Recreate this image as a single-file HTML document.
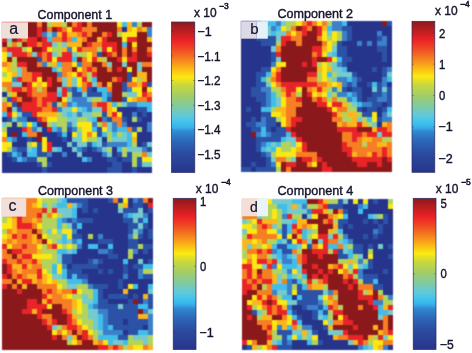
<!DOCTYPE html>
<html><head><meta charset="utf-8"><title>Components</title>
<style>
html,body{margin:0;padding:0;background:#fff}
body{width:472px;height:353px;overflow:hidden;position:relative}
svg{position:absolute;left:0;top:0;display:block}
text{font-family:"Liberation Sans",sans-serif;fill:#14142b;stroke:#14142b;stroke-width:0.4px}
</style></head><body>
<svg width="472" height="353" viewBox="0 0 472 353">
<defs><filter id="soft" x="-2%" y="-2%" width="104%" height="104%" color-interpolation-filters="sRGB"><feConvolveMatrix order="3" kernelMatrix="0.04 0.12 0.04 0.12 0.36 0.12 0.04 0.12 0.04" divisor="1" edgeMode="none" preserveAlpha="false"/></filter>
<linearGradient id="jet" x1="0" y1="0" x2="0" y2="1">
<stop offset="0" stop-color="#8a1a1b"/>
<stop offset="0.125" stop-color="#ed2226"/>
<stop offset="0.19" stop-color="#f05023"/>
<stop offset="0.25" stop-color="#f58220"/>
<stop offset="0.31" stop-color="#fbb716"/>
<stop offset="0.365" stop-color="#fde912"/>
<stop offset="0.42" stop-color="#c8d83c"/>
<stop offset="0.50" stop-color="#9dcc6e"/>
<stop offset="0.57" stop-color="#7ccaa8"/>
<stop offset="0.625" stop-color="#5ec9dc"/>
<stop offset="0.665" stop-color="#41c3ee"/>
<stop offset="0.70" stop-color="#38b2e9"/>
<stop offset="0.73" stop-color="#3088d0"/>
<stop offset="0.79" stop-color="#2d68b8"/>
<stop offset="0.875" stop-color="#2b4b9f"/>
<stop offset="1" stop-color="#27348b"/>
</linearGradient></defs>
<g filter="url(#soft)" shape-rendering="crispEdges">
<rect x="2.00" y="22.30" width="26.22" height="6.21" fill="#e92428"/>
<rect x="27.02" y="22.30" width="11.21" height="6.21" fill="#8b191b"/>
<rect x="37.02" y="22.30" width="6.20" height="6.21" fill="#f57f22"/>
<rect x="42.03" y="22.30" width="6.20" height="6.21" fill="#8b191b"/>
<rect x="47.03" y="22.30" width="6.20" height="6.21" fill="#b3d45c"/>
<rect x="52.03" y="22.30" width="11.21" height="6.21" fill="#fcb61a"/>
<rect x="62.04" y="22.30" width="6.20" height="6.21" fill="#b3d45c"/>
<rect x="67.04" y="22.30" width="6.20" height="6.21" fill="#8b191b"/>
<rect x="72.05" y="22.30" width="6.20" height="6.21" fill="#f57f22"/>
<rect x="77.05" y="22.30" width="6.20" height="6.21" fill="#e92428"/>
<rect x="82.05" y="22.30" width="6.20" height="6.21" fill="#8b191b"/>
<rect x="87.06" y="22.30" width="6.20" height="6.21" fill="#f57f22"/>
<rect x="92.06" y="22.30" width="26.22" height="6.21" fill="#8b191b"/>
<rect x="117.08" y="22.30" width="6.20" height="6.21" fill="#fbe813"/>
<rect x="122.08" y="22.30" width="6.20" height="6.21" fill="#41bdea"/>
<rect x="127.08" y="22.30" width="6.20" height="6.21" fill="#fcb61a"/>
<rect x="132.09" y="22.30" width="6.20" height="6.21" fill="#3a80cb"/>
<rect x="137.09" y="22.30" width="6.20" height="6.21" fill="#b3d45c"/>
<rect x="142.09" y="22.30" width="10.01" height="6.21" fill="#8b191b"/>
<rect x="2.00" y="27.31" width="26.22" height="6.21" fill="#e92428"/>
<rect x="27.02" y="27.31" width="11.21" height="6.21" fill="#8b191b"/>
<rect x="37.02" y="27.31" width="6.20" height="6.21" fill="#e92428"/>
<rect x="42.03" y="27.31" width="6.20" height="6.21" fill="#8b191b"/>
<rect x="47.03" y="27.31" width="6.20" height="6.21" fill="#f57f22"/>
<rect x="52.03" y="27.31" width="6.20" height="6.21" fill="#8b191b"/>
<rect x="57.04" y="27.31" width="6.20" height="6.21" fill="#e92428"/>
<rect x="62.04" y="27.31" width="6.20" height="6.21" fill="#f57f22"/>
<rect x="67.04" y="27.31" width="6.20" height="6.21" fill="#fbe813"/>
<rect x="72.05" y="27.31" width="11.21" height="6.21" fill="#e92428"/>
<rect x="82.05" y="27.31" width="16.21" height="6.21" fill="#f57f22"/>
<rect x="97.06" y="27.31" width="21.21" height="6.21" fill="#8b191b"/>
<rect x="117.08" y="27.31" width="6.20" height="6.21" fill="#f57f22"/>
<rect x="122.08" y="27.31" width="6.20" height="6.21" fill="#27348b"/>
<rect x="127.08" y="27.31" width="6.20" height="6.21" fill="#fcb61a"/>
<rect x="132.09" y="27.31" width="6.20" height="6.21" fill="#fbe813"/>
<rect x="137.09" y="27.31" width="6.20" height="6.21" fill="#f57f22"/>
<rect x="142.09" y="27.31" width="6.20" height="6.21" fill="#fcb61a"/>
<rect x="147.10" y="27.31" width="5.00" height="6.21" fill="#3a80cb"/>
<rect x="2.00" y="32.31" width="26.22" height="6.21" fill="#e92428"/>
<rect x="27.02" y="32.31" width="11.21" height="6.21" fill="#8b191b"/>
<rect x="37.02" y="32.31" width="6.20" height="6.21" fill="#e92428"/>
<rect x="42.03" y="32.31" width="6.20" height="6.21" fill="#3a80cb"/>
<rect x="47.03" y="32.31" width="6.20" height="6.21" fill="#74cacd"/>
<rect x="52.03" y="32.31" width="6.20" height="6.21" fill="#3a80cb"/>
<rect x="57.04" y="32.31" width="6.20" height="6.21" fill="#fcb61a"/>
<rect x="62.04" y="32.31" width="6.20" height="6.21" fill="#e92428"/>
<rect x="67.04" y="32.31" width="11.21" height="6.21" fill="#fcb61a"/>
<rect x="77.05" y="32.31" width="6.20" height="6.21" fill="#f57f22"/>
<rect x="82.05" y="32.31" width="6.20" height="6.21" fill="#e92428"/>
<rect x="87.06" y="32.31" width="6.20" height="6.21" fill="#f57f22"/>
<rect x="92.06" y="32.31" width="11.21" height="6.21" fill="#8b191b"/>
<rect x="102.07" y="32.31" width="6.20" height="6.21" fill="#f57f22"/>
<rect x="107.07" y="32.31" width="6.20" height="6.21" fill="#e92428"/>
<rect x="112.07" y="32.31" width="6.20" height="6.21" fill="#8b191b"/>
<rect x="117.08" y="32.31" width="6.20" height="6.21" fill="#b3d45c"/>
<rect x="122.08" y="32.31" width="16.21" height="6.21" fill="#fbe813"/>
<rect x="137.09" y="32.31" width="11.21" height="6.21" fill="#8b191b"/>
<rect x="147.10" y="32.31" width="5.00" height="6.21" fill="#3a80cb"/>
<rect x="2.00" y="37.32" width="6.20" height="6.21" fill="#e92428"/>
<rect x="7.00" y="37.32" width="6.20" height="6.21" fill="#74cacd"/>
<rect x="12.01" y="37.32" width="6.20" height="6.21" fill="#8b191b"/>
<rect x="17.01" y="37.32" width="6.20" height="6.21" fill="#e92428"/>
<rect x="22.01" y="37.32" width="6.20" height="6.21" fill="#f57f22"/>
<rect x="27.02" y="37.32" width="11.21" height="6.21" fill="#e92428"/>
<rect x="37.02" y="37.32" width="6.20" height="6.21" fill="#8b191b"/>
<rect x="42.03" y="37.32" width="6.20" height="6.21" fill="#e92428"/>
<rect x="47.03" y="37.32" width="6.20" height="6.21" fill="#41bdea"/>
<rect x="52.03" y="37.32" width="11.21" height="6.21" fill="#f57f22"/>
<rect x="62.04" y="37.32" width="6.20" height="6.21" fill="#e92428"/>
<rect x="67.04" y="37.32" width="6.20" height="6.21" fill="#f57f22"/>
<rect x="72.05" y="37.32" width="6.20" height="6.21" fill="#41bdea"/>
<rect x="77.05" y="37.32" width="6.20" height="6.21" fill="#fcb61a"/>
<rect x="82.05" y="37.32" width="6.20" height="6.21" fill="#f57f22"/>
<rect x="87.06" y="37.32" width="11.21" height="6.21" fill="#8b191b"/>
<rect x="97.06" y="37.32" width="6.20" height="6.21" fill="#fcb61a"/>
<rect x="102.07" y="37.32" width="6.20" height="6.21" fill="#e92428"/>
<rect x="107.07" y="37.32" width="16.21" height="6.21" fill="#8b191b"/>
<rect x="122.08" y="37.32" width="6.20" height="6.21" fill="#fbe813"/>
<rect x="127.08" y="37.32" width="11.21" height="6.21" fill="#e92428"/>
<rect x="137.09" y="37.32" width="11.21" height="6.21" fill="#8b191b"/>
<rect x="147.10" y="37.32" width="5.00" height="6.21" fill="#fcb61a"/>
<rect x="2.00" y="42.33" width="6.20" height="6.21" fill="#8b191b"/>
<rect x="7.00" y="42.33" width="6.20" height="6.21" fill="#b3d45c"/>
<rect x="12.01" y="42.33" width="6.20" height="6.21" fill="#f57f22"/>
<rect x="17.01" y="42.33" width="6.20" height="6.21" fill="#b3d45c"/>
<rect x="22.01" y="42.33" width="6.20" height="6.21" fill="#8b191b"/>
<rect x="27.02" y="42.33" width="11.21" height="6.21" fill="#e92428"/>
<rect x="37.02" y="42.33" width="6.20" height="6.21" fill="#f57f22"/>
<rect x="42.03" y="42.33" width="11.21" height="6.21" fill="#e92428"/>
<rect x="52.03" y="42.33" width="6.20" height="6.21" fill="#74cacd"/>
<rect x="57.04" y="42.33" width="6.20" height="6.21" fill="#b3d45c"/>
<rect x="62.04" y="42.33" width="6.20" height="6.21" fill="#74cacd"/>
<rect x="67.04" y="42.33" width="16.21" height="6.21" fill="#fcb61a"/>
<rect x="82.05" y="42.33" width="6.20" height="6.21" fill="#8b191b"/>
<rect x="87.06" y="42.33" width="6.20" height="6.21" fill="#e92428"/>
<rect x="92.06" y="42.33" width="11.21" height="6.21" fill="#f57f22"/>
<rect x="102.07" y="42.33" width="16.21" height="6.21" fill="#e92428"/>
<rect x="117.08" y="42.33" width="6.20" height="6.21" fill="#8b191b"/>
<rect x="122.08" y="42.33" width="6.20" height="6.21" fill="#41bdea"/>
<rect x="127.08" y="42.33" width="6.20" height="6.21" fill="#8b191b"/>
<rect x="132.09" y="42.33" width="6.20" height="6.21" fill="#fbe813"/>
<rect x="137.09" y="42.33" width="15.01" height="6.21" fill="#8b191b"/>
<rect x="2.00" y="47.33" width="6.20" height="6.21" fill="#f57f22"/>
<rect x="7.00" y="47.33" width="16.21" height="6.21" fill="#e92428"/>
<rect x="22.01" y="47.33" width="6.20" height="6.21" fill="#b3d45c"/>
<rect x="27.02" y="47.33" width="6.20" height="6.21" fill="#fbe813"/>
<rect x="32.02" y="47.33" width="11.21" height="6.21" fill="#8b191b"/>
<rect x="42.03" y="47.33" width="6.20" height="6.21" fill="#e92428"/>
<rect x="47.03" y="47.33" width="6.20" height="6.21" fill="#fbe813"/>
<rect x="52.03" y="47.33" width="11.21" height="6.21" fill="#b3d45c"/>
<rect x="62.04" y="47.33" width="6.20" height="6.21" fill="#fcb61a"/>
<rect x="67.04" y="47.33" width="6.20" height="6.21" fill="#3a80cb"/>
<rect x="72.05" y="47.33" width="6.20" height="6.21" fill="#fbe813"/>
<rect x="77.05" y="47.33" width="6.20" height="6.21" fill="#e92428"/>
<rect x="82.05" y="47.33" width="16.21" height="6.21" fill="#f57f22"/>
<rect x="97.06" y="47.33" width="6.20" height="6.21" fill="#b3d45c"/>
<rect x="102.07" y="47.33" width="6.20" height="6.21" fill="#e92428"/>
<rect x="107.07" y="47.33" width="6.20" height="6.21" fill="#fbe813"/>
<rect x="112.07" y="47.33" width="6.20" height="6.21" fill="#e92428"/>
<rect x="117.08" y="47.33" width="6.20" height="6.21" fill="#8b191b"/>
<rect x="122.08" y="47.33" width="6.20" height="6.21" fill="#f57f22"/>
<rect x="127.08" y="47.33" width="6.20" height="6.21" fill="#8b191b"/>
<rect x="132.09" y="47.33" width="6.20" height="6.21" fill="#f57f22"/>
<rect x="137.09" y="47.33" width="11.21" height="6.21" fill="#8b191b"/>
<rect x="147.10" y="47.33" width="5.00" height="6.21" fill="#f57f22"/>
<rect x="2.00" y="52.34" width="6.20" height="6.21" fill="#fbe813"/>
<rect x="7.00" y="52.34" width="6.20" height="6.21" fill="#74cacd"/>
<rect x="12.01" y="52.34" width="16.21" height="6.21" fill="#e92428"/>
<rect x="27.02" y="52.34" width="6.20" height="6.21" fill="#f57f22"/>
<rect x="32.02" y="52.34" width="6.20" height="6.21" fill="#74cacd"/>
<rect x="37.02" y="52.34" width="6.20" height="6.21" fill="#e92428"/>
<rect x="42.03" y="52.34" width="6.20" height="6.21" fill="#f57f22"/>
<rect x="47.03" y="52.34" width="6.20" height="6.21" fill="#e92428"/>
<rect x="52.03" y="52.34" width="6.20" height="6.21" fill="#74cacd"/>
<rect x="57.04" y="52.34" width="6.20" height="6.21" fill="#b3d45c"/>
<rect x="62.04" y="52.34" width="11.21" height="6.21" fill="#e92428"/>
<rect x="72.05" y="52.34" width="6.20" height="6.21" fill="#74cacd"/>
<rect x="77.05" y="52.34" width="11.21" height="6.21" fill="#b3d45c"/>
<rect x="87.06" y="52.34" width="6.20" height="6.21" fill="#fbe813"/>
<rect x="92.06" y="52.34" width="6.20" height="6.21" fill="#f57f22"/>
<rect x="97.06" y="52.34" width="6.20" height="6.21" fill="#2b52a6"/>
<rect x="102.07" y="52.34" width="6.20" height="6.21" fill="#8b191b"/>
<rect x="107.07" y="52.34" width="6.20" height="6.21" fill="#e92428"/>
<rect x="112.07" y="52.34" width="6.20" height="6.21" fill="#f57f22"/>
<rect x="117.08" y="52.34" width="6.20" height="6.21" fill="#8b191b"/>
<rect x="122.08" y="52.34" width="6.20" height="6.21" fill="#f57f22"/>
<rect x="127.08" y="52.34" width="6.20" height="6.21" fill="#8b191b"/>
<rect x="132.09" y="52.34" width="6.20" height="6.21" fill="#e92428"/>
<rect x="137.09" y="52.34" width="11.21" height="6.21" fill="#8b191b"/>
<rect x="147.10" y="52.34" width="5.00" height="6.21" fill="#e92428"/>
<rect x="2.00" y="57.35" width="6.20" height="6.21" fill="#fbe813"/>
<rect x="7.00" y="57.35" width="6.20" height="6.21" fill="#8b191b"/>
<rect x="12.01" y="57.35" width="6.20" height="6.21" fill="#b3d45c"/>
<rect x="17.01" y="57.35" width="21.21" height="6.21" fill="#8b191b"/>
<rect x="37.02" y="57.35" width="6.20" height="6.21" fill="#2b52a6"/>
<rect x="42.03" y="57.35" width="6.20" height="6.21" fill="#f57f22"/>
<rect x="47.03" y="57.35" width="6.20" height="6.21" fill="#e92428"/>
<rect x="52.03" y="57.35" width="6.20" height="6.21" fill="#fbe813"/>
<rect x="57.04" y="57.35" width="16.21" height="6.21" fill="#e92428"/>
<rect x="72.05" y="57.35" width="6.20" height="6.21" fill="#41bdea"/>
<rect x="77.05" y="57.35" width="6.20" height="6.21" fill="#8b191b"/>
<rect x="82.05" y="57.35" width="6.20" height="6.21" fill="#f57f22"/>
<rect x="87.06" y="57.35" width="6.20" height="6.21" fill="#fbe813"/>
<rect x="92.06" y="57.35" width="6.20" height="6.21" fill="#e92428"/>
<rect x="97.06" y="57.35" width="6.20" height="6.21" fill="#fcb61a"/>
<rect x="102.07" y="57.35" width="6.20" height="6.21" fill="#b3d45c"/>
<rect x="107.07" y="57.35" width="11.21" height="6.21" fill="#8b191b"/>
<rect x="117.08" y="57.35" width="6.20" height="6.21" fill="#e92428"/>
<rect x="122.08" y="57.35" width="6.20" height="6.21" fill="#fbe813"/>
<rect x="127.08" y="57.35" width="11.21" height="6.21" fill="#e92428"/>
<rect x="137.09" y="57.35" width="15.01" height="6.21" fill="#8b191b"/>
<rect x="2.00" y="62.35" width="6.20" height="6.21" fill="#f57f22"/>
<rect x="7.00" y="62.35" width="6.20" height="6.21" fill="#fcb61a"/>
<rect x="12.01" y="62.35" width="6.20" height="6.21" fill="#b3d45c"/>
<rect x="17.01" y="62.35" width="11.21" height="6.21" fill="#e92428"/>
<rect x="27.02" y="62.35" width="11.21" height="6.21" fill="#8b191b"/>
<rect x="37.02" y="62.35" width="6.20" height="6.21" fill="#f57f22"/>
<rect x="42.03" y="62.35" width="6.20" height="6.21" fill="#3a80cb"/>
<rect x="47.03" y="62.35" width="6.20" height="6.21" fill="#b3d45c"/>
<rect x="52.03" y="62.35" width="6.20" height="6.21" fill="#fcb61a"/>
<rect x="57.04" y="62.35" width="6.20" height="6.21" fill="#41bdea"/>
<rect x="62.04" y="62.35" width="11.21" height="6.21" fill="#f57f22"/>
<rect x="72.05" y="62.35" width="6.20" height="6.21" fill="#fbe813"/>
<rect x="77.05" y="62.35" width="6.20" height="6.21" fill="#3a80cb"/>
<rect x="82.05" y="62.35" width="11.21" height="6.21" fill="#f57f22"/>
<rect x="92.06" y="62.35" width="11.21" height="6.21" fill="#8b191b"/>
<rect x="102.07" y="62.35" width="6.20" height="6.21" fill="#f57f22"/>
<rect x="107.07" y="62.35" width="6.20" height="6.21" fill="#74cacd"/>
<rect x="112.07" y="62.35" width="11.21" height="6.21" fill="#8b191b"/>
<rect x="122.08" y="62.35" width="6.20" height="6.21" fill="#74cacd"/>
<rect x="127.08" y="62.35" width="11.21" height="6.21" fill="#8b191b"/>
<rect x="137.09" y="62.35" width="6.20" height="6.21" fill="#74cacd"/>
<rect x="142.09" y="62.35" width="10.01" height="6.21" fill="#f57f22"/>
<rect x="2.00" y="67.36" width="6.20" height="6.21" fill="#fbe813"/>
<rect x="7.00" y="67.36" width="6.20" height="6.21" fill="#fcb61a"/>
<rect x="12.01" y="67.36" width="6.20" height="6.21" fill="#b3d45c"/>
<rect x="17.01" y="67.36" width="6.20" height="6.21" fill="#74cacd"/>
<rect x="22.01" y="67.36" width="6.20" height="6.21" fill="#f57f22"/>
<rect x="27.02" y="67.36" width="26.22" height="6.21" fill="#8b191b"/>
<rect x="52.03" y="67.36" width="6.20" height="6.21" fill="#41bdea"/>
<rect x="57.04" y="67.36" width="6.20" height="6.21" fill="#b3d45c"/>
<rect x="62.04" y="67.36" width="11.21" height="6.21" fill="#f57f22"/>
<rect x="72.05" y="67.36" width="6.20" height="6.21" fill="#8b191b"/>
<rect x="77.05" y="67.36" width="6.20" height="6.21" fill="#fbe813"/>
<rect x="82.05" y="67.36" width="6.20" height="6.21" fill="#f57f22"/>
<rect x="87.06" y="67.36" width="6.20" height="6.21" fill="#e92428"/>
<rect x="92.06" y="67.36" width="6.20" height="6.21" fill="#f57f22"/>
<rect x="97.06" y="67.36" width="11.21" height="6.21" fill="#8b191b"/>
<rect x="107.07" y="67.36" width="6.20" height="6.21" fill="#f57f22"/>
<rect x="112.07" y="67.36" width="6.20" height="6.21" fill="#8b191b"/>
<rect x="117.08" y="67.36" width="6.20" height="6.21" fill="#e92428"/>
<rect x="122.08" y="67.36" width="6.20" height="6.21" fill="#8b191b"/>
<rect x="127.08" y="67.36" width="6.20" height="6.21" fill="#fbe813"/>
<rect x="132.09" y="67.36" width="6.20" height="6.21" fill="#8b191b"/>
<rect x="137.09" y="67.36" width="6.20" height="6.21" fill="#74cacd"/>
<rect x="142.09" y="67.36" width="10.01" height="6.21" fill="#8b191b"/>
<rect x="2.00" y="72.37" width="6.20" height="6.21" fill="#b3d45c"/>
<rect x="7.00" y="72.37" width="6.20" height="6.21" fill="#fbe813"/>
<rect x="12.01" y="72.37" width="6.20" height="6.21" fill="#fcb61a"/>
<rect x="17.01" y="72.37" width="6.20" height="6.21" fill="#74cacd"/>
<rect x="22.01" y="72.37" width="11.21" height="6.21" fill="#f57f22"/>
<rect x="32.02" y="72.37" width="11.21" height="6.21" fill="#e92428"/>
<rect x="42.03" y="72.37" width="16.21" height="6.21" fill="#8b191b"/>
<rect x="57.04" y="72.37" width="6.20" height="6.21" fill="#3a80cb"/>
<rect x="62.04" y="72.37" width="6.20" height="6.21" fill="#f57f22"/>
<rect x="67.04" y="72.37" width="6.20" height="6.21" fill="#fcb61a"/>
<rect x="72.05" y="72.37" width="6.20" height="6.21" fill="#fbe813"/>
<rect x="77.05" y="72.37" width="6.20" height="6.21" fill="#e92428"/>
<rect x="82.05" y="72.37" width="6.20" height="6.21" fill="#f57f22"/>
<rect x="87.06" y="72.37" width="6.20" height="6.21" fill="#b3d45c"/>
<rect x="92.06" y="72.37" width="6.20" height="6.21" fill="#e92428"/>
<rect x="97.06" y="72.37" width="31.22" height="6.21" fill="#8b191b"/>
<rect x="127.08" y="72.37" width="6.20" height="6.21" fill="#2b52a6"/>
<rect x="132.09" y="72.37" width="6.20" height="6.21" fill="#8b191b"/>
<rect x="137.09" y="72.37" width="11.21" height="6.21" fill="#fcb61a"/>
<rect x="147.10" y="72.37" width="5.00" height="6.21" fill="#8b191b"/>
<rect x="2.00" y="77.37" width="11.21" height="6.21" fill="#fbe813"/>
<rect x="12.01" y="77.37" width="6.20" height="6.21" fill="#3a80cb"/>
<rect x="17.01" y="77.37" width="6.20" height="6.21" fill="#e92428"/>
<rect x="22.01" y="77.37" width="11.21" height="6.21" fill="#f57f22"/>
<rect x="32.02" y="77.37" width="6.20" height="6.21" fill="#e92428"/>
<rect x="37.02" y="77.37" width="6.20" height="6.21" fill="#fbe813"/>
<rect x="42.03" y="77.37" width="6.20" height="6.21" fill="#8b191b"/>
<rect x="47.03" y="77.37" width="6.20" height="6.21" fill="#e92428"/>
<rect x="52.03" y="77.37" width="6.20" height="6.21" fill="#8b191b"/>
<rect x="57.04" y="77.37" width="6.20" height="6.21" fill="#f57f22"/>
<rect x="62.04" y="77.37" width="6.20" height="6.21" fill="#74cacd"/>
<rect x="67.04" y="77.37" width="6.20" height="6.21" fill="#fcb61a"/>
<rect x="72.05" y="77.37" width="6.20" height="6.21" fill="#74cacd"/>
<rect x="77.05" y="77.37" width="6.20" height="6.21" fill="#fbe813"/>
<rect x="82.05" y="77.37" width="6.20" height="6.21" fill="#e92428"/>
<rect x="87.06" y="77.37" width="6.20" height="6.21" fill="#b3d45c"/>
<rect x="92.06" y="77.37" width="6.20" height="6.21" fill="#41bdea"/>
<rect x="97.06" y="77.37" width="16.21" height="6.21" fill="#8b191b"/>
<rect x="112.07" y="77.37" width="6.20" height="6.21" fill="#f57f22"/>
<rect x="117.08" y="77.37" width="6.20" height="6.21" fill="#e92428"/>
<rect x="122.08" y="77.37" width="6.20" height="6.21" fill="#8b191b"/>
<rect x="127.08" y="77.37" width="6.20" height="6.21" fill="#2b52a6"/>
<rect x="132.09" y="77.37" width="6.20" height="6.21" fill="#fbe813"/>
<rect x="137.09" y="77.37" width="6.20" height="6.21" fill="#b3d45c"/>
<rect x="142.09" y="77.37" width="6.20" height="6.21" fill="#fcb61a"/>
<rect x="147.10" y="77.37" width="5.00" height="6.21" fill="#8b191b"/>
<rect x="2.00" y="82.38" width="11.21" height="6.21" fill="#f57f22"/>
<rect x="12.01" y="82.38" width="11.21" height="6.21" fill="#74cacd"/>
<rect x="22.01" y="82.38" width="6.20" height="6.21" fill="#8b191b"/>
<rect x="27.02" y="82.38" width="6.20" height="6.21" fill="#e92428"/>
<rect x="32.02" y="82.38" width="6.20" height="6.21" fill="#fbe813"/>
<rect x="37.02" y="82.38" width="6.20" height="6.21" fill="#fcb61a"/>
<rect x="42.03" y="82.38" width="6.20" height="6.21" fill="#fbe813"/>
<rect x="47.03" y="82.38" width="6.20" height="6.21" fill="#e92428"/>
<rect x="52.03" y="82.38" width="11.21" height="6.21" fill="#8b191b"/>
<rect x="62.04" y="82.38" width="6.20" height="6.21" fill="#74cacd"/>
<rect x="67.04" y="82.38" width="6.20" height="6.21" fill="#fcb61a"/>
<rect x="72.05" y="82.38" width="6.20" height="6.21" fill="#74cacd"/>
<rect x="77.05" y="82.38" width="6.20" height="6.21" fill="#fbe813"/>
<rect x="82.05" y="82.38" width="6.20" height="6.21" fill="#f57f22"/>
<rect x="87.06" y="82.38" width="6.20" height="6.21" fill="#e92428"/>
<rect x="92.06" y="82.38" width="6.20" height="6.21" fill="#74cacd"/>
<rect x="97.06" y="82.38" width="6.20" height="6.21" fill="#f57f22"/>
<rect x="102.07" y="82.38" width="6.20" height="6.21" fill="#8b191b"/>
<rect x="107.07" y="82.38" width="6.20" height="6.21" fill="#fcb61a"/>
<rect x="112.07" y="82.38" width="11.21" height="6.21" fill="#8b191b"/>
<rect x="122.08" y="82.38" width="6.20" height="6.21" fill="#2b52a6"/>
<rect x="127.08" y="82.38" width="11.21" height="6.21" fill="#f57f22"/>
<rect x="137.09" y="82.38" width="6.20" height="6.21" fill="#fcb61a"/>
<rect x="142.09" y="82.38" width="6.20" height="6.21" fill="#e92428"/>
<rect x="147.10" y="82.38" width="5.00" height="6.21" fill="#2b52a6"/>
<rect x="2.00" y="87.39" width="6.20" height="6.21" fill="#b3d45c"/>
<rect x="7.00" y="87.39" width="6.20" height="6.21" fill="#f57f22"/>
<rect x="12.01" y="87.39" width="11.21" height="6.21" fill="#e92428"/>
<rect x="22.01" y="87.39" width="6.20" height="6.21" fill="#f57f22"/>
<rect x="27.02" y="87.39" width="6.20" height="6.21" fill="#e92428"/>
<rect x="32.02" y="87.39" width="6.20" height="6.21" fill="#f57f22"/>
<rect x="37.02" y="87.39" width="6.20" height="6.21" fill="#b3d45c"/>
<rect x="42.03" y="87.39" width="6.20" height="6.21" fill="#f57f22"/>
<rect x="47.03" y="87.39" width="11.21" height="6.21" fill="#8b191b"/>
<rect x="57.04" y="87.39" width="6.20" height="6.21" fill="#74cacd"/>
<rect x="62.04" y="87.39" width="6.20" height="6.21" fill="#e92428"/>
<rect x="67.04" y="87.39" width="6.20" height="6.21" fill="#3a80cb"/>
<rect x="72.05" y="87.39" width="6.20" height="6.21" fill="#2b52a6"/>
<rect x="77.05" y="87.39" width="6.20" height="6.21" fill="#41bdea"/>
<rect x="82.05" y="87.39" width="6.20" height="6.21" fill="#f57f22"/>
<rect x="87.06" y="87.39" width="6.20" height="6.21" fill="#2b52a6"/>
<rect x="92.06" y="87.39" width="6.20" height="6.21" fill="#27348b"/>
<rect x="97.06" y="87.39" width="11.21" height="6.21" fill="#41bdea"/>
<rect x="107.07" y="87.39" width="6.20" height="6.21" fill="#f57f22"/>
<rect x="112.07" y="87.39" width="11.21" height="6.21" fill="#8b191b"/>
<rect x="122.08" y="87.39" width="6.20" height="6.21" fill="#2b52a6"/>
<rect x="127.08" y="87.39" width="6.20" height="6.21" fill="#3a80cb"/>
<rect x="132.09" y="87.39" width="11.21" height="6.21" fill="#fbe813"/>
<rect x="142.09" y="87.39" width="6.20" height="6.21" fill="#8b191b"/>
<rect x="147.10" y="87.39" width="5.00" height="6.21" fill="#fbe813"/>
<rect x="2.00" y="92.39" width="6.20" height="6.21" fill="#27348b"/>
<rect x="7.00" y="92.39" width="6.20" height="6.21" fill="#b3d45c"/>
<rect x="12.01" y="92.39" width="6.20" height="6.21" fill="#fcb61a"/>
<rect x="17.01" y="92.39" width="11.21" height="6.21" fill="#8b191b"/>
<rect x="27.02" y="92.39" width="6.20" height="6.21" fill="#e92428"/>
<rect x="32.02" y="92.39" width="16.21" height="6.21" fill="#f57f22"/>
<rect x="47.03" y="92.39" width="11.21" height="6.21" fill="#e92428"/>
<rect x="57.04" y="92.39" width="6.20" height="6.21" fill="#41bdea"/>
<rect x="62.04" y="92.39" width="6.20" height="6.21" fill="#e92428"/>
<rect x="67.04" y="92.39" width="6.20" height="6.21" fill="#b3d45c"/>
<rect x="72.05" y="92.39" width="11.21" height="6.21" fill="#2b52a6"/>
<rect x="82.05" y="92.39" width="6.20" height="6.21" fill="#74cacd"/>
<rect x="87.06" y="92.39" width="16.21" height="6.21" fill="#2b52a6"/>
<rect x="102.07" y="92.39" width="6.20" height="6.21" fill="#41bdea"/>
<rect x="107.07" y="92.39" width="6.20" height="6.21" fill="#3a80cb"/>
<rect x="112.07" y="92.39" width="11.21" height="6.21" fill="#8b191b"/>
<rect x="122.08" y="92.39" width="6.20" height="6.21" fill="#b3d45c"/>
<rect x="127.08" y="92.39" width="11.21" height="6.21" fill="#74cacd"/>
<rect x="137.09" y="92.39" width="6.20" height="6.21" fill="#fbe813"/>
<rect x="142.09" y="92.39" width="6.20" height="6.21" fill="#e92428"/>
<rect x="147.10" y="92.39" width="5.00" height="6.21" fill="#f57f22"/>
<rect x="2.00" y="97.40" width="6.20" height="6.21" fill="#b3d45c"/>
<rect x="7.00" y="97.40" width="6.20" height="6.21" fill="#2b52a6"/>
<rect x="12.01" y="97.40" width="6.20" height="6.21" fill="#e92428"/>
<rect x="17.01" y="97.40" width="6.20" height="6.21" fill="#f57f22"/>
<rect x="22.01" y="97.40" width="11.21" height="6.21" fill="#8b191b"/>
<rect x="32.02" y="97.40" width="6.20" height="6.21" fill="#e92428"/>
<rect x="37.02" y="97.40" width="6.20" height="6.21" fill="#f57f22"/>
<rect x="42.03" y="97.40" width="16.21" height="6.21" fill="#e92428"/>
<rect x="57.04" y="97.40" width="6.20" height="6.21" fill="#8b191b"/>
<rect x="62.04" y="97.40" width="6.20" height="6.21" fill="#fbe813"/>
<rect x="67.04" y="97.40" width="6.20" height="6.21" fill="#74cacd"/>
<rect x="72.05" y="97.40" width="16.21" height="6.21" fill="#3a80cb"/>
<rect x="87.06" y="97.40" width="6.20" height="6.21" fill="#74cacd"/>
<rect x="92.06" y="97.40" width="11.21" height="6.21" fill="#b3d45c"/>
<rect x="102.07" y="97.40" width="6.20" height="6.21" fill="#41bdea"/>
<rect x="107.07" y="97.40" width="6.20" height="6.21" fill="#2b52a6"/>
<rect x="112.07" y="97.40" width="11.21" height="6.21" fill="#8b191b"/>
<rect x="122.08" y="97.40" width="6.20" height="6.21" fill="#2b52a6"/>
<rect x="127.08" y="97.40" width="6.20" height="6.21" fill="#fbe813"/>
<rect x="132.09" y="97.40" width="6.20" height="6.21" fill="#fcb61a"/>
<rect x="137.09" y="97.40" width="11.21" height="6.21" fill="#f57f22"/>
<rect x="147.10" y="97.40" width="5.00" height="6.21" fill="#e92428"/>
<rect x="2.00" y="102.41" width="6.20" height="6.21" fill="#f57f22"/>
<rect x="7.00" y="102.41" width="6.20" height="6.21" fill="#fcb61a"/>
<rect x="12.01" y="102.41" width="6.20" height="6.21" fill="#2b52a6"/>
<rect x="17.01" y="102.41" width="6.20" height="6.21" fill="#8b191b"/>
<rect x="22.01" y="102.41" width="16.21" height="6.21" fill="#e92428"/>
<rect x="37.02" y="102.41" width="6.20" height="6.21" fill="#f57f22"/>
<rect x="42.03" y="102.41" width="6.20" height="6.21" fill="#e92428"/>
<rect x="47.03" y="102.41" width="6.20" height="6.21" fill="#f57f22"/>
<rect x="52.03" y="102.41" width="6.20" height="6.21" fill="#2b52a6"/>
<rect x="57.04" y="102.41" width="6.20" height="6.21" fill="#b3d45c"/>
<rect x="62.04" y="102.41" width="6.20" height="6.21" fill="#f57f22"/>
<rect x="67.04" y="102.41" width="6.20" height="6.21" fill="#3a80cb"/>
<rect x="72.05" y="102.41" width="6.20" height="6.21" fill="#41bdea"/>
<rect x="77.05" y="102.41" width="16.21" height="6.21" fill="#3a80cb"/>
<rect x="92.06" y="102.41" width="6.20" height="6.21" fill="#f57f22"/>
<rect x="97.06" y="102.41" width="11.21" height="6.21" fill="#e92428"/>
<rect x="107.07" y="102.41" width="6.20" height="6.21" fill="#fcb61a"/>
<rect x="112.07" y="102.41" width="6.20" height="6.21" fill="#41bdea"/>
<rect x="117.08" y="102.41" width="6.20" height="6.21" fill="#b3d45c"/>
<rect x="122.08" y="102.41" width="6.20" height="6.21" fill="#74cacd"/>
<rect x="127.08" y="102.41" width="11.21" height="6.21" fill="#3a80cb"/>
<rect x="137.09" y="102.41" width="15.01" height="6.21" fill="#41bdea"/>
<rect x="2.00" y="107.41" width="6.20" height="6.21" fill="#f57f22"/>
<rect x="7.00" y="107.41" width="6.20" height="6.21" fill="#8b191b"/>
<rect x="12.01" y="107.41" width="6.20" height="6.21" fill="#74cacd"/>
<rect x="17.01" y="107.41" width="6.20" height="6.21" fill="#2b52a6"/>
<rect x="22.01" y="107.41" width="21.21" height="6.21" fill="#e92428"/>
<rect x="42.03" y="107.41" width="11.21" height="6.21" fill="#f57f22"/>
<rect x="52.03" y="107.41" width="6.20" height="6.21" fill="#e92428"/>
<rect x="57.04" y="107.41" width="6.20" height="6.21" fill="#3a80cb"/>
<rect x="62.04" y="107.41" width="11.21" height="6.21" fill="#74cacd"/>
<rect x="72.05" y="107.41" width="6.20" height="6.21" fill="#fbe813"/>
<rect x="77.05" y="107.41" width="6.20" height="6.21" fill="#74cacd"/>
<rect x="82.05" y="107.41" width="6.20" height="6.21" fill="#41bdea"/>
<rect x="87.06" y="107.41" width="6.20" height="6.21" fill="#3a80cb"/>
<rect x="92.06" y="107.41" width="11.21" height="6.21" fill="#74cacd"/>
<rect x="102.07" y="107.41" width="6.20" height="6.21" fill="#e92428"/>
<rect x="107.07" y="107.41" width="6.20" height="6.21" fill="#fcb61a"/>
<rect x="112.07" y="107.41" width="6.20" height="6.21" fill="#fbe813"/>
<rect x="117.08" y="107.41" width="21.21" height="6.21" fill="#27348b"/>
<rect x="137.09" y="107.41" width="11.21" height="6.21" fill="#2b52a6"/>
<rect x="147.10" y="107.41" width="5.00" height="6.21" fill="#41bdea"/>
<rect x="2.00" y="112.42" width="6.20" height="6.21" fill="#41bdea"/>
<rect x="7.00" y="112.42" width="6.20" height="6.21" fill="#e92428"/>
<rect x="12.01" y="112.42" width="6.20" height="6.21" fill="#fbe813"/>
<rect x="17.01" y="112.42" width="6.20" height="6.21" fill="#74cacd"/>
<rect x="22.01" y="112.42" width="11.21" height="6.21" fill="#2b52a6"/>
<rect x="32.02" y="112.42" width="6.20" height="6.21" fill="#e92428"/>
<rect x="37.02" y="112.42" width="21.21" height="6.21" fill="#fcb61a"/>
<rect x="57.04" y="112.42" width="6.20" height="6.21" fill="#b3d45c"/>
<rect x="62.04" y="112.42" width="6.20" height="6.21" fill="#74cacd"/>
<rect x="67.04" y="112.42" width="6.20" height="6.21" fill="#41bdea"/>
<rect x="72.05" y="112.42" width="6.20" height="6.21" fill="#74cacd"/>
<rect x="77.05" y="112.42" width="6.20" height="6.21" fill="#3a80cb"/>
<rect x="82.05" y="112.42" width="11.21" height="6.21" fill="#74cacd"/>
<rect x="92.06" y="112.42" width="11.21" height="6.21" fill="#b3d45c"/>
<rect x="102.07" y="112.42" width="6.20" height="6.21" fill="#2b52a6"/>
<rect x="107.07" y="112.42" width="6.20" height="6.21" fill="#fcb61a"/>
<rect x="112.07" y="112.42" width="6.20" height="6.21" fill="#e92428"/>
<rect x="117.08" y="112.42" width="6.20" height="6.21" fill="#fbe813"/>
<rect x="122.08" y="112.42" width="11.21" height="6.21" fill="#27348b"/>
<rect x="132.09" y="112.42" width="6.20" height="6.21" fill="#3a80cb"/>
<rect x="137.09" y="112.42" width="6.20" height="6.21" fill="#27348b"/>
<rect x="142.09" y="112.42" width="6.20" height="6.21" fill="#2b52a6"/>
<rect x="147.10" y="112.42" width="5.00" height="6.21" fill="#27348b"/>
<rect x="2.00" y="117.43" width="6.20" height="6.21" fill="#27348b"/>
<rect x="7.00" y="117.43" width="6.20" height="6.21" fill="#2b52a6"/>
<rect x="12.01" y="117.43" width="6.20" height="6.21" fill="#74cacd"/>
<rect x="17.01" y="117.43" width="11.21" height="6.21" fill="#3a80cb"/>
<rect x="27.02" y="117.43" width="11.21" height="6.21" fill="#27348b"/>
<rect x="37.02" y="117.43" width="6.20" height="6.21" fill="#e92428"/>
<rect x="42.03" y="117.43" width="6.20" height="6.21" fill="#f57f22"/>
<rect x="47.03" y="117.43" width="11.21" height="6.21" fill="#fbe813"/>
<rect x="57.04" y="117.43" width="11.21" height="6.21" fill="#b3d45c"/>
<rect x="67.04" y="117.43" width="11.21" height="6.21" fill="#74cacd"/>
<rect x="77.05" y="117.43" width="11.21" height="6.21" fill="#b3d45c"/>
<rect x="87.06" y="117.43" width="6.20" height="6.21" fill="#74cacd"/>
<rect x="92.06" y="117.43" width="6.20" height="6.21" fill="#41bdea"/>
<rect x="97.06" y="117.43" width="6.20" height="6.21" fill="#8b191b"/>
<rect x="102.07" y="117.43" width="6.20" height="6.21" fill="#3a80cb"/>
<rect x="107.07" y="117.43" width="6.20" height="6.21" fill="#2b52a6"/>
<rect x="112.07" y="117.43" width="11.21" height="6.21" fill="#f57f22"/>
<rect x="122.08" y="117.43" width="6.20" height="6.21" fill="#2b52a6"/>
<rect x="127.08" y="117.43" width="6.20" height="6.21" fill="#27348b"/>
<rect x="132.09" y="117.43" width="6.20" height="6.21" fill="#b3d45c"/>
<rect x="137.09" y="117.43" width="6.20" height="6.21" fill="#2b52a6"/>
<rect x="142.09" y="117.43" width="10.01" height="6.21" fill="#27348b"/>
<rect x="2.00" y="122.43" width="6.20" height="6.21" fill="#74cacd"/>
<rect x="7.00" y="122.43" width="6.20" height="6.21" fill="#b3d45c"/>
<rect x="12.01" y="122.43" width="6.20" height="6.21" fill="#27348b"/>
<rect x="17.01" y="122.43" width="6.20" height="6.21" fill="#b3d45c"/>
<rect x="22.01" y="122.43" width="6.20" height="6.21" fill="#41bdea"/>
<rect x="27.02" y="122.43" width="6.20" height="6.21" fill="#fbe813"/>
<rect x="32.02" y="122.43" width="6.20" height="6.21" fill="#41bdea"/>
<rect x="37.02" y="122.43" width="6.20" height="6.21" fill="#27348b"/>
<rect x="42.03" y="122.43" width="6.20" height="6.21" fill="#8b191b"/>
<rect x="47.03" y="122.43" width="6.20" height="6.21" fill="#b3d45c"/>
<rect x="52.03" y="122.43" width="6.20" height="6.21" fill="#74cacd"/>
<rect x="57.04" y="122.43" width="11.21" height="6.21" fill="#b3d45c"/>
<rect x="67.04" y="122.43" width="6.20" height="6.21" fill="#3a80cb"/>
<rect x="72.05" y="122.43" width="6.20" height="6.21" fill="#74cacd"/>
<rect x="77.05" y="122.43" width="16.21" height="6.21" fill="#fbe813"/>
<rect x="92.06" y="122.43" width="6.20" height="6.21" fill="#3a80cb"/>
<rect x="97.06" y="122.43" width="6.20" height="6.21" fill="#b3d45c"/>
<rect x="102.07" y="122.43" width="6.20" height="6.21" fill="#f57f22"/>
<rect x="107.07" y="122.43" width="6.20" height="6.21" fill="#74cacd"/>
<rect x="112.07" y="122.43" width="6.20" height="6.21" fill="#3a80cb"/>
<rect x="117.08" y="122.43" width="6.20" height="6.21" fill="#f57f22"/>
<rect x="122.08" y="122.43" width="6.20" height="6.21" fill="#3a80cb"/>
<rect x="127.08" y="122.43" width="21.21" height="6.21" fill="#27348b"/>
<rect x="147.10" y="122.43" width="5.00" height="6.21" fill="#3a80cb"/>
<rect x="2.00" y="127.44" width="6.20" height="6.21" fill="#b3d45c"/>
<rect x="7.00" y="127.44" width="16.21" height="6.21" fill="#27348b"/>
<rect x="22.01" y="127.44" width="6.20" height="6.21" fill="#e92428"/>
<rect x="27.02" y="127.44" width="6.20" height="6.21" fill="#f57f22"/>
<rect x="32.02" y="127.44" width="6.20" height="6.21" fill="#3a80cb"/>
<rect x="37.02" y="127.44" width="6.20" height="6.21" fill="#74cacd"/>
<rect x="42.03" y="127.44" width="6.20" height="6.21" fill="#27348b"/>
<rect x="47.03" y="127.44" width="6.20" height="6.21" fill="#e92428"/>
<rect x="52.03" y="127.44" width="6.20" height="6.21" fill="#41bdea"/>
<rect x="57.04" y="127.44" width="6.20" height="6.21" fill="#3a80cb"/>
<rect x="62.04" y="127.44" width="6.20" height="6.21" fill="#b3d45c"/>
<rect x="67.04" y="127.44" width="6.20" height="6.21" fill="#2b52a6"/>
<rect x="72.05" y="127.44" width="6.20" height="6.21" fill="#3a80cb"/>
<rect x="77.05" y="127.44" width="6.20" height="6.21" fill="#b3d45c"/>
<rect x="82.05" y="127.44" width="11.21" height="6.21" fill="#fbe813"/>
<rect x="92.06" y="127.44" width="6.20" height="6.21" fill="#41bdea"/>
<rect x="97.06" y="127.44" width="6.20" height="6.21" fill="#2b52a6"/>
<rect x="102.07" y="127.44" width="6.20" height="6.21" fill="#fbe813"/>
<rect x="107.07" y="127.44" width="6.20" height="6.21" fill="#74cacd"/>
<rect x="112.07" y="127.44" width="6.20" height="6.21" fill="#3a80cb"/>
<rect x="117.08" y="127.44" width="11.21" height="6.21" fill="#41bdea"/>
<rect x="127.08" y="127.44" width="6.20" height="6.21" fill="#f57f22"/>
<rect x="132.09" y="127.44" width="6.20" height="6.21" fill="#2b52a6"/>
<rect x="137.09" y="127.44" width="6.20" height="6.21" fill="#b3d45c"/>
<rect x="142.09" y="127.44" width="6.20" height="6.21" fill="#27348b"/>
<rect x="147.10" y="127.44" width="5.00" height="6.21" fill="#3a80cb"/>
<rect x="2.00" y="132.45" width="6.20" height="6.21" fill="#fbe813"/>
<rect x="7.00" y="132.45" width="6.20" height="6.21" fill="#27348b"/>
<rect x="12.01" y="132.45" width="6.20" height="6.21" fill="#8b191b"/>
<rect x="17.01" y="132.45" width="6.20" height="6.21" fill="#27348b"/>
<rect x="22.01" y="132.45" width="6.20" height="6.21" fill="#41bdea"/>
<rect x="27.02" y="132.45" width="11.21" height="6.21" fill="#f57f22"/>
<rect x="37.02" y="132.45" width="6.20" height="6.21" fill="#8b191b"/>
<rect x="42.03" y="132.45" width="16.21" height="6.21" fill="#27348b"/>
<rect x="57.04" y="132.45" width="6.20" height="6.21" fill="#2b52a6"/>
<rect x="62.04" y="132.45" width="6.20" height="6.21" fill="#41bdea"/>
<rect x="67.04" y="132.45" width="6.20" height="6.21" fill="#27348b"/>
<rect x="72.05" y="132.45" width="6.20" height="6.21" fill="#fbe813"/>
<rect x="77.05" y="132.45" width="6.20" height="6.21" fill="#74cacd"/>
<rect x="82.05" y="132.45" width="6.20" height="6.21" fill="#fbe813"/>
<rect x="87.06" y="132.45" width="6.20" height="6.21" fill="#f57f22"/>
<rect x="92.06" y="132.45" width="6.20" height="6.21" fill="#fbe813"/>
<rect x="97.06" y="132.45" width="6.20" height="6.21" fill="#2b52a6"/>
<rect x="102.07" y="132.45" width="6.20" height="6.21" fill="#41bdea"/>
<rect x="107.07" y="132.45" width="6.20" height="6.21" fill="#b3d45c"/>
<rect x="112.07" y="132.45" width="6.20" height="6.21" fill="#41bdea"/>
<rect x="117.08" y="132.45" width="6.20" height="6.21" fill="#b3d45c"/>
<rect x="122.08" y="132.45" width="6.20" height="6.21" fill="#74cacd"/>
<rect x="127.08" y="132.45" width="6.20" height="6.21" fill="#41bdea"/>
<rect x="132.09" y="132.45" width="6.20" height="6.21" fill="#fbe813"/>
<rect x="137.09" y="132.45" width="15.01" height="6.21" fill="#27348b"/>
<rect x="2.00" y="137.45" width="6.20" height="6.21" fill="#f57f22"/>
<rect x="7.00" y="137.45" width="6.20" height="6.21" fill="#41bdea"/>
<rect x="12.01" y="137.45" width="6.20" height="6.21" fill="#3a80cb"/>
<rect x="17.01" y="137.45" width="11.21" height="6.21" fill="#27348b"/>
<rect x="27.02" y="137.45" width="6.20" height="6.21" fill="#2b52a6"/>
<rect x="32.02" y="137.45" width="6.20" height="6.21" fill="#27348b"/>
<rect x="37.02" y="137.45" width="6.20" height="6.21" fill="#8b191b"/>
<rect x="42.03" y="137.45" width="6.20" height="6.21" fill="#fbe813"/>
<rect x="47.03" y="137.45" width="16.21" height="6.21" fill="#27348b"/>
<rect x="62.04" y="137.45" width="6.20" height="6.21" fill="#2b52a6"/>
<rect x="67.04" y="137.45" width="6.20" height="6.21" fill="#27348b"/>
<rect x="72.05" y="137.45" width="11.21" height="6.21" fill="#74cacd"/>
<rect x="82.05" y="137.45" width="6.20" height="6.21" fill="#fbe813"/>
<rect x="87.06" y="137.45" width="11.21" height="6.21" fill="#b3d45c"/>
<rect x="97.06" y="137.45" width="6.20" height="6.21" fill="#74cacd"/>
<rect x="102.07" y="137.45" width="6.20" height="6.21" fill="#27348b"/>
<rect x="107.07" y="137.45" width="6.20" height="6.21" fill="#b3d45c"/>
<rect x="112.07" y="137.45" width="16.21" height="6.21" fill="#74cacd"/>
<rect x="127.08" y="137.45" width="6.20" height="6.21" fill="#41bdea"/>
<rect x="132.09" y="137.45" width="6.20" height="6.21" fill="#fcb61a"/>
<rect x="137.09" y="137.45" width="15.01" height="6.21" fill="#27348b"/>
<rect x="2.00" y="142.46" width="11.21" height="6.21" fill="#fbe813"/>
<rect x="12.01" y="142.46" width="16.21" height="6.21" fill="#27348b"/>
<rect x="27.02" y="142.46" width="6.20" height="6.21" fill="#b3d45c"/>
<rect x="32.02" y="142.46" width="6.20" height="6.21" fill="#fbe813"/>
<rect x="37.02" y="142.46" width="6.20" height="6.21" fill="#2b52a6"/>
<rect x="42.03" y="142.46" width="6.20" height="6.21" fill="#fbe813"/>
<rect x="47.03" y="142.46" width="6.20" height="6.21" fill="#e92428"/>
<rect x="52.03" y="142.46" width="16.21" height="6.21" fill="#27348b"/>
<rect x="67.04" y="142.46" width="6.20" height="6.21" fill="#74cacd"/>
<rect x="72.05" y="142.46" width="6.20" height="6.21" fill="#2b52a6"/>
<rect x="77.05" y="142.46" width="11.21" height="6.21" fill="#74cacd"/>
<rect x="87.06" y="142.46" width="6.20" height="6.21" fill="#2b52a6"/>
<rect x="92.06" y="142.46" width="6.20" height="6.21" fill="#41bdea"/>
<rect x="97.06" y="142.46" width="6.20" height="6.21" fill="#74cacd"/>
<rect x="102.07" y="142.46" width="6.20" height="6.21" fill="#2b52a6"/>
<rect x="107.07" y="142.46" width="21.21" height="6.21" fill="#3a80cb"/>
<rect x="127.08" y="142.46" width="6.20" height="6.21" fill="#41bdea"/>
<rect x="132.09" y="142.46" width="6.20" height="6.21" fill="#b3d45c"/>
<rect x="137.09" y="142.46" width="6.20" height="6.21" fill="#27348b"/>
<rect x="142.09" y="142.46" width="6.20" height="6.21" fill="#2b52a6"/>
<rect x="147.10" y="142.46" width="5.00" height="6.21" fill="#74cacd"/>
<rect x="2.00" y="147.47" width="6.20" height="6.21" fill="#fbe813"/>
<rect x="7.00" y="147.47" width="6.20" height="6.21" fill="#b3d45c"/>
<rect x="12.01" y="147.47" width="6.20" height="6.21" fill="#3a80cb"/>
<rect x="17.01" y="147.47" width="11.21" height="6.21" fill="#2b52a6"/>
<rect x="27.02" y="147.47" width="6.20" height="6.21" fill="#74cacd"/>
<rect x="32.02" y="147.47" width="6.20" height="6.21" fill="#41bdea"/>
<rect x="37.02" y="147.47" width="6.20" height="6.21" fill="#2b52a6"/>
<rect x="42.03" y="147.47" width="6.20" height="6.21" fill="#fbe813"/>
<rect x="47.03" y="147.47" width="6.20" height="6.21" fill="#e92428"/>
<rect x="52.03" y="147.47" width="6.20" height="6.21" fill="#74cacd"/>
<rect x="57.04" y="147.47" width="6.20" height="6.21" fill="#41bdea"/>
<rect x="62.04" y="147.47" width="11.21" height="6.21" fill="#27348b"/>
<rect x="72.05" y="147.47" width="6.20" height="6.21" fill="#74cacd"/>
<rect x="77.05" y="147.47" width="6.20" height="6.21" fill="#3a80cb"/>
<rect x="82.05" y="147.47" width="6.20" height="6.21" fill="#2b52a6"/>
<rect x="87.06" y="147.47" width="6.20" height="6.21" fill="#27348b"/>
<rect x="92.06" y="147.47" width="6.20" height="6.21" fill="#2b52a6"/>
<rect x="97.06" y="147.47" width="6.20" height="6.21" fill="#3a80cb"/>
<rect x="102.07" y="147.47" width="6.20" height="6.21" fill="#74cacd"/>
<rect x="107.07" y="147.47" width="6.20" height="6.21" fill="#b3d45c"/>
<rect x="112.07" y="147.47" width="6.20" height="6.21" fill="#27348b"/>
<rect x="117.08" y="147.47" width="6.20" height="6.21" fill="#41bdea"/>
<rect x="122.08" y="147.47" width="6.20" height="6.21" fill="#b3d45c"/>
<rect x="127.08" y="147.47" width="16.21" height="6.21" fill="#74cacd"/>
<rect x="142.09" y="147.47" width="6.20" height="6.21" fill="#3a80cb"/>
<rect x="147.10" y="147.47" width="5.00" height="6.21" fill="#2b52a6"/>
<rect x="2.00" y="152.47" width="6.20" height="6.21" fill="#27348b"/>
<rect x="7.00" y="152.47" width="6.20" height="6.21" fill="#2b52a6"/>
<rect x="12.01" y="152.47" width="6.20" height="6.21" fill="#41bdea"/>
<rect x="17.01" y="152.47" width="6.20" height="6.21" fill="#3a80cb"/>
<rect x="22.01" y="152.47" width="6.20" height="6.21" fill="#27348b"/>
<rect x="27.02" y="152.47" width="11.21" height="6.21" fill="#41bdea"/>
<rect x="37.02" y="152.47" width="11.21" height="6.21" fill="#2b52a6"/>
<rect x="47.03" y="152.47" width="6.20" height="6.21" fill="#3a80cb"/>
<rect x="52.03" y="152.47" width="11.21" height="6.21" fill="#27348b"/>
<rect x="62.04" y="152.47" width="6.20" height="6.21" fill="#3a80cb"/>
<rect x="67.04" y="152.47" width="11.21" height="6.21" fill="#27348b"/>
<rect x="77.05" y="152.47" width="6.20" height="6.21" fill="#74cacd"/>
<rect x="82.05" y="152.47" width="21.21" height="6.21" fill="#27348b"/>
<rect x="102.07" y="152.47" width="6.20" height="6.21" fill="#3a80cb"/>
<rect x="107.07" y="152.47" width="6.20" height="6.21" fill="#74cacd"/>
<rect x="112.07" y="152.47" width="6.20" height="6.21" fill="#27348b"/>
<rect x="117.08" y="152.47" width="6.20" height="6.21" fill="#2b52a6"/>
<rect x="122.08" y="152.47" width="6.20" height="6.21" fill="#b3d45c"/>
<rect x="127.08" y="152.47" width="6.20" height="6.21" fill="#2b52a6"/>
<rect x="132.09" y="152.47" width="11.21" height="6.21" fill="#b3d45c"/>
<rect x="142.09" y="152.47" width="6.20" height="6.21" fill="#f57f22"/>
<rect x="147.10" y="152.47" width="5.00" height="6.21" fill="#74cacd"/>
<rect x="2.00" y="157.48" width="11.21" height="6.21" fill="#27348b"/>
<rect x="12.01" y="157.48" width="6.20" height="6.21" fill="#2b52a6"/>
<rect x="17.01" y="157.48" width="6.20" height="6.21" fill="#41bdea"/>
<rect x="22.01" y="157.48" width="6.20" height="6.21" fill="#3a80cb"/>
<rect x="27.02" y="157.48" width="11.21" height="6.21" fill="#2b52a6"/>
<rect x="37.02" y="157.48" width="11.21" height="6.21" fill="#b3d45c"/>
<rect x="47.03" y="157.48" width="36.22" height="6.21" fill="#27348b"/>
<rect x="82.05" y="157.48" width="6.20" height="6.21" fill="#41bdea"/>
<rect x="87.06" y="157.48" width="6.20" height="6.21" fill="#3a80cb"/>
<rect x="92.06" y="157.48" width="16.21" height="6.21" fill="#27348b"/>
<rect x="107.07" y="157.48" width="11.21" height="6.21" fill="#2b52a6"/>
<rect x="117.08" y="157.48" width="6.20" height="6.21" fill="#27348b"/>
<rect x="122.08" y="157.48" width="11.21" height="6.21" fill="#2b52a6"/>
<rect x="132.09" y="157.48" width="6.20" height="6.21" fill="#b3d45c"/>
<rect x="137.09" y="157.48" width="6.20" height="6.21" fill="#2b52a6"/>
<rect x="142.09" y="157.48" width="10.01" height="6.21" fill="#fbe813"/>
<rect x="2.00" y="162.49" width="36.22" height="6.21" fill="#27348b"/>
<rect x="37.02" y="162.49" width="6.20" height="6.21" fill="#2b52a6"/>
<rect x="42.03" y="162.49" width="6.20" height="6.21" fill="#b3d45c"/>
<rect x="47.03" y="162.49" width="6.20" height="6.21" fill="#2b52a6"/>
<rect x="52.03" y="162.49" width="61.24" height="6.21" fill="#27348b"/>
<rect x="112.07" y="162.49" width="11.21" height="6.21" fill="#2b52a6"/>
<rect x="122.08" y="162.49" width="11.21" height="6.21" fill="#27348b"/>
<rect x="132.09" y="162.49" width="6.20" height="6.21" fill="#b3d45c"/>
<rect x="137.09" y="162.49" width="6.20" height="6.21" fill="#2b52a6"/>
<rect x="142.09" y="162.49" width="10.01" height="6.21" fill="#74cacd"/>
<rect x="2.00" y="167.49" width="41.23" height="5.01" fill="#27348b"/>
<rect x="42.03" y="167.49" width="6.20" height="5.01" fill="#2b52a6"/>
<rect x="47.03" y="167.49" width="61.24" height="5.01" fill="#27348b"/>
<rect x="107.07" y="167.49" width="16.21" height="5.01" fill="#2b52a6"/>
<rect x="122.08" y="167.49" width="11.21" height="5.01" fill="#27348b"/>
<rect x="132.09" y="167.49" width="6.20" height="5.01" fill="#2b52a6"/>
<rect x="137.09" y="167.49" width="15.01" height="5.01" fill="#27348b"/>
</g>
<g filter="url(#soft)" shape-rendering="crispEdges">
<rect x="241.10" y="21.30" width="16.30" height="6.24" fill="#27348b"/>
<rect x="256.20" y="21.30" width="6.23" height="6.24" fill="#2b52a6"/>
<rect x="261.23" y="21.30" width="16.30" height="6.24" fill="#41bdea"/>
<rect x="276.33" y="21.30" width="6.23" height="6.24" fill="#3a80cb"/>
<rect x="281.37" y="21.30" width="6.23" height="6.24" fill="#74cacd"/>
<rect x="286.40" y="21.30" width="11.27" height="6.24" fill="#b3d45c"/>
<rect x="296.47" y="21.30" width="6.23" height="6.24" fill="#fbe813"/>
<rect x="301.50" y="21.30" width="6.23" height="6.24" fill="#f57f22"/>
<rect x="306.53" y="21.30" width="6.23" height="6.24" fill="#e92428"/>
<rect x="311.57" y="21.30" width="6.23" height="6.24" fill="#f57f22"/>
<rect x="316.60" y="21.30" width="6.23" height="6.24" fill="#fbe813"/>
<rect x="321.63" y="21.30" width="6.23" height="6.24" fill="#f57f22"/>
<rect x="326.67" y="21.30" width="6.23" height="6.24" fill="#b3d45c"/>
<rect x="331.70" y="21.30" width="11.27" height="6.24" fill="#3a80cb"/>
<rect x="341.77" y="21.30" width="6.23" height="6.24" fill="#41bdea"/>
<rect x="346.80" y="21.30" width="36.43" height="6.24" fill="#27348b"/>
<rect x="382.03" y="21.30" width="6.23" height="6.24" fill="#8b191b"/>
<rect x="387.07" y="21.30" width="5.03" height="6.24" fill="#2b52a6"/>
<rect x="241.10" y="26.34" width="16.30" height="6.24" fill="#27348b"/>
<rect x="256.20" y="26.34" width="6.23" height="6.24" fill="#2b52a6"/>
<rect x="261.23" y="26.34" width="6.23" height="6.24" fill="#41bdea"/>
<rect x="266.27" y="26.34" width="6.23" height="6.24" fill="#74cacd"/>
<rect x="271.30" y="26.34" width="6.23" height="6.24" fill="#3a80cb"/>
<rect x="276.33" y="26.34" width="6.23" height="6.24" fill="#41bdea"/>
<rect x="281.37" y="26.34" width="6.23" height="6.24" fill="#fbe813"/>
<rect x="286.40" y="26.34" width="6.23" height="6.24" fill="#b3d45c"/>
<rect x="291.43" y="26.34" width="6.23" height="6.24" fill="#f57f22"/>
<rect x="296.47" y="26.34" width="6.23" height="6.24" fill="#8b191b"/>
<rect x="301.50" y="26.34" width="6.23" height="6.24" fill="#e92428"/>
<rect x="306.53" y="26.34" width="6.23" height="6.24" fill="#f57f22"/>
<rect x="311.57" y="26.34" width="6.23" height="6.24" fill="#8b191b"/>
<rect x="316.60" y="26.34" width="6.23" height="6.24" fill="#e92428"/>
<rect x="321.63" y="26.34" width="6.23" height="6.24" fill="#fcb61a"/>
<rect x="326.67" y="26.34" width="6.23" height="6.24" fill="#41bdea"/>
<rect x="331.70" y="26.34" width="11.27" height="6.24" fill="#3a80cb"/>
<rect x="341.77" y="26.34" width="11.27" height="6.24" fill="#2b52a6"/>
<rect x="351.83" y="26.34" width="40.27" height="6.24" fill="#27348b"/>
<rect x="241.10" y="31.37" width="16.30" height="6.24" fill="#27348b"/>
<rect x="256.20" y="31.37" width="6.23" height="6.24" fill="#2b52a6"/>
<rect x="261.23" y="31.37" width="6.23" height="6.24" fill="#41bdea"/>
<rect x="266.27" y="31.37" width="6.23" height="6.24" fill="#74cacd"/>
<rect x="271.30" y="31.37" width="6.23" height="6.24" fill="#41bdea"/>
<rect x="276.33" y="31.37" width="11.27" height="6.24" fill="#74cacd"/>
<rect x="286.40" y="31.37" width="6.23" height="6.24" fill="#f57f22"/>
<rect x="291.43" y="31.37" width="6.23" height="6.24" fill="#fbe813"/>
<rect x="296.47" y="31.37" width="6.23" height="6.24" fill="#f57f22"/>
<rect x="301.50" y="31.37" width="6.23" height="6.24" fill="#e92428"/>
<rect x="306.53" y="31.37" width="11.27" height="6.24" fill="#8b191b"/>
<rect x="316.60" y="31.37" width="6.23" height="6.24" fill="#e92428"/>
<rect x="321.63" y="31.37" width="6.23" height="6.24" fill="#fbe813"/>
<rect x="326.67" y="31.37" width="6.23" height="6.24" fill="#74cacd"/>
<rect x="331.70" y="31.37" width="6.23" height="6.24" fill="#fbe813"/>
<rect x="336.73" y="31.37" width="6.23" height="6.24" fill="#b3d45c"/>
<rect x="341.77" y="31.37" width="6.23" height="6.24" fill="#3a80cb"/>
<rect x="346.80" y="31.37" width="6.23" height="6.24" fill="#2b52a6"/>
<rect x="351.83" y="31.37" width="26.37" height="6.24" fill="#27348b"/>
<rect x="377.00" y="31.37" width="6.23" height="6.24" fill="#3a80cb"/>
<rect x="382.03" y="31.37" width="10.07" height="6.24" fill="#27348b"/>
<rect x="241.10" y="36.41" width="16.30" height="6.24" fill="#27348b"/>
<rect x="256.20" y="36.41" width="21.33" height="6.24" fill="#2b52a6"/>
<rect x="276.33" y="36.41" width="6.23" height="6.24" fill="#74cacd"/>
<rect x="281.37" y="36.41" width="11.27" height="6.24" fill="#e92428"/>
<rect x="291.43" y="36.41" width="11.27" height="6.24" fill="#f57f22"/>
<rect x="301.50" y="36.41" width="16.30" height="6.24" fill="#8b191b"/>
<rect x="316.60" y="36.41" width="6.23" height="6.24" fill="#f57f22"/>
<rect x="321.63" y="36.41" width="6.23" height="6.24" fill="#fbe813"/>
<rect x="326.67" y="36.41" width="6.23" height="6.24" fill="#b3d45c"/>
<rect x="331.70" y="36.41" width="6.23" height="6.24" fill="#fbe813"/>
<rect x="336.73" y="36.41" width="6.23" height="6.24" fill="#b3d45c"/>
<rect x="341.77" y="36.41" width="6.23" height="6.24" fill="#3a80cb"/>
<rect x="346.80" y="36.41" width="6.23" height="6.24" fill="#2b52a6"/>
<rect x="351.83" y="36.41" width="26.37" height="6.24" fill="#27348b"/>
<rect x="377.00" y="36.41" width="6.23" height="6.24" fill="#2b52a6"/>
<rect x="382.03" y="36.41" width="6.23" height="6.24" fill="#3a80cb"/>
<rect x="387.07" y="36.41" width="5.03" height="6.24" fill="#27348b"/>
<rect x="241.10" y="41.45" width="21.33" height="6.24" fill="#27348b"/>
<rect x="261.23" y="41.45" width="16.30" height="6.24" fill="#2b52a6"/>
<rect x="276.33" y="41.45" width="6.23" height="6.24" fill="#b3d45c"/>
<rect x="281.37" y="41.45" width="6.23" height="6.24" fill="#e92428"/>
<rect x="286.40" y="41.45" width="11.27" height="6.24" fill="#8b191b"/>
<rect x="296.47" y="41.45" width="6.23" height="6.24" fill="#f57f22"/>
<rect x="301.50" y="41.45" width="21.33" height="6.24" fill="#8b191b"/>
<rect x="321.63" y="41.45" width="6.23" height="6.24" fill="#f57f22"/>
<rect x="326.67" y="41.45" width="6.23" height="6.24" fill="#fbe813"/>
<rect x="331.70" y="41.45" width="6.23" height="6.24" fill="#b3d45c"/>
<rect x="336.73" y="41.45" width="6.23" height="6.24" fill="#2b52a6"/>
<rect x="341.77" y="41.45" width="16.30" height="6.24" fill="#27348b"/>
<rect x="356.87" y="41.45" width="6.23" height="6.24" fill="#3a80cb"/>
<rect x="361.90" y="41.45" width="6.23" height="6.24" fill="#27348b"/>
<rect x="366.93" y="41.45" width="6.23" height="6.24" fill="#3a80cb"/>
<rect x="371.97" y="41.45" width="6.23" height="6.24" fill="#27348b"/>
<rect x="377.00" y="41.45" width="11.27" height="6.24" fill="#3a80cb"/>
<rect x="387.07" y="41.45" width="5.03" height="6.24" fill="#27348b"/>
<rect x="241.10" y="46.48" width="31.40" height="6.24" fill="#27348b"/>
<rect x="271.30" y="46.48" width="6.23" height="6.24" fill="#74cacd"/>
<rect x="276.33" y="46.48" width="6.23" height="6.24" fill="#f57f22"/>
<rect x="281.37" y="46.48" width="31.40" height="6.24" fill="#8b191b"/>
<rect x="311.57" y="46.48" width="11.27" height="6.24" fill="#e92428"/>
<rect x="321.63" y="46.48" width="6.23" height="6.24" fill="#fcb61a"/>
<rect x="326.67" y="46.48" width="6.23" height="6.24" fill="#fbe813"/>
<rect x="331.70" y="46.48" width="6.23" height="6.24" fill="#74cacd"/>
<rect x="336.73" y="46.48" width="11.27" height="6.24" fill="#2b52a6"/>
<rect x="346.80" y="46.48" width="31.40" height="6.24" fill="#27348b"/>
<rect x="377.00" y="46.48" width="11.27" height="6.24" fill="#2b52a6"/>
<rect x="387.07" y="46.48" width="5.03" height="6.24" fill="#27348b"/>
<rect x="241.10" y="51.52" width="31.40" height="6.24" fill="#27348b"/>
<rect x="271.30" y="51.52" width="6.23" height="6.24" fill="#2b52a6"/>
<rect x="276.33" y="51.52" width="6.23" height="6.24" fill="#e92428"/>
<rect x="281.37" y="51.52" width="31.40" height="6.24" fill="#8b191b"/>
<rect x="311.57" y="51.52" width="6.23" height="6.24" fill="#f57f22"/>
<rect x="316.60" y="51.52" width="6.23" height="6.24" fill="#e92428"/>
<rect x="321.63" y="51.52" width="6.23" height="6.24" fill="#fbe813"/>
<rect x="326.67" y="51.52" width="6.23" height="6.24" fill="#74cacd"/>
<rect x="331.70" y="51.52" width="6.23" height="6.24" fill="#41bdea"/>
<rect x="336.73" y="51.52" width="11.27" height="6.24" fill="#2b52a6"/>
<rect x="346.80" y="51.52" width="36.43" height="6.24" fill="#27348b"/>
<rect x="382.03" y="51.52" width="6.23" height="6.24" fill="#2b52a6"/>
<rect x="387.07" y="51.52" width="5.03" height="6.24" fill="#27348b"/>
<rect x="241.10" y="56.56" width="31.40" height="6.24" fill="#27348b"/>
<rect x="271.30" y="56.56" width="6.23" height="6.24" fill="#2b52a6"/>
<rect x="276.33" y="56.56" width="6.23" height="6.24" fill="#74cacd"/>
<rect x="281.37" y="56.56" width="31.40" height="6.24" fill="#8b191b"/>
<rect x="311.57" y="56.56" width="6.23" height="6.24" fill="#e92428"/>
<rect x="316.60" y="56.56" width="11.27" height="6.24" fill="#8b191b"/>
<rect x="326.67" y="56.56" width="6.23" height="6.24" fill="#e92428"/>
<rect x="331.70" y="56.56" width="6.23" height="6.24" fill="#fbe813"/>
<rect x="336.73" y="56.56" width="6.23" height="6.24" fill="#41bdea"/>
<rect x="341.77" y="56.56" width="11.27" height="6.24" fill="#2b52a6"/>
<rect x="351.83" y="56.56" width="31.40" height="6.24" fill="#27348b"/>
<rect x="382.03" y="56.56" width="6.23" height="6.24" fill="#2b52a6"/>
<rect x="387.07" y="56.56" width="5.03" height="6.24" fill="#27348b"/>
<rect x="241.10" y="61.59" width="31.40" height="6.24" fill="#27348b"/>
<rect x="271.30" y="61.59" width="6.23" height="6.24" fill="#3a80cb"/>
<rect x="276.33" y="61.59" width="11.27" height="6.24" fill="#fbe813"/>
<rect x="286.40" y="61.59" width="16.30" height="6.24" fill="#8b191b"/>
<rect x="301.50" y="61.59" width="6.23" height="6.24" fill="#e92428"/>
<rect x="306.53" y="61.59" width="6.23" height="6.24" fill="#8b191b"/>
<rect x="311.57" y="61.59" width="6.23" height="6.24" fill="#e92428"/>
<rect x="316.60" y="61.59" width="6.23" height="6.24" fill="#b3d45c"/>
<rect x="321.63" y="61.59" width="6.23" height="6.24" fill="#fbe813"/>
<rect x="326.67" y="61.59" width="6.23" height="6.24" fill="#b3d45c"/>
<rect x="331.70" y="61.59" width="6.23" height="6.24" fill="#74cacd"/>
<rect x="336.73" y="61.59" width="6.23" height="6.24" fill="#3a80cb"/>
<rect x="341.77" y="61.59" width="6.23" height="6.24" fill="#2b52a6"/>
<rect x="346.80" y="61.59" width="45.30" height="6.24" fill="#27348b"/>
<rect x="241.10" y="66.63" width="21.33" height="6.24" fill="#27348b"/>
<rect x="261.23" y="66.63" width="11.27" height="6.24" fill="#2b52a6"/>
<rect x="271.30" y="66.63" width="6.23" height="6.24" fill="#fbe813"/>
<rect x="276.33" y="66.63" width="6.23" height="6.24" fill="#f57f22"/>
<rect x="281.37" y="66.63" width="36.43" height="6.24" fill="#8b191b"/>
<rect x="316.60" y="66.63" width="6.23" height="6.24" fill="#fcb61a"/>
<rect x="321.63" y="66.63" width="6.23" height="6.24" fill="#fbe813"/>
<rect x="326.67" y="66.63" width="6.23" height="6.24" fill="#fcb61a"/>
<rect x="331.70" y="66.63" width="11.27" height="6.24" fill="#74cacd"/>
<rect x="341.77" y="66.63" width="6.23" height="6.24" fill="#41bdea"/>
<rect x="346.80" y="66.63" width="26.37" height="6.24" fill="#27348b"/>
<rect x="371.97" y="66.63" width="6.23" height="6.24" fill="#2b52a6"/>
<rect x="377.00" y="66.63" width="6.23" height="6.24" fill="#27348b"/>
<rect x="382.03" y="66.63" width="6.23" height="6.24" fill="#2b52a6"/>
<rect x="387.07" y="66.63" width="5.03" height="6.24" fill="#3a80cb"/>
<rect x="241.10" y="71.67" width="16.30" height="6.24" fill="#27348b"/>
<rect x="256.20" y="71.67" width="11.27" height="6.24" fill="#2b52a6"/>
<rect x="266.27" y="71.67" width="6.23" height="6.24" fill="#41bdea"/>
<rect x="271.30" y="71.67" width="6.23" height="6.24" fill="#fcb61a"/>
<rect x="276.33" y="71.67" width="6.23" height="6.24" fill="#e92428"/>
<rect x="281.37" y="71.67" width="26.37" height="6.24" fill="#8b191b"/>
<rect x="306.53" y="71.67" width="11.27" height="6.24" fill="#e92428"/>
<rect x="316.60" y="71.67" width="6.23" height="6.24" fill="#b3d45c"/>
<rect x="321.63" y="71.67" width="6.23" height="6.24" fill="#fbe813"/>
<rect x="326.67" y="71.67" width="6.23" height="6.24" fill="#41bdea"/>
<rect x="331.70" y="71.67" width="6.23" height="6.24" fill="#b3d45c"/>
<rect x="336.73" y="71.67" width="16.30" height="6.24" fill="#74cacd"/>
<rect x="351.83" y="71.67" width="6.23" height="6.24" fill="#2b52a6"/>
<rect x="356.87" y="71.67" width="26.37" height="6.24" fill="#27348b"/>
<rect x="382.03" y="71.67" width="6.23" height="6.24" fill="#2b52a6"/>
<rect x="387.07" y="71.67" width="5.03" height="6.24" fill="#74cacd"/>
<rect x="241.10" y="76.70" width="16.30" height="6.24" fill="#27348b"/>
<rect x="256.20" y="76.70" width="6.23" height="6.24" fill="#2b52a6"/>
<rect x="261.23" y="76.70" width="6.23" height="6.24" fill="#41bdea"/>
<rect x="266.27" y="76.70" width="6.23" height="6.24" fill="#b3d45c"/>
<rect x="271.30" y="76.70" width="6.23" height="6.24" fill="#f57f22"/>
<rect x="276.33" y="76.70" width="6.23" height="6.24" fill="#e92428"/>
<rect x="281.37" y="76.70" width="26.37" height="6.24" fill="#8b191b"/>
<rect x="306.53" y="76.70" width="11.27" height="6.24" fill="#f57f22"/>
<rect x="316.60" y="76.70" width="6.23" height="6.24" fill="#b3d45c"/>
<rect x="321.63" y="76.70" width="6.23" height="6.24" fill="#fbe813"/>
<rect x="326.67" y="76.70" width="6.23" height="6.24" fill="#b3d45c"/>
<rect x="331.70" y="76.70" width="6.23" height="6.24" fill="#74cacd"/>
<rect x="336.73" y="76.70" width="11.27" height="6.24" fill="#3a80cb"/>
<rect x="346.80" y="76.70" width="6.23" height="6.24" fill="#41bdea"/>
<rect x="351.83" y="76.70" width="6.23" height="6.24" fill="#3a80cb"/>
<rect x="356.87" y="76.70" width="6.23" height="6.24" fill="#2b52a6"/>
<rect x="361.90" y="76.70" width="21.33" height="6.24" fill="#27348b"/>
<rect x="382.03" y="76.70" width="6.23" height="6.24" fill="#3a80cb"/>
<rect x="387.07" y="76.70" width="5.03" height="6.24" fill="#41bdea"/>
<rect x="241.10" y="81.74" width="16.30" height="6.24" fill="#27348b"/>
<rect x="256.20" y="81.74" width="11.27" height="6.24" fill="#2b52a6"/>
<rect x="266.27" y="81.74" width="6.23" height="6.24" fill="#74cacd"/>
<rect x="271.30" y="81.74" width="6.23" height="6.24" fill="#fbe813"/>
<rect x="276.33" y="81.74" width="6.23" height="6.24" fill="#f57f22"/>
<rect x="281.37" y="81.74" width="36.43" height="6.24" fill="#e92428"/>
<rect x="316.60" y="81.74" width="11.27" height="6.24" fill="#f57f22"/>
<rect x="326.67" y="81.74" width="6.23" height="6.24" fill="#fcb61a"/>
<rect x="331.70" y="81.74" width="6.23" height="6.24" fill="#fbe813"/>
<rect x="336.73" y="81.74" width="6.23" height="6.24" fill="#fcb61a"/>
<rect x="341.77" y="81.74" width="6.23" height="6.24" fill="#3a80cb"/>
<rect x="346.80" y="81.74" width="6.23" height="6.24" fill="#2b52a6"/>
<rect x="351.83" y="81.74" width="6.23" height="6.24" fill="#3a80cb"/>
<rect x="356.87" y="81.74" width="11.27" height="6.24" fill="#27348b"/>
<rect x="366.93" y="81.74" width="6.23" height="6.24" fill="#2b52a6"/>
<rect x="371.97" y="81.74" width="6.23" height="6.24" fill="#41bdea"/>
<rect x="377.00" y="81.74" width="6.23" height="6.24" fill="#2b52a6"/>
<rect x="382.03" y="81.74" width="6.23" height="6.24" fill="#3a80cb"/>
<rect x="387.07" y="81.74" width="5.03" height="6.24" fill="#27348b"/>
<rect x="241.10" y="86.78" width="11.27" height="6.24" fill="#27348b"/>
<rect x="251.17" y="86.78" width="11.27" height="6.24" fill="#2b52a6"/>
<rect x="261.23" y="86.78" width="11.27" height="6.24" fill="#3a80cb"/>
<rect x="271.30" y="86.78" width="11.27" height="6.24" fill="#b3d45c"/>
<rect x="281.37" y="86.78" width="6.23" height="6.24" fill="#f57f22"/>
<rect x="286.40" y="86.78" width="11.27" height="6.24" fill="#e92428"/>
<rect x="296.47" y="86.78" width="6.23" height="6.24" fill="#fbe813"/>
<rect x="301.50" y="86.78" width="6.23" height="6.24" fill="#8b191b"/>
<rect x="306.53" y="86.78" width="6.23" height="6.24" fill="#f57f22"/>
<rect x="311.57" y="86.78" width="6.23" height="6.24" fill="#fcb61a"/>
<rect x="316.60" y="86.78" width="6.23" height="6.24" fill="#e92428"/>
<rect x="321.63" y="86.78" width="6.23" height="6.24" fill="#fcb61a"/>
<rect x="326.67" y="86.78" width="6.23" height="6.24" fill="#b3d45c"/>
<rect x="331.70" y="86.78" width="6.23" height="6.24" fill="#3a80cb"/>
<rect x="336.73" y="86.78" width="6.23" height="6.24" fill="#b3d45c"/>
<rect x="341.77" y="86.78" width="6.23" height="6.24" fill="#2b52a6"/>
<rect x="346.80" y="86.78" width="6.23" height="6.24" fill="#27348b"/>
<rect x="351.83" y="86.78" width="11.27" height="6.24" fill="#2b52a6"/>
<rect x="361.90" y="86.78" width="11.27" height="6.24" fill="#27348b"/>
<rect x="371.97" y="86.78" width="6.23" height="6.24" fill="#74cacd"/>
<rect x="377.00" y="86.78" width="6.23" height="6.24" fill="#2b52a6"/>
<rect x="382.03" y="86.78" width="6.23" height="6.24" fill="#74cacd"/>
<rect x="387.07" y="86.78" width="5.03" height="6.24" fill="#2b52a6"/>
<rect x="241.10" y="91.81" width="11.27" height="6.24" fill="#27348b"/>
<rect x="251.17" y="91.81" width="16.30" height="6.24" fill="#2b52a6"/>
<rect x="266.27" y="91.81" width="6.23" height="6.24" fill="#3a80cb"/>
<rect x="271.30" y="91.81" width="6.23" height="6.24" fill="#41bdea"/>
<rect x="276.33" y="91.81" width="6.23" height="6.24" fill="#b3d45c"/>
<rect x="281.37" y="91.81" width="6.23" height="6.24" fill="#fcb61a"/>
<rect x="286.40" y="91.81" width="6.23" height="6.24" fill="#e92428"/>
<rect x="291.43" y="91.81" width="6.23" height="6.24" fill="#f57f22"/>
<rect x="296.47" y="91.81" width="6.23" height="6.24" fill="#b3d45c"/>
<rect x="301.50" y="91.81" width="6.23" height="6.24" fill="#8b191b"/>
<rect x="306.53" y="91.81" width="6.23" height="6.24" fill="#e92428"/>
<rect x="311.57" y="91.81" width="6.23" height="6.24" fill="#fbe813"/>
<rect x="316.60" y="91.81" width="6.23" height="6.24" fill="#fcb61a"/>
<rect x="321.63" y="91.81" width="6.23" height="6.24" fill="#fbe813"/>
<rect x="326.67" y="91.81" width="6.23" height="6.24" fill="#74cacd"/>
<rect x="331.70" y="91.81" width="6.23" height="6.24" fill="#b3d45c"/>
<rect x="336.73" y="91.81" width="11.27" height="6.24" fill="#3a80cb"/>
<rect x="346.80" y="91.81" width="6.23" height="6.24" fill="#41bdea"/>
<rect x="351.83" y="91.81" width="6.23" height="6.24" fill="#3a80cb"/>
<rect x="356.87" y="91.81" width="6.23" height="6.24" fill="#2b52a6"/>
<rect x="361.90" y="91.81" width="11.27" height="6.24" fill="#27348b"/>
<rect x="371.97" y="91.81" width="11.27" height="6.24" fill="#2b52a6"/>
<rect x="382.03" y="91.81" width="6.23" height="6.24" fill="#3a80cb"/>
<rect x="387.07" y="91.81" width="5.03" height="6.24" fill="#2b52a6"/>
<rect x="241.10" y="96.85" width="16.30" height="6.24" fill="#27348b"/>
<rect x="256.20" y="96.85" width="11.27" height="6.24" fill="#2b52a6"/>
<rect x="266.27" y="96.85" width="6.23" height="6.24" fill="#3a80cb"/>
<rect x="271.30" y="96.85" width="6.23" height="6.24" fill="#41bdea"/>
<rect x="276.33" y="96.85" width="6.23" height="6.24" fill="#74cacd"/>
<rect x="281.37" y="96.85" width="6.23" height="6.24" fill="#fbe813"/>
<rect x="286.40" y="96.85" width="11.27" height="6.24" fill="#f57f22"/>
<rect x="296.47" y="96.85" width="6.23" height="6.24" fill="#e92428"/>
<rect x="301.50" y="96.85" width="11.27" height="6.24" fill="#8b191b"/>
<rect x="311.57" y="96.85" width="6.23" height="6.24" fill="#f57f22"/>
<rect x="316.60" y="96.85" width="6.23" height="6.24" fill="#e92428"/>
<rect x="321.63" y="96.85" width="6.23" height="6.24" fill="#f57f22"/>
<rect x="326.67" y="96.85" width="6.23" height="6.24" fill="#b3d45c"/>
<rect x="331.70" y="96.85" width="6.23" height="6.24" fill="#f57f22"/>
<rect x="336.73" y="96.85" width="11.27" height="6.24" fill="#b3d45c"/>
<rect x="346.80" y="96.85" width="6.23" height="6.24" fill="#3a80cb"/>
<rect x="351.83" y="96.85" width="6.23" height="6.24" fill="#41bdea"/>
<rect x="356.87" y="96.85" width="6.23" height="6.24" fill="#2b52a6"/>
<rect x="361.90" y="96.85" width="6.23" height="6.24" fill="#27348b"/>
<rect x="366.93" y="96.85" width="11.27" height="6.24" fill="#2b52a6"/>
<rect x="377.00" y="96.85" width="11.27" height="6.24" fill="#3a80cb"/>
<rect x="387.07" y="96.85" width="5.03" height="6.24" fill="#2b52a6"/>
<rect x="241.10" y="101.89" width="21.33" height="6.24" fill="#27348b"/>
<rect x="261.23" y="101.89" width="6.23" height="6.24" fill="#2b52a6"/>
<rect x="266.27" y="101.89" width="6.23" height="6.24" fill="#3a80cb"/>
<rect x="271.30" y="101.89" width="6.23" height="6.24" fill="#41bdea"/>
<rect x="276.33" y="101.89" width="6.23" height="6.24" fill="#74cacd"/>
<rect x="281.37" y="101.89" width="6.23" height="6.24" fill="#fbe813"/>
<rect x="286.40" y="101.89" width="16.30" height="6.24" fill="#f57f22"/>
<rect x="301.50" y="101.89" width="16.30" height="6.24" fill="#8b191b"/>
<rect x="316.60" y="101.89" width="11.27" height="6.24" fill="#e92428"/>
<rect x="326.67" y="101.89" width="6.23" height="6.24" fill="#fbe813"/>
<rect x="331.70" y="101.89" width="11.27" height="6.24" fill="#e92428"/>
<rect x="341.77" y="101.89" width="6.23" height="6.24" fill="#fcb61a"/>
<rect x="346.80" y="101.89" width="6.23" height="6.24" fill="#b3d45c"/>
<rect x="351.83" y="101.89" width="6.23" height="6.24" fill="#74cacd"/>
<rect x="356.87" y="101.89" width="6.23" height="6.24" fill="#41bdea"/>
<rect x="361.90" y="101.89" width="11.27" height="6.24" fill="#3a80cb"/>
<rect x="371.97" y="101.89" width="11.27" height="6.24" fill="#2b52a6"/>
<rect x="382.03" y="101.89" width="6.23" height="6.24" fill="#27348b"/>
<rect x="387.07" y="101.89" width="5.03" height="6.24" fill="#2b52a6"/>
<rect x="241.10" y="106.92" width="6.23" height="6.24" fill="#27348b"/>
<rect x="246.13" y="106.92" width="6.23" height="6.24" fill="#2b52a6"/>
<rect x="251.17" y="106.92" width="11.27" height="6.24" fill="#27348b"/>
<rect x="261.23" y="106.92" width="11.27" height="6.24" fill="#41bdea"/>
<rect x="271.30" y="106.92" width="6.23" height="6.24" fill="#b3d45c"/>
<rect x="276.33" y="106.92" width="11.27" height="6.24" fill="#fcb61a"/>
<rect x="286.40" y="106.92" width="11.27" height="6.24" fill="#f57f22"/>
<rect x="296.47" y="106.92" width="31.40" height="6.24" fill="#8b191b"/>
<rect x="326.67" y="106.92" width="6.23" height="6.24" fill="#e92428"/>
<rect x="331.70" y="106.92" width="6.23" height="6.24" fill="#fbe813"/>
<rect x="336.73" y="106.92" width="11.27" height="6.24" fill="#f57f22"/>
<rect x="346.80" y="106.92" width="11.27" height="6.24" fill="#b3d45c"/>
<rect x="356.87" y="106.92" width="6.23" height="6.24" fill="#2b52a6"/>
<rect x="361.90" y="106.92" width="6.23" height="6.24" fill="#27348b"/>
<rect x="366.93" y="106.92" width="11.27" height="6.24" fill="#2b52a6"/>
<rect x="377.00" y="106.92" width="6.23" height="6.24" fill="#27348b"/>
<rect x="382.03" y="106.92" width="6.23" height="6.24" fill="#2b52a6"/>
<rect x="387.07" y="106.92" width="5.03" height="6.24" fill="#41bdea"/>
<rect x="241.10" y="111.96" width="21.33" height="6.24" fill="#27348b"/>
<rect x="261.23" y="111.96" width="11.27" height="6.24" fill="#2b52a6"/>
<rect x="271.30" y="111.96" width="11.27" height="6.24" fill="#fbe813"/>
<rect x="281.37" y="111.96" width="6.23" height="6.24" fill="#fcb61a"/>
<rect x="286.40" y="111.96" width="11.27" height="6.24" fill="#f57f22"/>
<rect x="296.47" y="111.96" width="36.43" height="6.24" fill="#8b191b"/>
<rect x="331.70" y="111.96" width="6.23" height="6.24" fill="#e92428"/>
<rect x="336.73" y="111.96" width="6.23" height="6.24" fill="#fcb61a"/>
<rect x="341.77" y="111.96" width="6.23" height="6.24" fill="#b3d45c"/>
<rect x="346.80" y="111.96" width="11.27" height="6.24" fill="#fcb61a"/>
<rect x="356.87" y="111.96" width="6.23" height="6.24" fill="#b3d45c"/>
<rect x="361.90" y="111.96" width="11.27" height="6.24" fill="#2b52a6"/>
<rect x="371.97" y="111.96" width="6.23" height="6.24" fill="#fbe813"/>
<rect x="377.00" y="111.96" width="6.23" height="6.24" fill="#27348b"/>
<rect x="382.03" y="111.96" width="6.23" height="6.24" fill="#3a80cb"/>
<rect x="387.07" y="111.96" width="5.03" height="6.24" fill="#74cacd"/>
<rect x="241.10" y="117.00" width="11.27" height="6.24" fill="#27348b"/>
<rect x="251.17" y="117.00" width="6.23" height="6.24" fill="#2b52a6"/>
<rect x="256.20" y="117.00" width="6.23" height="6.24" fill="#27348b"/>
<rect x="261.23" y="117.00" width="6.23" height="6.24" fill="#3a80cb"/>
<rect x="266.27" y="117.00" width="11.27" height="6.24" fill="#2b52a6"/>
<rect x="276.33" y="117.00" width="6.23" height="6.24" fill="#b3d45c"/>
<rect x="281.37" y="117.00" width="6.23" height="6.24" fill="#fbe813"/>
<rect x="286.40" y="117.00" width="6.23" height="6.24" fill="#f57f22"/>
<rect x="291.43" y="117.00" width="11.27" height="6.24" fill="#e92428"/>
<rect x="301.50" y="117.00" width="31.40" height="6.24" fill="#8b191b"/>
<rect x="331.70" y="117.00" width="11.27" height="6.24" fill="#f57f22"/>
<rect x="341.77" y="117.00" width="11.27" height="6.24" fill="#b3d45c"/>
<rect x="351.83" y="117.00" width="6.23" height="6.24" fill="#fcb61a"/>
<rect x="356.87" y="117.00" width="6.23" height="6.24" fill="#74cacd"/>
<rect x="361.90" y="117.00" width="6.23" height="6.24" fill="#b3d45c"/>
<rect x="366.93" y="117.00" width="6.23" height="6.24" fill="#41bdea"/>
<rect x="371.97" y="117.00" width="6.23" height="6.24" fill="#fbe813"/>
<rect x="377.00" y="117.00" width="6.23" height="6.24" fill="#2b52a6"/>
<rect x="382.03" y="117.00" width="10.07" height="6.24" fill="#3a80cb"/>
<rect x="241.10" y="122.03" width="6.23" height="6.24" fill="#27348b"/>
<rect x="246.13" y="122.03" width="11.27" height="6.24" fill="#2b52a6"/>
<rect x="256.20" y="122.03" width="11.27" height="6.24" fill="#3a80cb"/>
<rect x="266.27" y="122.03" width="11.27" height="6.24" fill="#2b52a6"/>
<rect x="276.33" y="122.03" width="6.23" height="6.24" fill="#27348b"/>
<rect x="281.37" y="122.03" width="6.23" height="6.24" fill="#fbe813"/>
<rect x="286.40" y="122.03" width="6.23" height="6.24" fill="#f57f22"/>
<rect x="291.43" y="122.03" width="6.23" height="6.24" fill="#e92428"/>
<rect x="296.47" y="122.03" width="41.47" height="6.24" fill="#8b191b"/>
<rect x="336.73" y="122.03" width="6.23" height="6.24" fill="#fcb61a"/>
<rect x="341.77" y="122.03" width="6.23" height="6.24" fill="#f57f22"/>
<rect x="346.80" y="122.03" width="11.27" height="6.24" fill="#fcb61a"/>
<rect x="356.87" y="122.03" width="6.23" height="6.24" fill="#e92428"/>
<rect x="361.90" y="122.03" width="6.23" height="6.24" fill="#fcb61a"/>
<rect x="366.93" y="122.03" width="6.23" height="6.24" fill="#b3d45c"/>
<rect x="371.97" y="122.03" width="6.23" height="6.24" fill="#74cacd"/>
<rect x="377.00" y="122.03" width="6.23" height="6.24" fill="#27348b"/>
<rect x="382.03" y="122.03" width="6.23" height="6.24" fill="#fcb61a"/>
<rect x="387.07" y="122.03" width="5.03" height="6.24" fill="#f57f22"/>
<rect x="241.10" y="127.07" width="11.27" height="6.24" fill="#27348b"/>
<rect x="251.17" y="127.07" width="11.27" height="6.24" fill="#2b52a6"/>
<rect x="261.23" y="127.07" width="6.23" height="6.24" fill="#41bdea"/>
<rect x="266.27" y="127.07" width="6.23" height="6.24" fill="#2b52a6"/>
<rect x="271.30" y="127.07" width="6.23" height="6.24" fill="#27348b"/>
<rect x="276.33" y="127.07" width="11.27" height="6.24" fill="#2b52a6"/>
<rect x="286.40" y="127.07" width="6.23" height="6.24" fill="#e92428"/>
<rect x="291.43" y="127.07" width="46.50" height="6.24" fill="#8b191b"/>
<rect x="336.73" y="127.07" width="21.33" height="6.24" fill="#e92428"/>
<rect x="356.87" y="127.07" width="16.30" height="6.24" fill="#8b191b"/>
<rect x="371.97" y="127.07" width="6.23" height="6.24" fill="#fcb61a"/>
<rect x="377.00" y="127.07" width="11.27" height="6.24" fill="#e92428"/>
<rect x="387.07" y="127.07" width="5.03" height="6.24" fill="#f57f22"/>
<rect x="241.10" y="132.11" width="11.27" height="6.24" fill="#27348b"/>
<rect x="251.17" y="132.11" width="6.23" height="6.24" fill="#8b191b"/>
<rect x="256.20" y="132.11" width="6.23" height="6.24" fill="#3a80cb"/>
<rect x="261.23" y="132.11" width="6.23" height="6.24" fill="#41bdea"/>
<rect x="266.27" y="132.11" width="6.23" height="6.24" fill="#3a80cb"/>
<rect x="271.30" y="132.11" width="16.30" height="6.24" fill="#2b52a6"/>
<rect x="286.40" y="132.11" width="6.23" height="6.24" fill="#41bdea"/>
<rect x="291.43" y="132.11" width="6.23" height="6.24" fill="#e92428"/>
<rect x="296.47" y="132.11" width="46.50" height="6.24" fill="#8b191b"/>
<rect x="341.77" y="132.11" width="11.27" height="6.24" fill="#f57f22"/>
<rect x="351.83" y="132.11" width="11.27" height="6.24" fill="#e92428"/>
<rect x="361.90" y="132.11" width="6.23" height="6.24" fill="#f57f22"/>
<rect x="366.93" y="132.11" width="11.27" height="6.24" fill="#e92428"/>
<rect x="377.00" y="132.11" width="6.23" height="6.24" fill="#74cacd"/>
<rect x="382.03" y="132.11" width="10.07" height="6.24" fill="#e92428"/>
<rect x="241.10" y="137.14" width="16.30" height="6.24" fill="#27348b"/>
<rect x="256.20" y="137.14" width="26.37" height="6.24" fill="#2b52a6"/>
<rect x="281.37" y="137.14" width="6.23" height="6.24" fill="#41bdea"/>
<rect x="286.40" y="137.14" width="11.27" height="6.24" fill="#74cacd"/>
<rect x="296.47" y="137.14" width="6.23" height="6.24" fill="#e92428"/>
<rect x="301.50" y="137.14" width="41.47" height="6.24" fill="#8b191b"/>
<rect x="341.77" y="137.14" width="11.27" height="6.24" fill="#f57f22"/>
<rect x="351.83" y="137.14" width="6.23" height="6.24" fill="#e92428"/>
<rect x="356.87" y="137.14" width="6.23" height="6.24" fill="#f57f22"/>
<rect x="361.90" y="137.14" width="11.27" height="6.24" fill="#fcb61a"/>
<rect x="371.97" y="137.14" width="11.27" height="6.24" fill="#f57f22"/>
<rect x="382.03" y="137.14" width="10.07" height="6.24" fill="#b3d45c"/>
<rect x="241.10" y="142.18" width="16.30" height="6.24" fill="#27348b"/>
<rect x="256.20" y="142.18" width="6.23" height="6.24" fill="#2b52a6"/>
<rect x="261.23" y="142.18" width="6.23" height="6.24" fill="#3a80cb"/>
<rect x="266.27" y="142.18" width="6.23" height="6.24" fill="#41bdea"/>
<rect x="271.30" y="142.18" width="6.23" height="6.24" fill="#74cacd"/>
<rect x="276.33" y="142.18" width="6.23" height="6.24" fill="#41bdea"/>
<rect x="281.37" y="142.18" width="11.27" height="6.24" fill="#b3d45c"/>
<rect x="291.43" y="142.18" width="6.23" height="6.24" fill="#74cacd"/>
<rect x="296.47" y="142.18" width="6.23" height="6.24" fill="#fbe813"/>
<rect x="301.50" y="142.18" width="6.23" height="6.24" fill="#e92428"/>
<rect x="306.53" y="142.18" width="36.43" height="6.24" fill="#8b191b"/>
<rect x="341.77" y="142.18" width="6.23" height="6.24" fill="#e92428"/>
<rect x="346.80" y="142.18" width="16.30" height="6.24" fill="#f57f22"/>
<rect x="361.90" y="142.18" width="6.23" height="6.24" fill="#b3d45c"/>
<rect x="366.93" y="142.18" width="11.27" height="6.24" fill="#f57f22"/>
<rect x="377.00" y="142.18" width="11.27" height="6.24" fill="#fcb61a"/>
<rect x="387.07" y="142.18" width="5.03" height="6.24" fill="#f57f22"/>
<rect x="241.10" y="147.22" width="16.30" height="6.24" fill="#27348b"/>
<rect x="256.20" y="147.22" width="6.23" height="6.24" fill="#2b52a6"/>
<rect x="261.23" y="147.22" width="6.23" height="6.24" fill="#41bdea"/>
<rect x="266.27" y="147.22" width="6.23" height="6.24" fill="#74cacd"/>
<rect x="271.30" y="147.22" width="6.23" height="6.24" fill="#41bdea"/>
<rect x="276.33" y="147.22" width="6.23" height="6.24" fill="#fbe813"/>
<rect x="281.37" y="147.22" width="11.27" height="6.24" fill="#b3d45c"/>
<rect x="291.43" y="147.22" width="6.23" height="6.24" fill="#fbe813"/>
<rect x="296.47" y="147.22" width="6.23" height="6.24" fill="#fcb61a"/>
<rect x="301.50" y="147.22" width="6.23" height="6.24" fill="#e92428"/>
<rect x="306.53" y="147.22" width="36.43" height="6.24" fill="#8b191b"/>
<rect x="341.77" y="147.22" width="11.27" height="6.24" fill="#e92428"/>
<rect x="351.83" y="147.22" width="31.40" height="6.24" fill="#f57f22"/>
<rect x="382.03" y="147.22" width="6.23" height="6.24" fill="#e92428"/>
<rect x="387.07" y="147.22" width="5.03" height="6.24" fill="#f57f22"/>
<rect x="241.10" y="152.25" width="21.33" height="6.24" fill="#27348b"/>
<rect x="261.23" y="152.25" width="6.23" height="6.24" fill="#2b52a6"/>
<rect x="266.27" y="152.25" width="6.23" height="6.24" fill="#3a80cb"/>
<rect x="271.30" y="152.25" width="6.23" height="6.24" fill="#b3d45c"/>
<rect x="276.33" y="152.25" width="21.33" height="6.24" fill="#fbe813"/>
<rect x="296.47" y="152.25" width="21.33" height="6.24" fill="#f57f22"/>
<rect x="316.60" y="152.25" width="31.40" height="6.24" fill="#8b191b"/>
<rect x="346.80" y="152.25" width="6.23" height="6.24" fill="#e92428"/>
<rect x="351.83" y="152.25" width="6.23" height="6.24" fill="#fcb61a"/>
<rect x="356.87" y="152.25" width="11.27" height="6.24" fill="#f57f22"/>
<rect x="366.93" y="152.25" width="6.23" height="6.24" fill="#fcb61a"/>
<rect x="371.97" y="152.25" width="6.23" height="6.24" fill="#e92428"/>
<rect x="377.00" y="152.25" width="6.23" height="6.24" fill="#f57f22"/>
<rect x="382.03" y="152.25" width="6.23" height="6.24" fill="#e92428"/>
<rect x="387.07" y="152.25" width="5.03" height="6.24" fill="#f57f22"/>
<rect x="241.10" y="157.29" width="26.37" height="6.24" fill="#27348b"/>
<rect x="266.27" y="157.29" width="6.23" height="6.24" fill="#2b52a6"/>
<rect x="271.30" y="157.29" width="6.23" height="6.24" fill="#74cacd"/>
<rect x="276.33" y="157.29" width="11.27" height="6.24" fill="#f57f22"/>
<rect x="286.40" y="157.29" width="6.23" height="6.24" fill="#b3d45c"/>
<rect x="291.43" y="157.29" width="6.23" height="6.24" fill="#74cacd"/>
<rect x="296.47" y="157.29" width="6.23" height="6.24" fill="#8b191b"/>
<rect x="301.50" y="157.29" width="11.27" height="6.24" fill="#e92428"/>
<rect x="311.57" y="157.29" width="6.23" height="6.24" fill="#f57f22"/>
<rect x="316.60" y="157.29" width="6.23" height="6.24" fill="#e92428"/>
<rect x="321.63" y="157.29" width="31.40" height="6.24" fill="#8b191b"/>
<rect x="351.83" y="157.29" width="31.40" height="6.24" fill="#e92428"/>
<rect x="382.03" y="157.29" width="6.23" height="6.24" fill="#8b191b"/>
<rect x="387.07" y="157.29" width="5.03" height="6.24" fill="#e92428"/>
<rect x="241.10" y="162.33" width="11.27" height="6.24" fill="#27348b"/>
<rect x="251.17" y="162.33" width="6.23" height="6.24" fill="#2b52a6"/>
<rect x="256.20" y="162.33" width="11.27" height="6.24" fill="#27348b"/>
<rect x="266.27" y="162.33" width="6.23" height="6.24" fill="#2b52a6"/>
<rect x="271.30" y="162.33" width="6.23" height="6.24" fill="#3a80cb"/>
<rect x="276.33" y="162.33" width="6.23" height="6.24" fill="#fbe813"/>
<rect x="281.37" y="162.33" width="6.23" height="6.24" fill="#8b191b"/>
<rect x="286.40" y="162.33" width="11.27" height="6.24" fill="#e92428"/>
<rect x="296.47" y="162.33" width="11.27" height="6.24" fill="#8b191b"/>
<rect x="306.53" y="162.33" width="6.23" height="6.24" fill="#f57f22"/>
<rect x="311.57" y="162.33" width="6.23" height="6.24" fill="#fbe813"/>
<rect x="316.60" y="162.33" width="6.23" height="6.24" fill="#8b191b"/>
<rect x="321.63" y="162.33" width="6.23" height="6.24" fill="#e92428"/>
<rect x="326.67" y="162.33" width="31.40" height="6.24" fill="#8b191b"/>
<rect x="356.87" y="162.33" width="11.27" height="6.24" fill="#e92428"/>
<rect x="366.93" y="162.33" width="11.27" height="6.24" fill="#8b191b"/>
<rect x="377.00" y="162.33" width="6.23" height="6.24" fill="#e92428"/>
<rect x="382.03" y="162.33" width="10.07" height="6.24" fill="#8b191b"/>
<rect x="241.10" y="167.36" width="11.27" height="5.04" fill="#2b52a6"/>
<rect x="251.17" y="167.36" width="6.23" height="5.04" fill="#27348b"/>
<rect x="256.20" y="167.36" width="21.33" height="5.04" fill="#2b52a6"/>
<rect x="276.33" y="167.36" width="6.23" height="5.04" fill="#b3d45c"/>
<rect x="281.37" y="167.36" width="6.23" height="5.04" fill="#8b191b"/>
<rect x="286.40" y="167.36" width="6.23" height="5.04" fill="#f57f22"/>
<rect x="291.43" y="167.36" width="31.40" height="5.04" fill="#8b191b"/>
<rect x="321.63" y="167.36" width="11.27" height="5.04" fill="#e92428"/>
<rect x="331.70" y="167.36" width="60.40" height="5.04" fill="#8b191b"/>
</g>
<g filter="url(#soft)" shape-rendering="crispEdges">
<rect x="1.60" y="198.20" width="36.57" height="6.25" fill="#f57f22"/>
<rect x="36.97" y="198.20" width="6.25" height="6.25" fill="#fbe813"/>
<rect x="42.03" y="198.20" width="16.36" height="6.25" fill="#b3d45c"/>
<rect x="57.19" y="198.20" width="6.25" height="6.25" fill="#74cacd"/>
<rect x="62.24" y="198.20" width="6.25" height="6.25" fill="#41bdea"/>
<rect x="67.29" y="198.20" width="21.41" height="6.25" fill="#2b52a6"/>
<rect x="87.51" y="198.20" width="21.41" height="6.25" fill="#27348b"/>
<rect x="107.72" y="198.20" width="6.25" height="6.25" fill="#2b52a6"/>
<rect x="112.77" y="198.20" width="6.25" height="6.25" fill="#f57f22"/>
<rect x="117.83" y="198.20" width="6.25" height="6.25" fill="#27348b"/>
<rect x="122.88" y="198.20" width="6.25" height="6.25" fill="#fbe813"/>
<rect x="127.93" y="198.20" width="6.25" height="6.25" fill="#27348b"/>
<rect x="132.99" y="198.20" width="6.25" height="6.25" fill="#3a80cb"/>
<rect x="138.04" y="198.20" width="6.25" height="6.25" fill="#2b52a6"/>
<rect x="143.09" y="198.20" width="6.25" height="6.25" fill="#f57f22"/>
<rect x="148.15" y="198.20" width="5.05" height="6.25" fill="#8b191b"/>
<rect x="1.60" y="203.25" width="31.52" height="6.25" fill="#f57f22"/>
<rect x="31.92" y="203.25" width="6.25" height="6.25" fill="#fcb61a"/>
<rect x="36.97" y="203.25" width="6.25" height="6.25" fill="#fbe813"/>
<rect x="42.03" y="203.25" width="6.25" height="6.25" fill="#74cacd"/>
<rect x="47.08" y="203.25" width="6.25" height="6.25" fill="#b3d45c"/>
<rect x="52.13" y="203.25" width="6.25" height="6.25" fill="#74cacd"/>
<rect x="57.19" y="203.25" width="11.31" height="6.25" fill="#41bdea"/>
<rect x="67.29" y="203.25" width="6.25" height="6.25" fill="#fcb61a"/>
<rect x="72.35" y="203.25" width="6.25" height="6.25" fill="#74cacd"/>
<rect x="77.40" y="203.25" width="6.25" height="6.25" fill="#3a80cb"/>
<rect x="82.45" y="203.25" width="6.25" height="6.25" fill="#2b52a6"/>
<rect x="87.51" y="203.25" width="31.52" height="6.25" fill="#27348b"/>
<rect x="117.83" y="203.25" width="6.25" height="6.25" fill="#b3d45c"/>
<rect x="122.88" y="203.25" width="6.25" height="6.25" fill="#fcb61a"/>
<rect x="127.93" y="203.25" width="6.25" height="6.25" fill="#27348b"/>
<rect x="132.99" y="203.25" width="11.31" height="6.25" fill="#2b52a6"/>
<rect x="143.09" y="203.25" width="6.25" height="6.25" fill="#27348b"/>
<rect x="148.15" y="203.25" width="5.05" height="6.25" fill="#e92428"/>
<rect x="1.60" y="208.31" width="41.63" height="6.25" fill="#f57f22"/>
<rect x="42.03" y="208.31" width="6.25" height="6.25" fill="#e92428"/>
<rect x="47.08" y="208.31" width="6.25" height="6.25" fill="#b3d45c"/>
<rect x="52.13" y="208.31" width="6.25" height="6.25" fill="#e92428"/>
<rect x="57.19" y="208.31" width="16.36" height="6.25" fill="#74cacd"/>
<rect x="72.35" y="208.31" width="6.25" height="6.25" fill="#41bdea"/>
<rect x="77.40" y="208.31" width="6.25" height="6.25" fill="#27348b"/>
<rect x="82.45" y="208.31" width="6.25" height="6.25" fill="#2b52a6"/>
<rect x="87.51" y="208.31" width="6.25" height="6.25" fill="#27348b"/>
<rect x="92.56" y="208.31" width="6.25" height="6.25" fill="#2b52a6"/>
<rect x="97.61" y="208.31" width="21.41" height="6.25" fill="#27348b"/>
<rect x="117.83" y="208.31" width="6.25" height="6.25" fill="#74cacd"/>
<rect x="122.88" y="208.31" width="16.36" height="6.25" fill="#2b52a6"/>
<rect x="138.04" y="208.31" width="6.25" height="6.25" fill="#74cacd"/>
<rect x="143.09" y="208.31" width="6.25" height="6.25" fill="#27348b"/>
<rect x="148.15" y="208.31" width="5.05" height="6.25" fill="#2b52a6"/>
<rect x="1.60" y="213.36" width="6.25" height="6.25" fill="#b3d45c"/>
<rect x="6.65" y="213.36" width="6.25" height="6.25" fill="#fcb61a"/>
<rect x="11.71" y="213.36" width="6.25" height="6.25" fill="#f57f22"/>
<rect x="16.76" y="213.36" width="6.25" height="6.25" fill="#e92428"/>
<rect x="21.81" y="213.36" width="16.36" height="6.25" fill="#f57f22"/>
<rect x="36.97" y="213.36" width="6.25" height="6.25" fill="#e92428"/>
<rect x="42.03" y="213.36" width="6.25" height="6.25" fill="#b3d45c"/>
<rect x="47.08" y="213.36" width="6.25" height="6.25" fill="#f57f22"/>
<rect x="52.13" y="213.36" width="6.25" height="6.25" fill="#fbe813"/>
<rect x="57.19" y="213.36" width="6.25" height="6.25" fill="#b3d45c"/>
<rect x="62.24" y="213.36" width="11.31" height="6.25" fill="#74cacd"/>
<rect x="72.35" y="213.36" width="6.25" height="6.25" fill="#41bdea"/>
<rect x="77.40" y="213.36" width="46.68" height="6.25" fill="#27348b"/>
<rect x="122.88" y="213.36" width="6.25" height="6.25" fill="#3a80cb"/>
<rect x="127.93" y="213.36" width="6.25" height="6.25" fill="#41bdea"/>
<rect x="132.99" y="213.36" width="11.31" height="6.25" fill="#74cacd"/>
<rect x="143.09" y="213.36" width="6.25" height="6.25" fill="#3a80cb"/>
<rect x="148.15" y="213.36" width="5.05" height="6.25" fill="#27348b"/>
<rect x="1.60" y="218.41" width="6.25" height="6.25" fill="#b3d45c"/>
<rect x="6.65" y="218.41" width="6.25" height="6.25" fill="#fbe813"/>
<rect x="11.71" y="218.41" width="6.25" height="6.25" fill="#fcb61a"/>
<rect x="16.76" y="218.41" width="6.25" height="6.25" fill="#e92428"/>
<rect x="21.81" y="218.41" width="11.31" height="6.25" fill="#f57f22"/>
<rect x="31.92" y="218.41" width="6.25" height="6.25" fill="#fcb61a"/>
<rect x="36.97" y="218.41" width="6.25" height="6.25" fill="#f57f22"/>
<rect x="42.03" y="218.41" width="16.36" height="6.25" fill="#b3d45c"/>
<rect x="57.19" y="218.41" width="6.25" height="6.25" fill="#41bdea"/>
<rect x="62.24" y="218.41" width="6.25" height="6.25" fill="#3a80cb"/>
<rect x="67.29" y="218.41" width="6.25" height="6.25" fill="#2b52a6"/>
<rect x="72.35" y="218.41" width="6.25" height="6.25" fill="#3a80cb"/>
<rect x="77.40" y="218.41" width="16.36" height="6.25" fill="#2b52a6"/>
<rect x="92.56" y="218.41" width="31.52" height="6.25" fill="#27348b"/>
<rect x="122.88" y="218.41" width="11.31" height="6.25" fill="#2b52a6"/>
<rect x="132.99" y="218.41" width="6.25" height="6.25" fill="#74cacd"/>
<rect x="138.04" y="218.41" width="6.25" height="6.25" fill="#2b52a6"/>
<rect x="143.09" y="218.41" width="6.25" height="6.25" fill="#41bdea"/>
<rect x="148.15" y="218.41" width="5.05" height="6.25" fill="#27348b"/>
<rect x="1.60" y="223.47" width="11.31" height="6.25" fill="#fbe813"/>
<rect x="11.71" y="223.47" width="6.25" height="6.25" fill="#fcb61a"/>
<rect x="16.76" y="223.47" width="16.36" height="6.25" fill="#e92428"/>
<rect x="31.92" y="223.47" width="6.25" height="6.25" fill="#f57f22"/>
<rect x="36.97" y="223.47" width="6.25" height="6.25" fill="#fbe813"/>
<rect x="42.03" y="223.47" width="16.36" height="6.25" fill="#b3d45c"/>
<rect x="57.19" y="223.47" width="6.25" height="6.25" fill="#41bdea"/>
<rect x="62.24" y="223.47" width="6.25" height="6.25" fill="#b3d45c"/>
<rect x="67.29" y="223.47" width="6.25" height="6.25" fill="#74cacd"/>
<rect x="72.35" y="223.47" width="6.25" height="6.25" fill="#2b52a6"/>
<rect x="77.40" y="223.47" width="6.25" height="6.25" fill="#41bdea"/>
<rect x="82.45" y="223.47" width="46.68" height="6.25" fill="#27348b"/>
<rect x="127.93" y="223.47" width="11.31" height="6.25" fill="#2b52a6"/>
<rect x="138.04" y="223.47" width="6.25" height="6.25" fill="#74cacd"/>
<rect x="143.09" y="223.47" width="6.25" height="6.25" fill="#2b52a6"/>
<rect x="148.15" y="223.47" width="5.05" height="6.25" fill="#27348b"/>
<rect x="1.60" y="228.52" width="6.25" height="6.25" fill="#b3d45c"/>
<rect x="6.65" y="228.52" width="6.25" height="6.25" fill="#f57f22"/>
<rect x="11.71" y="228.52" width="6.25" height="6.25" fill="#fcb61a"/>
<rect x="16.76" y="228.52" width="16.36" height="6.25" fill="#f57f22"/>
<rect x="31.92" y="228.52" width="6.25" height="6.25" fill="#8b191b"/>
<rect x="36.97" y="228.52" width="6.25" height="6.25" fill="#f57f22"/>
<rect x="42.03" y="228.52" width="6.25" height="6.25" fill="#b3d45c"/>
<rect x="47.08" y="228.52" width="6.25" height="6.25" fill="#74cacd"/>
<rect x="52.13" y="228.52" width="6.25" height="6.25" fill="#fbe813"/>
<rect x="57.19" y="228.52" width="6.25" height="6.25" fill="#74cacd"/>
<rect x="62.24" y="228.52" width="11.31" height="6.25" fill="#fbe813"/>
<rect x="72.35" y="228.52" width="6.25" height="6.25" fill="#3a80cb"/>
<rect x="77.40" y="228.52" width="51.73" height="6.25" fill="#27348b"/>
<rect x="127.93" y="228.52" width="6.25" height="6.25" fill="#2b52a6"/>
<rect x="132.99" y="228.52" width="6.25" height="6.25" fill="#74cacd"/>
<rect x="138.04" y="228.52" width="6.25" height="6.25" fill="#3a80cb"/>
<rect x="143.09" y="228.52" width="6.25" height="6.25" fill="#27348b"/>
<rect x="148.15" y="228.52" width="5.05" height="6.25" fill="#2b52a6"/>
<rect x="1.60" y="233.57" width="6.25" height="6.25" fill="#fbe813"/>
<rect x="6.65" y="233.57" width="6.25" height="6.25" fill="#fcb61a"/>
<rect x="11.71" y="233.57" width="6.25" height="6.25" fill="#e92428"/>
<rect x="16.76" y="233.57" width="6.25" height="6.25" fill="#f57f22"/>
<rect x="21.81" y="233.57" width="6.25" height="6.25" fill="#e92428"/>
<rect x="26.87" y="233.57" width="6.25" height="6.25" fill="#f57f22"/>
<rect x="31.92" y="233.57" width="6.25" height="6.25" fill="#fcb61a"/>
<rect x="36.97" y="233.57" width="6.25" height="6.25" fill="#8b191b"/>
<rect x="42.03" y="233.57" width="6.25" height="6.25" fill="#fbe813"/>
<rect x="47.08" y="233.57" width="16.36" height="6.25" fill="#b3d45c"/>
<rect x="62.24" y="233.57" width="6.25" height="6.25" fill="#41bdea"/>
<rect x="67.29" y="233.57" width="6.25" height="6.25" fill="#fbe813"/>
<rect x="72.35" y="233.57" width="11.31" height="6.25" fill="#2b52a6"/>
<rect x="82.45" y="233.57" width="6.25" height="6.25" fill="#27348b"/>
<rect x="87.51" y="233.57" width="6.25" height="6.25" fill="#b3d45c"/>
<rect x="92.56" y="233.57" width="6.25" height="6.25" fill="#27348b"/>
<rect x="97.61" y="233.57" width="6.25" height="6.25" fill="#3a80cb"/>
<rect x="102.67" y="233.57" width="26.47" height="6.25" fill="#27348b"/>
<rect x="127.93" y="233.57" width="6.25" height="6.25" fill="#3a80cb"/>
<rect x="132.99" y="233.57" width="6.25" height="6.25" fill="#b3d45c"/>
<rect x="138.04" y="233.57" width="6.25" height="6.25" fill="#2b52a6"/>
<rect x="143.09" y="233.57" width="6.25" height="6.25" fill="#27348b"/>
<rect x="148.15" y="233.57" width="5.05" height="6.25" fill="#2b52a6"/>
<rect x="1.60" y="238.63" width="6.25" height="6.25" fill="#fcb61a"/>
<rect x="6.65" y="238.63" width="6.25" height="6.25" fill="#f57f22"/>
<rect x="11.71" y="238.63" width="6.25" height="6.25" fill="#fcb61a"/>
<rect x="16.76" y="238.63" width="16.36" height="6.25" fill="#f57f22"/>
<rect x="31.92" y="238.63" width="6.25" height="6.25" fill="#fcb61a"/>
<rect x="36.97" y="238.63" width="6.25" height="6.25" fill="#f57f22"/>
<rect x="42.03" y="238.63" width="6.25" height="6.25" fill="#8b191b"/>
<rect x="47.08" y="238.63" width="6.25" height="6.25" fill="#fbe813"/>
<rect x="52.13" y="238.63" width="6.25" height="6.25" fill="#b3d45c"/>
<rect x="57.19" y="238.63" width="6.25" height="6.25" fill="#74cacd"/>
<rect x="62.24" y="238.63" width="6.25" height="6.25" fill="#41bdea"/>
<rect x="67.29" y="238.63" width="6.25" height="6.25" fill="#74cacd"/>
<rect x="72.35" y="238.63" width="6.25" height="6.25" fill="#3a80cb"/>
<rect x="77.40" y="238.63" width="6.25" height="6.25" fill="#41bdea"/>
<rect x="82.45" y="238.63" width="16.36" height="6.25" fill="#27348b"/>
<rect x="97.61" y="238.63" width="16.36" height="6.25" fill="#2b52a6"/>
<rect x="112.77" y="238.63" width="16.36" height="6.25" fill="#27348b"/>
<rect x="127.93" y="238.63" width="11.31" height="6.25" fill="#2b52a6"/>
<rect x="138.04" y="238.63" width="15.16" height="6.25" fill="#27348b"/>
<rect x="1.60" y="243.68" width="6.25" height="6.25" fill="#e92428"/>
<rect x="6.65" y="243.68" width="6.25" height="6.25" fill="#fbe813"/>
<rect x="11.71" y="243.68" width="11.31" height="6.25" fill="#f57f22"/>
<rect x="21.81" y="243.68" width="6.25" height="6.25" fill="#e92428"/>
<rect x="26.87" y="243.68" width="11.31" height="6.25" fill="#f57f22"/>
<rect x="36.97" y="243.68" width="6.25" height="6.25" fill="#fbe813"/>
<rect x="42.03" y="243.68" width="6.25" height="6.25" fill="#b3d45c"/>
<rect x="47.08" y="243.68" width="6.25" height="6.25" fill="#f57f22"/>
<rect x="52.13" y="243.68" width="6.25" height="6.25" fill="#e92428"/>
<rect x="57.19" y="243.68" width="6.25" height="6.25" fill="#fbe813"/>
<rect x="62.24" y="243.68" width="6.25" height="6.25" fill="#b3d45c"/>
<rect x="67.29" y="243.68" width="6.25" height="6.25" fill="#fbe813"/>
<rect x="72.35" y="243.68" width="6.25" height="6.25" fill="#b3d45c"/>
<rect x="77.40" y="243.68" width="6.25" height="6.25" fill="#3a80cb"/>
<rect x="82.45" y="243.68" width="6.25" height="6.25" fill="#27348b"/>
<rect x="87.51" y="243.68" width="11.31" height="6.25" fill="#41bdea"/>
<rect x="97.61" y="243.68" width="11.31" height="6.25" fill="#27348b"/>
<rect x="107.72" y="243.68" width="6.25" height="6.25" fill="#41bdea"/>
<rect x="112.77" y="243.68" width="16.36" height="6.25" fill="#27348b"/>
<rect x="127.93" y="243.68" width="11.31" height="6.25" fill="#2b52a6"/>
<rect x="138.04" y="243.68" width="6.25" height="6.25" fill="#b3d45c"/>
<rect x="143.09" y="243.68" width="10.11" height="6.25" fill="#2b52a6"/>
<rect x="1.60" y="248.73" width="6.25" height="6.25" fill="#f57f22"/>
<rect x="6.65" y="248.73" width="6.25" height="6.25" fill="#8b191b"/>
<rect x="11.71" y="248.73" width="11.31" height="6.25" fill="#e92428"/>
<rect x="21.81" y="248.73" width="16.36" height="6.25" fill="#f57f22"/>
<rect x="36.97" y="248.73" width="6.25" height="6.25" fill="#fcb61a"/>
<rect x="42.03" y="248.73" width="16.36" height="6.25" fill="#b3d45c"/>
<rect x="57.19" y="248.73" width="11.31" height="6.25" fill="#41bdea"/>
<rect x="67.29" y="248.73" width="6.25" height="6.25" fill="#74cacd"/>
<rect x="72.35" y="248.73" width="6.25" height="6.25" fill="#41bdea"/>
<rect x="77.40" y="248.73" width="21.41" height="6.25" fill="#27348b"/>
<rect x="97.61" y="248.73" width="11.31" height="6.25" fill="#3a80cb"/>
<rect x="107.72" y="248.73" width="6.25" height="6.25" fill="#2b52a6"/>
<rect x="112.77" y="248.73" width="16.36" height="6.25" fill="#27348b"/>
<rect x="127.93" y="248.73" width="6.25" height="6.25" fill="#b3d45c"/>
<rect x="132.99" y="248.73" width="6.25" height="6.25" fill="#3a80cb"/>
<rect x="138.04" y="248.73" width="6.25" height="6.25" fill="#27348b"/>
<rect x="143.09" y="248.73" width="6.25" height="6.25" fill="#2b52a6"/>
<rect x="148.15" y="248.73" width="5.05" height="6.25" fill="#27348b"/>
<rect x="1.60" y="253.79" width="11.31" height="6.25" fill="#f57f22"/>
<rect x="11.71" y="253.79" width="6.25" height="6.25" fill="#8b191b"/>
<rect x="16.76" y="253.79" width="6.25" height="6.25" fill="#f57f22"/>
<rect x="21.81" y="253.79" width="11.31" height="6.25" fill="#e92428"/>
<rect x="31.92" y="253.79" width="21.41" height="6.25" fill="#fbe813"/>
<rect x="52.13" y="253.79" width="6.25" height="6.25" fill="#b3d45c"/>
<rect x="57.19" y="253.79" width="6.25" height="6.25" fill="#74cacd"/>
<rect x="62.24" y="253.79" width="11.31" height="6.25" fill="#2b52a6"/>
<rect x="72.35" y="253.79" width="36.57" height="6.25" fill="#27348b"/>
<rect x="107.72" y="253.79" width="11.31" height="6.25" fill="#2b52a6"/>
<rect x="117.83" y="253.79" width="11.31" height="6.25" fill="#27348b"/>
<rect x="127.93" y="253.79" width="6.25" height="6.25" fill="#b3d45c"/>
<rect x="132.99" y="253.79" width="20.21" height="6.25" fill="#27348b"/>
<rect x="1.60" y="258.84" width="6.25" height="6.25" fill="#e92428"/>
<rect x="6.65" y="258.84" width="11.31" height="6.25" fill="#f57f22"/>
<rect x="16.76" y="258.84" width="6.25" height="6.25" fill="#e92428"/>
<rect x="21.81" y="258.84" width="11.31" height="6.25" fill="#f57f22"/>
<rect x="31.92" y="258.84" width="6.25" height="6.25" fill="#e92428"/>
<rect x="36.97" y="258.84" width="6.25" height="6.25" fill="#fcb61a"/>
<rect x="42.03" y="258.84" width="16.36" height="6.25" fill="#b3d45c"/>
<rect x="57.19" y="258.84" width="6.25" height="6.25" fill="#74cacd"/>
<rect x="62.24" y="258.84" width="11.31" height="6.25" fill="#2b52a6"/>
<rect x="72.35" y="258.84" width="16.36" height="6.25" fill="#27348b"/>
<rect x="87.51" y="258.84" width="6.25" height="6.25" fill="#2b52a6"/>
<rect x="92.56" y="258.84" width="6.25" height="6.25" fill="#3a80cb"/>
<rect x="97.61" y="258.84" width="6.25" height="6.25" fill="#2b52a6"/>
<rect x="102.67" y="258.84" width="21.41" height="6.25" fill="#27348b"/>
<rect x="122.88" y="258.84" width="6.25" height="6.25" fill="#41bdea"/>
<rect x="127.93" y="258.84" width="11.31" height="6.25" fill="#27348b"/>
<rect x="138.04" y="258.84" width="6.25" height="6.25" fill="#74cacd"/>
<rect x="143.09" y="258.84" width="6.25" height="6.25" fill="#27348b"/>
<rect x="148.15" y="258.84" width="5.05" height="6.25" fill="#2b52a6"/>
<rect x="1.60" y="263.89" width="6.25" height="6.25" fill="#8b191b"/>
<rect x="6.65" y="263.89" width="6.25" height="6.25" fill="#e92428"/>
<rect x="11.71" y="263.89" width="11.31" height="6.25" fill="#fcb61a"/>
<rect x="21.81" y="263.89" width="6.25" height="6.25" fill="#e92428"/>
<rect x="26.87" y="263.89" width="6.25" height="6.25" fill="#fcb61a"/>
<rect x="31.92" y="263.89" width="11.31" height="6.25" fill="#f57f22"/>
<rect x="42.03" y="263.89" width="11.31" height="6.25" fill="#b3d45c"/>
<rect x="52.13" y="263.89" width="6.25" height="6.25" fill="#41bdea"/>
<rect x="57.19" y="263.89" width="6.25" height="6.25" fill="#fbe813"/>
<rect x="62.24" y="263.89" width="6.25" height="6.25" fill="#3a80cb"/>
<rect x="67.29" y="263.89" width="6.25" height="6.25" fill="#27348b"/>
<rect x="72.35" y="263.89" width="26.47" height="6.25" fill="#2b52a6"/>
<rect x="97.61" y="263.89" width="26.47" height="6.25" fill="#27348b"/>
<rect x="122.88" y="263.89" width="6.25" height="6.25" fill="#2b52a6"/>
<rect x="127.93" y="263.89" width="6.25" height="6.25" fill="#27348b"/>
<rect x="132.99" y="263.89" width="11.31" height="6.25" fill="#2b52a6"/>
<rect x="143.09" y="263.89" width="10.11" height="6.25" fill="#41bdea"/>
<rect x="1.60" y="268.95" width="6.25" height="6.25" fill="#8b191b"/>
<rect x="6.65" y="268.95" width="6.25" height="6.25" fill="#e92428"/>
<rect x="11.71" y="268.95" width="6.25" height="6.25" fill="#f57f22"/>
<rect x="16.76" y="268.95" width="6.25" height="6.25" fill="#fcb61a"/>
<rect x="21.81" y="268.95" width="16.36" height="6.25" fill="#f57f22"/>
<rect x="36.97" y="268.95" width="6.25" height="6.25" fill="#e92428"/>
<rect x="42.03" y="268.95" width="6.25" height="6.25" fill="#fbe813"/>
<rect x="47.08" y="268.95" width="6.25" height="6.25" fill="#b3d45c"/>
<rect x="52.13" y="268.95" width="6.25" height="6.25" fill="#41bdea"/>
<rect x="57.19" y="268.95" width="6.25" height="6.25" fill="#fbe813"/>
<rect x="62.24" y="268.95" width="6.25" height="6.25" fill="#41bdea"/>
<rect x="67.29" y="268.95" width="16.36" height="6.25" fill="#2b52a6"/>
<rect x="82.45" y="268.95" width="16.36" height="6.25" fill="#27348b"/>
<rect x="97.61" y="268.95" width="6.25" height="6.25" fill="#2b52a6"/>
<rect x="102.67" y="268.95" width="6.25" height="6.25" fill="#27348b"/>
<rect x="107.72" y="268.95" width="6.25" height="6.25" fill="#2b52a6"/>
<rect x="112.77" y="268.95" width="11.31" height="6.25" fill="#27348b"/>
<rect x="122.88" y="268.95" width="6.25" height="6.25" fill="#2b52a6"/>
<rect x="127.93" y="268.95" width="11.31" height="6.25" fill="#27348b"/>
<rect x="138.04" y="268.95" width="6.25" height="6.25" fill="#3a80cb"/>
<rect x="143.09" y="268.95" width="10.11" height="6.25" fill="#b3d45c"/>
<rect x="1.60" y="274.00" width="6.25" height="6.25" fill="#e92428"/>
<rect x="6.65" y="274.00" width="6.25" height="6.25" fill="#8b191b"/>
<rect x="11.71" y="274.00" width="6.25" height="6.25" fill="#f57f22"/>
<rect x="16.76" y="274.00" width="6.25" height="6.25" fill="#e92428"/>
<rect x="21.81" y="274.00" width="6.25" height="6.25" fill="#f57f22"/>
<rect x="26.87" y="274.00" width="11.31" height="6.25" fill="#fcb61a"/>
<rect x="36.97" y="274.00" width="6.25" height="6.25" fill="#e92428"/>
<rect x="42.03" y="274.00" width="6.25" height="6.25" fill="#fcb61a"/>
<rect x="47.08" y="274.00" width="6.25" height="6.25" fill="#fbe813"/>
<rect x="52.13" y="274.00" width="11.31" height="6.25" fill="#74cacd"/>
<rect x="62.24" y="274.00" width="6.25" height="6.25" fill="#41bdea"/>
<rect x="67.29" y="274.00" width="6.25" height="6.25" fill="#2b52a6"/>
<rect x="72.35" y="274.00" width="6.25" height="6.25" fill="#41bdea"/>
<rect x="77.40" y="274.00" width="11.31" height="6.25" fill="#2b52a6"/>
<rect x="87.51" y="274.00" width="36.57" height="6.25" fill="#27348b"/>
<rect x="122.88" y="274.00" width="6.25" height="6.25" fill="#3a80cb"/>
<rect x="127.93" y="274.00" width="11.31" height="6.25" fill="#27348b"/>
<rect x="138.04" y="274.00" width="6.25" height="6.25" fill="#3a80cb"/>
<rect x="143.09" y="274.00" width="10.11" height="6.25" fill="#2b52a6"/>
<rect x="1.60" y="279.05" width="11.31" height="6.25" fill="#f57f22"/>
<rect x="11.71" y="279.05" width="6.25" height="6.25" fill="#8b191b"/>
<rect x="16.76" y="279.05" width="6.25" height="6.25" fill="#fcb61a"/>
<rect x="21.81" y="279.05" width="11.31" height="6.25" fill="#e92428"/>
<rect x="31.92" y="279.05" width="6.25" height="6.25" fill="#fcb61a"/>
<rect x="36.97" y="279.05" width="6.25" height="6.25" fill="#f57f22"/>
<rect x="42.03" y="279.05" width="6.25" height="6.25" fill="#fcb61a"/>
<rect x="47.08" y="279.05" width="6.25" height="6.25" fill="#fbe813"/>
<rect x="52.13" y="279.05" width="6.25" height="6.25" fill="#fcb61a"/>
<rect x="57.19" y="279.05" width="11.31" height="6.25" fill="#b3d45c"/>
<rect x="67.29" y="279.05" width="16.36" height="6.25" fill="#41bdea"/>
<rect x="82.45" y="279.05" width="6.25" height="6.25" fill="#3a80cb"/>
<rect x="87.51" y="279.05" width="31.52" height="6.25" fill="#27348b"/>
<rect x="117.83" y="279.05" width="6.25" height="6.25" fill="#2b52a6"/>
<rect x="122.88" y="279.05" width="30.32" height="6.25" fill="#27348b"/>
<rect x="1.60" y="284.11" width="6.25" height="6.25" fill="#e92428"/>
<rect x="6.65" y="284.11" width="6.25" height="6.25" fill="#8b191b"/>
<rect x="11.71" y="284.11" width="6.25" height="6.25" fill="#f57f22"/>
<rect x="16.76" y="284.11" width="6.25" height="6.25" fill="#8b191b"/>
<rect x="21.81" y="284.11" width="6.25" height="6.25" fill="#fcb61a"/>
<rect x="26.87" y="284.11" width="11.31" height="6.25" fill="#8b191b"/>
<rect x="36.97" y="284.11" width="21.41" height="6.25" fill="#f57f22"/>
<rect x="57.19" y="284.11" width="6.25" height="6.25" fill="#fbe813"/>
<rect x="62.24" y="284.11" width="6.25" height="6.25" fill="#b3d45c"/>
<rect x="67.29" y="284.11" width="11.31" height="6.25" fill="#74cacd"/>
<rect x="77.40" y="284.11" width="11.31" height="6.25" fill="#b3d45c"/>
<rect x="87.51" y="284.11" width="6.25" height="6.25" fill="#3a80cb"/>
<rect x="92.56" y="284.11" width="16.36" height="6.25" fill="#2b52a6"/>
<rect x="107.72" y="284.11" width="11.31" height="6.25" fill="#27348b"/>
<rect x="117.83" y="284.11" width="6.25" height="6.25" fill="#2b52a6"/>
<rect x="122.88" y="284.11" width="6.25" height="6.25" fill="#27348b"/>
<rect x="127.93" y="284.11" width="6.25" height="6.25" fill="#fbe813"/>
<rect x="132.99" y="284.11" width="6.25" height="6.25" fill="#41bdea"/>
<rect x="138.04" y="284.11" width="11.31" height="6.25" fill="#27348b"/>
<rect x="148.15" y="284.11" width="5.05" height="6.25" fill="#41bdea"/>
<rect x="1.60" y="289.16" width="16.36" height="6.25" fill="#8b191b"/>
<rect x="16.76" y="289.16" width="6.25" height="6.25" fill="#e92428"/>
<rect x="21.81" y="289.16" width="21.41" height="6.25" fill="#8b191b"/>
<rect x="42.03" y="289.16" width="6.25" height="6.25" fill="#f57f22"/>
<rect x="47.08" y="289.16" width="6.25" height="6.25" fill="#e92428"/>
<rect x="52.13" y="289.16" width="6.25" height="6.25" fill="#f57f22"/>
<rect x="57.19" y="289.16" width="6.25" height="6.25" fill="#fcb61a"/>
<rect x="62.24" y="289.16" width="11.31" height="6.25" fill="#f57f22"/>
<rect x="72.35" y="289.16" width="6.25" height="6.25" fill="#e92428"/>
<rect x="77.40" y="289.16" width="6.25" height="6.25" fill="#fbe813"/>
<rect x="82.45" y="289.16" width="11.31" height="6.25" fill="#b3d45c"/>
<rect x="92.56" y="289.16" width="6.25" height="6.25" fill="#41bdea"/>
<rect x="97.61" y="289.16" width="6.25" height="6.25" fill="#2b52a6"/>
<rect x="102.67" y="289.16" width="21.41" height="6.25" fill="#27348b"/>
<rect x="122.88" y="289.16" width="6.25" height="6.25" fill="#fcb61a"/>
<rect x="127.93" y="289.16" width="21.41" height="6.25" fill="#27348b"/>
<rect x="148.15" y="289.16" width="5.05" height="6.25" fill="#74cacd"/>
<rect x="1.60" y="294.21" width="41.63" height="6.25" fill="#8b191b"/>
<rect x="42.03" y="294.21" width="6.25" height="6.25" fill="#e92428"/>
<rect x="47.08" y="294.21" width="6.25" height="6.25" fill="#fcb61a"/>
<rect x="52.13" y="294.21" width="11.31" height="6.25" fill="#f57f22"/>
<rect x="62.24" y="294.21" width="6.25" height="6.25" fill="#fcb61a"/>
<rect x="67.29" y="294.21" width="6.25" height="6.25" fill="#fbe813"/>
<rect x="72.35" y="294.21" width="11.31" height="6.25" fill="#b3d45c"/>
<rect x="82.45" y="294.21" width="6.25" height="6.25" fill="#74cacd"/>
<rect x="87.51" y="294.21" width="6.25" height="6.25" fill="#b3d45c"/>
<rect x="92.56" y="294.21" width="6.25" height="6.25" fill="#41bdea"/>
<rect x="97.61" y="294.21" width="6.25" height="6.25" fill="#2b52a6"/>
<rect x="102.67" y="294.21" width="6.25" height="6.25" fill="#27348b"/>
<rect x="107.72" y="294.21" width="21.41" height="6.25" fill="#2b52a6"/>
<rect x="127.93" y="294.21" width="6.25" height="6.25" fill="#27348b"/>
<rect x="132.99" y="294.21" width="6.25" height="6.25" fill="#2b52a6"/>
<rect x="138.04" y="294.21" width="6.25" height="6.25" fill="#27348b"/>
<rect x="143.09" y="294.21" width="6.25" height="6.25" fill="#fcb61a"/>
<rect x="148.15" y="294.21" width="5.05" height="6.25" fill="#2b52a6"/>
<rect x="1.60" y="299.27" width="26.47" height="6.25" fill="#8b191b"/>
<rect x="26.87" y="299.27" width="11.31" height="6.25" fill="#e92428"/>
<rect x="36.97" y="299.27" width="6.25" height="6.25" fill="#8b191b"/>
<rect x="42.03" y="299.27" width="6.25" height="6.25" fill="#fcb61a"/>
<rect x="47.08" y="299.27" width="6.25" height="6.25" fill="#e92428"/>
<rect x="52.13" y="299.27" width="21.41" height="6.25" fill="#f57f22"/>
<rect x="72.35" y="299.27" width="6.25" height="6.25" fill="#fcb61a"/>
<rect x="77.40" y="299.27" width="6.25" height="6.25" fill="#fbe813"/>
<rect x="82.45" y="299.27" width="11.31" height="6.25" fill="#74cacd"/>
<rect x="92.56" y="299.27" width="6.25" height="6.25" fill="#41bdea"/>
<rect x="97.61" y="299.27" width="11.31" height="6.25" fill="#2b52a6"/>
<rect x="107.72" y="299.27" width="21.41" height="6.25" fill="#27348b"/>
<rect x="127.93" y="299.27" width="6.25" height="6.25" fill="#2b52a6"/>
<rect x="132.99" y="299.27" width="6.25" height="6.25" fill="#8b191b"/>
<rect x="138.04" y="299.27" width="6.25" height="6.25" fill="#27348b"/>
<rect x="143.09" y="299.27" width="6.25" height="6.25" fill="#3a80cb"/>
<rect x="148.15" y="299.27" width="5.05" height="6.25" fill="#2b52a6"/>
<rect x="1.60" y="304.32" width="26.47" height="6.25" fill="#8b191b"/>
<rect x="26.87" y="304.32" width="21.41" height="6.25" fill="#e92428"/>
<rect x="47.08" y="304.32" width="6.25" height="6.25" fill="#fbe813"/>
<rect x="52.13" y="304.32" width="11.31" height="6.25" fill="#8b191b"/>
<rect x="62.24" y="304.32" width="11.31" height="6.25" fill="#f57f22"/>
<rect x="72.35" y="304.32" width="6.25" height="6.25" fill="#fcb61a"/>
<rect x="77.40" y="304.32" width="6.25" height="6.25" fill="#fbe813"/>
<rect x="82.45" y="304.32" width="6.25" height="6.25" fill="#b3d45c"/>
<rect x="87.51" y="304.32" width="6.25" height="6.25" fill="#41bdea"/>
<rect x="92.56" y="304.32" width="6.25" height="6.25" fill="#3a80cb"/>
<rect x="97.61" y="304.32" width="21.41" height="6.25" fill="#2b52a6"/>
<rect x="117.83" y="304.32" width="6.25" height="6.25" fill="#74cacd"/>
<rect x="122.88" y="304.32" width="16.36" height="6.25" fill="#2b52a6"/>
<rect x="138.04" y="304.32" width="11.31" height="6.25" fill="#41bdea"/>
<rect x="148.15" y="304.32" width="5.05" height="6.25" fill="#2b52a6"/>
<rect x="1.60" y="309.37" width="21.41" height="6.25" fill="#8b191b"/>
<rect x="21.81" y="309.37" width="11.31" height="6.25" fill="#e92428"/>
<rect x="31.92" y="309.37" width="6.25" height="6.25" fill="#fcb61a"/>
<rect x="36.97" y="309.37" width="6.25" height="6.25" fill="#e92428"/>
<rect x="42.03" y="309.37" width="21.41" height="6.25" fill="#8b191b"/>
<rect x="62.24" y="309.37" width="6.25" height="6.25" fill="#e92428"/>
<rect x="67.29" y="309.37" width="6.25" height="6.25" fill="#f57f22"/>
<rect x="72.35" y="309.37" width="6.25" height="6.25" fill="#b3d45c"/>
<rect x="77.40" y="309.37" width="6.25" height="6.25" fill="#fbe813"/>
<rect x="82.45" y="309.37" width="6.25" height="6.25" fill="#b3d45c"/>
<rect x="87.51" y="309.37" width="11.31" height="6.25" fill="#74cacd"/>
<rect x="97.61" y="309.37" width="11.31" height="6.25" fill="#3a80cb"/>
<rect x="107.72" y="309.37" width="31.52" height="6.25" fill="#2b52a6"/>
<rect x="138.04" y="309.37" width="6.25" height="6.25" fill="#8b191b"/>
<rect x="143.09" y="309.37" width="6.25" height="6.25" fill="#3a80cb"/>
<rect x="148.15" y="309.37" width="5.05" height="6.25" fill="#74cacd"/>
<rect x="1.60" y="314.43" width="36.57" height="6.25" fill="#8b191b"/>
<rect x="36.97" y="314.43" width="6.25" height="6.25" fill="#e92428"/>
<rect x="42.03" y="314.43" width="11.31" height="6.25" fill="#f57f22"/>
<rect x="52.13" y="314.43" width="16.36" height="6.25" fill="#8b191b"/>
<rect x="67.29" y="314.43" width="6.25" height="6.25" fill="#e92428"/>
<rect x="72.35" y="314.43" width="6.25" height="6.25" fill="#fcb61a"/>
<rect x="77.40" y="314.43" width="11.31" height="6.25" fill="#b3d45c"/>
<rect x="87.51" y="314.43" width="11.31" height="6.25" fill="#74cacd"/>
<rect x="97.61" y="314.43" width="6.25" height="6.25" fill="#41bdea"/>
<rect x="102.67" y="314.43" width="6.25" height="6.25" fill="#3a80cb"/>
<rect x="107.72" y="314.43" width="31.52" height="6.25" fill="#2b52a6"/>
<rect x="138.04" y="314.43" width="11.31" height="6.25" fill="#fcb61a"/>
<rect x="148.15" y="314.43" width="5.05" height="6.25" fill="#3a80cb"/>
<rect x="1.60" y="319.48" width="41.63" height="6.25" fill="#8b191b"/>
<rect x="42.03" y="319.48" width="6.25" height="6.25" fill="#e92428"/>
<rect x="47.08" y="319.48" width="6.25" height="6.25" fill="#f57f22"/>
<rect x="52.13" y="319.48" width="6.25" height="6.25" fill="#e92428"/>
<rect x="57.19" y="319.48" width="11.31" height="6.25" fill="#8b191b"/>
<rect x="67.29" y="319.48" width="6.25" height="6.25" fill="#e92428"/>
<rect x="72.35" y="319.48" width="6.25" height="6.25" fill="#f57f22"/>
<rect x="77.40" y="319.48" width="6.25" height="6.25" fill="#fbe813"/>
<rect x="82.45" y="319.48" width="11.31" height="6.25" fill="#b3d45c"/>
<rect x="92.56" y="319.48" width="6.25" height="6.25" fill="#74cacd"/>
<rect x="97.61" y="319.48" width="6.25" height="6.25" fill="#41bdea"/>
<rect x="102.67" y="319.48" width="6.25" height="6.25" fill="#3a80cb"/>
<rect x="107.72" y="319.48" width="16.36" height="6.25" fill="#2b52a6"/>
<rect x="122.88" y="319.48" width="6.25" height="6.25" fill="#27348b"/>
<rect x="127.93" y="319.48" width="21.41" height="6.25" fill="#2b52a6"/>
<rect x="148.15" y="319.48" width="5.05" height="6.25" fill="#3a80cb"/>
<rect x="1.60" y="324.53" width="46.68" height="6.25" fill="#8b191b"/>
<rect x="47.08" y="324.53" width="6.25" height="6.25" fill="#e92428"/>
<rect x="52.13" y="324.53" width="6.25" height="6.25" fill="#74cacd"/>
<rect x="57.19" y="324.53" width="6.25" height="6.25" fill="#b3d45c"/>
<rect x="62.24" y="324.53" width="6.25" height="6.25" fill="#f57f22"/>
<rect x="67.29" y="324.53" width="11.31" height="6.25" fill="#e92428"/>
<rect x="77.40" y="324.53" width="6.25" height="6.25" fill="#f57f22"/>
<rect x="82.45" y="324.53" width="6.25" height="6.25" fill="#fbe813"/>
<rect x="87.51" y="324.53" width="6.25" height="6.25" fill="#b3d45c"/>
<rect x="92.56" y="324.53" width="6.25" height="6.25" fill="#74cacd"/>
<rect x="97.61" y="324.53" width="6.25" height="6.25" fill="#41bdea"/>
<rect x="102.67" y="324.53" width="6.25" height="6.25" fill="#3a80cb"/>
<rect x="107.72" y="324.53" width="6.25" height="6.25" fill="#41bdea"/>
<rect x="112.77" y="324.53" width="31.52" height="6.25" fill="#2b52a6"/>
<rect x="143.09" y="324.53" width="6.25" height="6.25" fill="#27348b"/>
<rect x="148.15" y="324.53" width="5.05" height="6.25" fill="#3a80cb"/>
<rect x="1.60" y="329.59" width="51.73" height="6.25" fill="#8b191b"/>
<rect x="52.13" y="329.59" width="6.25" height="6.25" fill="#fbe813"/>
<rect x="57.19" y="329.59" width="6.25" height="6.25" fill="#f57f22"/>
<rect x="62.24" y="329.59" width="6.25" height="6.25" fill="#fbe813"/>
<rect x="67.29" y="329.59" width="6.25" height="6.25" fill="#f57f22"/>
<rect x="72.35" y="329.59" width="6.25" height="6.25" fill="#8b191b"/>
<rect x="77.40" y="329.59" width="6.25" height="6.25" fill="#f57f22"/>
<rect x="82.45" y="329.59" width="6.25" height="6.25" fill="#e92428"/>
<rect x="87.51" y="329.59" width="6.25" height="6.25" fill="#fbe813"/>
<rect x="92.56" y="329.59" width="6.25" height="6.25" fill="#b3d45c"/>
<rect x="97.61" y="329.59" width="6.25" height="6.25" fill="#74cacd"/>
<rect x="102.67" y="329.59" width="21.41" height="6.25" fill="#3a80cb"/>
<rect x="122.88" y="329.59" width="6.25" height="6.25" fill="#27348b"/>
<rect x="127.93" y="329.59" width="11.31" height="6.25" fill="#2b52a6"/>
<rect x="138.04" y="329.59" width="11.31" height="6.25" fill="#41bdea"/>
<rect x="148.15" y="329.59" width="5.05" height="6.25" fill="#3a80cb"/>
<rect x="1.60" y="334.64" width="51.73" height="6.25" fill="#8b191b"/>
<rect x="52.13" y="334.64" width="6.25" height="6.25" fill="#e92428"/>
<rect x="57.19" y="334.64" width="6.25" height="6.25" fill="#8b191b"/>
<rect x="62.24" y="334.64" width="6.25" height="6.25" fill="#f57f22"/>
<rect x="67.29" y="334.64" width="6.25" height="6.25" fill="#74cacd"/>
<rect x="72.35" y="334.64" width="6.25" height="6.25" fill="#fcb61a"/>
<rect x="77.40" y="334.64" width="6.25" height="6.25" fill="#8b191b"/>
<rect x="82.45" y="334.64" width="6.25" height="6.25" fill="#e92428"/>
<rect x="87.51" y="334.64" width="6.25" height="6.25" fill="#f57f22"/>
<rect x="92.56" y="334.64" width="6.25" height="6.25" fill="#b3d45c"/>
<rect x="97.61" y="334.64" width="21.41" height="6.25" fill="#41bdea"/>
<rect x="117.83" y="334.64" width="11.31" height="6.25" fill="#2b52a6"/>
<rect x="127.93" y="334.64" width="6.25" height="6.25" fill="#b3d45c"/>
<rect x="132.99" y="334.64" width="16.36" height="6.25" fill="#74cacd"/>
<rect x="148.15" y="334.64" width="5.05" height="6.25" fill="#b3d45c"/>
<rect x="1.60" y="339.69" width="66.89" height="6.25" fill="#8b191b"/>
<rect x="67.29" y="339.69" width="6.25" height="6.25" fill="#b3d45c"/>
<rect x="72.35" y="339.69" width="6.25" height="6.25" fill="#fbe813"/>
<rect x="77.40" y="339.69" width="6.25" height="6.25" fill="#f57f22"/>
<rect x="82.45" y="339.69" width="11.31" height="6.25" fill="#8b191b"/>
<rect x="92.56" y="339.69" width="6.25" height="6.25" fill="#fcb61a"/>
<rect x="97.61" y="339.69" width="6.25" height="6.25" fill="#f57f22"/>
<rect x="102.67" y="339.69" width="6.25" height="6.25" fill="#fbe813"/>
<rect x="107.72" y="339.69" width="6.25" height="6.25" fill="#41bdea"/>
<rect x="112.77" y="339.69" width="11.31" height="6.25" fill="#74cacd"/>
<rect x="122.88" y="339.69" width="6.25" height="6.25" fill="#41bdea"/>
<rect x="127.93" y="339.69" width="16.36" height="6.25" fill="#b3d45c"/>
<rect x="143.09" y="339.69" width="6.25" height="6.25" fill="#74cacd"/>
<rect x="148.15" y="339.69" width="5.05" height="6.25" fill="#b3d45c"/>
<rect x="1.60" y="344.75" width="97.21" height="5.05" fill="#8b191b"/>
<rect x="97.61" y="344.75" width="11.31" height="5.05" fill="#e92428"/>
<rect x="107.72" y="344.75" width="6.25" height="5.05" fill="#f57f22"/>
<rect x="112.77" y="344.75" width="6.25" height="5.05" fill="#e92428"/>
<rect x="117.83" y="344.75" width="6.25" height="5.05" fill="#f57f22"/>
<rect x="122.88" y="344.75" width="6.25" height="5.05" fill="#b3d45c"/>
<rect x="127.93" y="344.75" width="6.25" height="5.05" fill="#fcb61a"/>
<rect x="132.99" y="344.75" width="11.31" height="5.05" fill="#fbe813"/>
<rect x="143.09" y="344.75" width="6.25" height="5.05" fill="#f57f22"/>
<rect x="148.15" y="344.75" width="5.05" height="5.05" fill="#fcb61a"/>
</g>
<g filter="url(#soft)" shape-rendering="crispEdges">
<rect x="241.60" y="198.70" width="16.38" height="6.25" fill="#f57f22"/>
<rect x="256.78" y="198.70" width="11.32" height="6.25" fill="#74cacd"/>
<rect x="266.90" y="198.70" width="6.26" height="6.25" fill="#fbe813"/>
<rect x="271.96" y="198.70" width="21.44" height="6.25" fill="#74cacd"/>
<rect x="292.20" y="198.70" width="16.38" height="6.25" fill="#41bdea"/>
<rect x="307.38" y="198.70" width="11.32" height="6.25" fill="#8b191b"/>
<rect x="317.50" y="198.70" width="6.26" height="6.25" fill="#e92428"/>
<rect x="322.56" y="198.70" width="6.26" height="6.25" fill="#fcb61a"/>
<rect x="327.62" y="198.70" width="11.32" height="6.25" fill="#b3d45c"/>
<rect x="337.74" y="198.70" width="6.26" height="6.25" fill="#2b52a6"/>
<rect x="342.80" y="198.70" width="6.26" height="6.25" fill="#74cacd"/>
<rect x="347.86" y="198.70" width="6.26" height="6.25" fill="#27348b"/>
<rect x="352.92" y="198.70" width="6.26" height="6.25" fill="#fbe813"/>
<rect x="357.98" y="198.70" width="6.26" height="6.25" fill="#27348b"/>
<rect x="363.04" y="198.70" width="6.26" height="6.25" fill="#fbe813"/>
<rect x="368.10" y="198.70" width="6.26" height="6.25" fill="#27348b"/>
<rect x="373.16" y="198.70" width="6.26" height="6.25" fill="#2b52a6"/>
<rect x="378.22" y="198.70" width="11.32" height="6.25" fill="#27348b"/>
<rect x="388.34" y="198.70" width="5.06" height="6.25" fill="#b3d45c"/>
<rect x="241.60" y="203.75" width="16.38" height="6.25" fill="#f57f22"/>
<rect x="256.78" y="203.75" width="11.32" height="6.25" fill="#74cacd"/>
<rect x="266.90" y="203.75" width="11.32" height="6.25" fill="#b3d45c"/>
<rect x="277.02" y="203.75" width="11.32" height="6.25" fill="#41bdea"/>
<rect x="287.14" y="203.75" width="6.26" height="6.25" fill="#74cacd"/>
<rect x="292.20" y="203.75" width="6.26" height="6.25" fill="#fcb61a"/>
<rect x="297.26" y="203.75" width="6.26" height="6.25" fill="#74cacd"/>
<rect x="302.32" y="203.75" width="6.26" height="6.25" fill="#3a80cb"/>
<rect x="307.38" y="203.75" width="11.32" height="6.25" fill="#b3d45c"/>
<rect x="317.50" y="203.75" width="6.26" height="6.25" fill="#f57f22"/>
<rect x="322.56" y="203.75" width="6.26" height="6.25" fill="#e92428"/>
<rect x="327.62" y="203.75" width="16.38" height="6.25" fill="#2b52a6"/>
<rect x="342.80" y="203.75" width="16.38" height="6.25" fill="#27348b"/>
<rect x="357.98" y="203.75" width="6.26" height="6.25" fill="#3a80cb"/>
<rect x="363.04" y="203.75" width="6.26" height="6.25" fill="#41bdea"/>
<rect x="368.10" y="203.75" width="21.44" height="6.25" fill="#27348b"/>
<rect x="388.34" y="203.75" width="5.06" height="6.25" fill="#fbe813"/>
<rect x="241.60" y="208.79" width="16.38" height="6.25" fill="#f57f22"/>
<rect x="256.78" y="208.79" width="11.32" height="6.25" fill="#74cacd"/>
<rect x="266.90" y="208.79" width="6.26" height="6.25" fill="#b3d45c"/>
<rect x="271.96" y="208.79" width="6.26" height="6.25" fill="#fbe813"/>
<rect x="277.02" y="208.79" width="6.26" height="6.25" fill="#b3d45c"/>
<rect x="282.08" y="208.79" width="6.26" height="6.25" fill="#41bdea"/>
<rect x="287.14" y="208.79" width="21.44" height="6.25" fill="#74cacd"/>
<rect x="307.38" y="208.79" width="6.26" height="6.25" fill="#3a80cb"/>
<rect x="312.44" y="208.79" width="11.32" height="6.25" fill="#e92428"/>
<rect x="322.56" y="208.79" width="6.26" height="6.25" fill="#fcb61a"/>
<rect x="327.62" y="208.79" width="6.26" height="6.25" fill="#b3d45c"/>
<rect x="332.68" y="208.79" width="6.26" height="6.25" fill="#8b191b"/>
<rect x="337.74" y="208.79" width="6.26" height="6.25" fill="#f57f22"/>
<rect x="342.80" y="208.79" width="6.26" height="6.25" fill="#2b52a6"/>
<rect x="347.86" y="208.79" width="11.32" height="6.25" fill="#27348b"/>
<rect x="357.98" y="208.79" width="6.26" height="6.25" fill="#41bdea"/>
<rect x="363.04" y="208.79" width="30.36" height="6.25" fill="#27348b"/>
<rect x="241.60" y="213.84" width="16.38" height="6.25" fill="#f57f22"/>
<rect x="256.78" y="213.84" width="6.26" height="6.25" fill="#74cacd"/>
<rect x="261.84" y="213.84" width="11.32" height="6.25" fill="#b3d45c"/>
<rect x="271.96" y="213.84" width="6.26" height="6.25" fill="#fbe813"/>
<rect x="277.02" y="213.84" width="6.26" height="6.25" fill="#b3d45c"/>
<rect x="282.08" y="213.84" width="6.26" height="6.25" fill="#3a80cb"/>
<rect x="287.14" y="213.84" width="6.26" height="6.25" fill="#e92428"/>
<rect x="292.20" y="213.84" width="11.32" height="6.25" fill="#b3d45c"/>
<rect x="302.32" y="213.84" width="6.26" height="6.25" fill="#27348b"/>
<rect x="307.38" y="213.84" width="6.26" height="6.25" fill="#74cacd"/>
<rect x="312.44" y="213.84" width="6.26" height="6.25" fill="#fbe813"/>
<rect x="317.50" y="213.84" width="11.32" height="6.25" fill="#8b191b"/>
<rect x="327.62" y="213.84" width="6.26" height="6.25" fill="#f57f22"/>
<rect x="332.68" y="213.84" width="6.26" height="6.25" fill="#fcb61a"/>
<rect x="337.74" y="213.84" width="6.26" height="6.25" fill="#fbe813"/>
<rect x="342.80" y="213.84" width="6.26" height="6.25" fill="#41bdea"/>
<rect x="347.86" y="213.84" width="21.44" height="6.25" fill="#27348b"/>
<rect x="368.10" y="213.84" width="6.26" height="6.25" fill="#41bdea"/>
<rect x="373.16" y="213.84" width="6.26" height="6.25" fill="#74cacd"/>
<rect x="378.22" y="213.84" width="6.26" height="6.25" fill="#b3d45c"/>
<rect x="383.28" y="213.84" width="6.26" height="6.25" fill="#2b52a6"/>
<rect x="388.34" y="213.84" width="5.06" height="6.25" fill="#27348b"/>
<rect x="241.60" y="218.89" width="6.26" height="6.25" fill="#74cacd"/>
<rect x="246.66" y="218.89" width="6.26" height="6.25" fill="#b3d45c"/>
<rect x="251.72" y="218.89" width="6.26" height="6.25" fill="#fbe813"/>
<rect x="256.78" y="218.89" width="6.26" height="6.25" fill="#e92428"/>
<rect x="261.84" y="218.89" width="16.38" height="6.25" fill="#fcb61a"/>
<rect x="277.02" y="218.89" width="6.26" height="6.25" fill="#b3d45c"/>
<rect x="282.08" y="218.89" width="11.32" height="6.25" fill="#74cacd"/>
<rect x="292.20" y="218.89" width="6.26" height="6.25" fill="#41bdea"/>
<rect x="297.26" y="218.89" width="11.32" height="6.25" fill="#fcb61a"/>
<rect x="307.38" y="218.89" width="16.38" height="6.25" fill="#8b191b"/>
<rect x="322.56" y="218.89" width="6.26" height="6.25" fill="#f57f22"/>
<rect x="327.62" y="218.89" width="6.26" height="6.25" fill="#e92428"/>
<rect x="332.68" y="218.89" width="6.26" height="6.25" fill="#b3d45c"/>
<rect x="337.74" y="218.89" width="11.32" height="6.25" fill="#2b52a6"/>
<rect x="347.86" y="218.89" width="16.38" height="6.25" fill="#27348b"/>
<rect x="363.04" y="218.89" width="6.26" height="6.25" fill="#2b52a6"/>
<rect x="368.10" y="218.89" width="6.26" height="6.25" fill="#27348b"/>
<rect x="373.16" y="218.89" width="6.26" height="6.25" fill="#2b52a6"/>
<rect x="378.22" y="218.89" width="6.26" height="6.25" fill="#27348b"/>
<rect x="383.28" y="218.89" width="6.26" height="6.25" fill="#2b52a6"/>
<rect x="388.34" y="218.89" width="5.06" height="6.25" fill="#27348b"/>
<rect x="241.60" y="223.93" width="11.32" height="6.25" fill="#fbe813"/>
<rect x="251.72" y="223.93" width="6.26" height="6.25" fill="#b3d45c"/>
<rect x="256.78" y="223.93" width="6.26" height="6.25" fill="#f57f22"/>
<rect x="261.84" y="223.93" width="6.26" height="6.25" fill="#e92428"/>
<rect x="266.90" y="223.93" width="6.26" height="6.25" fill="#f57f22"/>
<rect x="271.96" y="223.93" width="6.26" height="6.25" fill="#74cacd"/>
<rect x="277.02" y="223.93" width="6.26" height="6.25" fill="#b3d45c"/>
<rect x="282.08" y="223.93" width="6.26" height="6.25" fill="#2b52a6"/>
<rect x="287.14" y="223.93" width="6.26" height="6.25" fill="#41bdea"/>
<rect x="292.20" y="223.93" width="6.26" height="6.25" fill="#e92428"/>
<rect x="297.26" y="223.93" width="6.26" height="6.25" fill="#fcb61a"/>
<rect x="302.32" y="223.93" width="6.26" height="6.25" fill="#f57f22"/>
<rect x="307.38" y="223.93" width="6.26" height="6.25" fill="#fcb61a"/>
<rect x="312.44" y="223.93" width="6.26" height="6.25" fill="#fbe813"/>
<rect x="317.50" y="223.93" width="16.38" height="6.25" fill="#8b191b"/>
<rect x="332.68" y="223.93" width="6.26" height="6.25" fill="#fcb61a"/>
<rect x="337.74" y="223.93" width="6.26" height="6.25" fill="#2b52a6"/>
<rect x="342.80" y="223.93" width="6.26" height="6.25" fill="#27348b"/>
<rect x="347.86" y="223.93" width="6.26" height="6.25" fill="#2b52a6"/>
<rect x="352.92" y="223.93" width="26.50" height="6.25" fill="#27348b"/>
<rect x="378.22" y="223.93" width="6.26" height="6.25" fill="#2b52a6"/>
<rect x="383.28" y="223.93" width="10.12" height="6.25" fill="#27348b"/>
<rect x="241.60" y="228.98" width="6.26" height="6.25" fill="#74cacd"/>
<rect x="246.66" y="228.98" width="11.32" height="6.25" fill="#fbe813"/>
<rect x="256.78" y="228.98" width="11.32" height="6.25" fill="#f57f22"/>
<rect x="266.90" y="228.98" width="11.32" height="6.25" fill="#fbe813"/>
<rect x="277.02" y="228.98" width="6.26" height="6.25" fill="#41bdea"/>
<rect x="282.08" y="228.98" width="6.26" height="6.25" fill="#2b52a6"/>
<rect x="287.14" y="228.98" width="6.26" height="6.25" fill="#41bdea"/>
<rect x="292.20" y="228.98" width="6.26" height="6.25" fill="#f57f22"/>
<rect x="297.26" y="228.98" width="6.26" height="6.25" fill="#e92428"/>
<rect x="302.32" y="228.98" width="6.26" height="6.25" fill="#41bdea"/>
<rect x="307.38" y="228.98" width="6.26" height="6.25" fill="#74cacd"/>
<rect x="312.44" y="228.98" width="6.26" height="6.25" fill="#b3d45c"/>
<rect x="317.50" y="228.98" width="11.32" height="6.25" fill="#8b191b"/>
<rect x="327.62" y="228.98" width="6.26" height="6.25" fill="#fcb61a"/>
<rect x="332.68" y="228.98" width="6.26" height="6.25" fill="#b3d45c"/>
<rect x="337.74" y="228.98" width="6.26" height="6.25" fill="#41bdea"/>
<rect x="342.80" y="228.98" width="31.56" height="6.25" fill="#27348b"/>
<rect x="373.16" y="228.98" width="6.26" height="6.25" fill="#3a80cb"/>
<rect x="378.22" y="228.98" width="6.26" height="6.25" fill="#2b52a6"/>
<rect x="383.28" y="228.98" width="10.12" height="6.25" fill="#27348b"/>
<rect x="241.60" y="234.03" width="6.26" height="6.25" fill="#b3d45c"/>
<rect x="246.66" y="234.03" width="6.26" height="6.25" fill="#e92428"/>
<rect x="251.72" y="234.03" width="26.50" height="6.25" fill="#f57f22"/>
<rect x="277.02" y="234.03" width="6.26" height="6.25" fill="#fbe813"/>
<rect x="282.08" y="234.03" width="6.26" height="6.25" fill="#2b52a6"/>
<rect x="287.14" y="234.03" width="6.26" height="6.25" fill="#fbe813"/>
<rect x="292.20" y="234.03" width="6.26" height="6.25" fill="#8b191b"/>
<rect x="297.26" y="234.03" width="6.26" height="6.25" fill="#fcb61a"/>
<rect x="302.32" y="234.03" width="6.26" height="6.25" fill="#41bdea"/>
<rect x="307.38" y="234.03" width="6.26" height="6.25" fill="#b3d45c"/>
<rect x="312.44" y="234.03" width="6.26" height="6.25" fill="#fbe813"/>
<rect x="317.50" y="234.03" width="11.32" height="6.25" fill="#e92428"/>
<rect x="327.62" y="234.03" width="6.26" height="6.25" fill="#74cacd"/>
<rect x="332.68" y="234.03" width="6.26" height="6.25" fill="#e92428"/>
<rect x="337.74" y="234.03" width="6.26" height="6.25" fill="#b3d45c"/>
<rect x="342.80" y="234.03" width="6.26" height="6.25" fill="#3a80cb"/>
<rect x="347.86" y="234.03" width="16.38" height="6.25" fill="#27348b"/>
<rect x="363.04" y="234.03" width="6.26" height="6.25" fill="#2b52a6"/>
<rect x="368.10" y="234.03" width="6.26" height="6.25" fill="#27348b"/>
<rect x="373.16" y="234.03" width="6.26" height="6.25" fill="#2b52a6"/>
<rect x="378.22" y="234.03" width="15.18" height="6.25" fill="#27348b"/>
<rect x="241.60" y="239.07" width="11.32" height="6.25" fill="#fcb61a"/>
<rect x="251.72" y="239.07" width="6.26" height="6.25" fill="#fbe813"/>
<rect x="256.78" y="239.07" width="6.26" height="6.25" fill="#fcb61a"/>
<rect x="261.84" y="239.07" width="6.26" height="6.25" fill="#f57f22"/>
<rect x="266.90" y="239.07" width="11.32" height="6.25" fill="#b3d45c"/>
<rect x="277.02" y="239.07" width="6.26" height="6.25" fill="#41bdea"/>
<rect x="282.08" y="239.07" width="6.26" height="6.25" fill="#74cacd"/>
<rect x="287.14" y="239.07" width="6.26" height="6.25" fill="#2b52a6"/>
<rect x="292.20" y="239.07" width="6.26" height="6.25" fill="#fbe813"/>
<rect x="297.26" y="239.07" width="6.26" height="6.25" fill="#e92428"/>
<rect x="302.32" y="239.07" width="6.26" height="6.25" fill="#f57f22"/>
<rect x="307.38" y="239.07" width="6.26" height="6.25" fill="#74cacd"/>
<rect x="312.44" y="239.07" width="6.26" height="6.25" fill="#8b191b"/>
<rect x="317.50" y="239.07" width="6.26" height="6.25" fill="#74cacd"/>
<rect x="322.56" y="239.07" width="6.26" height="6.25" fill="#e92428"/>
<rect x="327.62" y="239.07" width="11.32" height="6.25" fill="#f57f22"/>
<rect x="337.74" y="239.07" width="6.26" height="6.25" fill="#74cacd"/>
<rect x="342.80" y="239.07" width="6.26" height="6.25" fill="#41bdea"/>
<rect x="347.86" y="239.07" width="6.26" height="6.25" fill="#3a80cb"/>
<rect x="352.92" y="239.07" width="40.48" height="6.25" fill="#27348b"/>
<rect x="241.60" y="244.12" width="6.26" height="6.25" fill="#fcb61a"/>
<rect x="246.66" y="244.12" width="6.26" height="6.25" fill="#74cacd"/>
<rect x="251.72" y="244.12" width="6.26" height="6.25" fill="#fcb61a"/>
<rect x="256.78" y="244.12" width="6.26" height="6.25" fill="#b3d45c"/>
<rect x="261.84" y="244.12" width="6.26" height="6.25" fill="#fbe813"/>
<rect x="266.90" y="244.12" width="6.26" height="6.25" fill="#fcb61a"/>
<rect x="271.96" y="244.12" width="6.26" height="6.25" fill="#41bdea"/>
<rect x="277.02" y="244.12" width="11.32" height="6.25" fill="#2b52a6"/>
<rect x="287.14" y="244.12" width="11.32" height="6.25" fill="#41bdea"/>
<rect x="297.26" y="244.12" width="6.26" height="6.25" fill="#74cacd"/>
<rect x="302.32" y="244.12" width="6.26" height="6.25" fill="#fbe813"/>
<rect x="307.38" y="244.12" width="6.26" height="6.25" fill="#2b52a6"/>
<rect x="312.44" y="244.12" width="6.26" height="6.25" fill="#f57f22"/>
<rect x="317.50" y="244.12" width="6.26" height="6.25" fill="#fbe813"/>
<rect x="322.56" y="244.12" width="6.26" height="6.25" fill="#e92428"/>
<rect x="327.62" y="244.12" width="11.32" height="6.25" fill="#41bdea"/>
<rect x="337.74" y="244.12" width="6.26" height="6.25" fill="#f57f22"/>
<rect x="342.80" y="244.12" width="6.26" height="6.25" fill="#74cacd"/>
<rect x="347.86" y="244.12" width="6.26" height="6.25" fill="#b3d45c"/>
<rect x="352.92" y="244.12" width="11.32" height="6.25" fill="#2b52a6"/>
<rect x="363.04" y="244.12" width="6.26" height="6.25" fill="#27348b"/>
<rect x="368.10" y="244.12" width="6.26" height="6.25" fill="#2b52a6"/>
<rect x="373.16" y="244.12" width="6.26" height="6.25" fill="#27348b"/>
<rect x="378.22" y="244.12" width="6.26" height="6.25" fill="#74cacd"/>
<rect x="383.28" y="244.12" width="6.26" height="6.25" fill="#27348b"/>
<rect x="388.34" y="244.12" width="5.06" height="6.25" fill="#2b52a6"/>
<rect x="241.60" y="249.17" width="6.26" height="6.25" fill="#b3d45c"/>
<rect x="246.66" y="249.17" width="11.32" height="6.25" fill="#f57f22"/>
<rect x="256.78" y="249.17" width="6.26" height="6.25" fill="#e92428"/>
<rect x="261.84" y="249.17" width="6.26" height="6.25" fill="#f57f22"/>
<rect x="266.90" y="249.17" width="6.26" height="6.25" fill="#e92428"/>
<rect x="271.96" y="249.17" width="6.26" height="6.25" fill="#3a80cb"/>
<rect x="277.02" y="249.17" width="6.26" height="6.25" fill="#41bdea"/>
<rect x="282.08" y="249.17" width="11.32" height="6.25" fill="#2b52a6"/>
<rect x="292.20" y="249.17" width="6.26" height="6.25" fill="#f57f22"/>
<rect x="297.26" y="249.17" width="6.26" height="6.25" fill="#b3d45c"/>
<rect x="302.32" y="249.17" width="11.32" height="6.25" fill="#8b191b"/>
<rect x="312.44" y="249.17" width="16.38" height="6.25" fill="#e92428"/>
<rect x="327.62" y="249.17" width="6.26" height="6.25" fill="#b3d45c"/>
<rect x="332.68" y="249.17" width="6.26" height="6.25" fill="#e92428"/>
<rect x="337.74" y="249.17" width="6.26" height="6.25" fill="#2b52a6"/>
<rect x="342.80" y="249.17" width="6.26" height="6.25" fill="#74cacd"/>
<rect x="347.86" y="249.17" width="6.26" height="6.25" fill="#41bdea"/>
<rect x="352.92" y="249.17" width="11.32" height="6.25" fill="#2b52a6"/>
<rect x="363.04" y="249.17" width="6.26" height="6.25" fill="#27348b"/>
<rect x="368.10" y="249.17" width="6.26" height="6.25" fill="#b3d45c"/>
<rect x="373.16" y="249.17" width="20.24" height="6.25" fill="#27348b"/>
<rect x="241.60" y="254.21" width="6.26" height="6.25" fill="#b3d45c"/>
<rect x="246.66" y="254.21" width="6.26" height="6.25" fill="#fcb61a"/>
<rect x="251.72" y="254.21" width="6.26" height="6.25" fill="#fbe813"/>
<rect x="256.78" y="254.21" width="11.32" height="6.25" fill="#f57f22"/>
<rect x="266.90" y="254.21" width="6.26" height="6.25" fill="#b3d45c"/>
<rect x="271.96" y="254.21" width="6.26" height="6.25" fill="#74cacd"/>
<rect x="277.02" y="254.21" width="6.26" height="6.25" fill="#41bdea"/>
<rect x="282.08" y="254.21" width="6.26" height="6.25" fill="#3a80cb"/>
<rect x="287.14" y="254.21" width="6.26" height="6.25" fill="#41bdea"/>
<rect x="292.20" y="254.21" width="6.26" height="6.25" fill="#74cacd"/>
<rect x="297.26" y="254.21" width="6.26" height="6.25" fill="#f57f22"/>
<rect x="302.32" y="254.21" width="6.26" height="6.25" fill="#e92428"/>
<rect x="307.38" y="254.21" width="11.32" height="6.25" fill="#8b191b"/>
<rect x="317.50" y="254.21" width="6.26" height="6.25" fill="#e92428"/>
<rect x="322.56" y="254.21" width="16.38" height="6.25" fill="#8b191b"/>
<rect x="337.74" y="254.21" width="11.32" height="6.25" fill="#2b52a6"/>
<rect x="347.86" y="254.21" width="6.26" height="6.25" fill="#41bdea"/>
<rect x="352.92" y="254.21" width="6.26" height="6.25" fill="#b3d45c"/>
<rect x="357.98" y="254.21" width="6.26" height="6.25" fill="#74cacd"/>
<rect x="363.04" y="254.21" width="6.26" height="6.25" fill="#27348b"/>
<rect x="368.10" y="254.21" width="6.26" height="6.25" fill="#fbe813"/>
<rect x="373.16" y="254.21" width="16.38" height="6.25" fill="#27348b"/>
<rect x="388.34" y="254.21" width="5.06" height="6.25" fill="#2b52a6"/>
<rect x="241.60" y="259.26" width="6.26" height="6.25" fill="#fbe813"/>
<rect x="246.66" y="259.26" width="6.26" height="6.25" fill="#f57f22"/>
<rect x="251.72" y="259.26" width="6.26" height="6.25" fill="#fbe813"/>
<rect x="256.78" y="259.26" width="11.32" height="6.25" fill="#e92428"/>
<rect x="266.90" y="259.26" width="6.26" height="6.25" fill="#f57f22"/>
<rect x="271.96" y="259.26" width="6.26" height="6.25" fill="#e92428"/>
<rect x="277.02" y="259.26" width="6.26" height="6.25" fill="#74cacd"/>
<rect x="282.08" y="259.26" width="11.32" height="6.25" fill="#3a80cb"/>
<rect x="292.20" y="259.26" width="6.26" height="6.25" fill="#41bdea"/>
<rect x="297.26" y="259.26" width="6.26" height="6.25" fill="#f57f22"/>
<rect x="302.32" y="259.26" width="6.26" height="6.25" fill="#e92428"/>
<rect x="307.38" y="259.26" width="31.56" height="6.25" fill="#8b191b"/>
<rect x="337.74" y="259.26" width="11.32" height="6.25" fill="#b3d45c"/>
<rect x="347.86" y="259.26" width="6.26" height="6.25" fill="#fcb61a"/>
<rect x="352.92" y="259.26" width="6.26" height="6.25" fill="#b3d45c"/>
<rect x="357.98" y="259.26" width="6.26" height="6.25" fill="#3a80cb"/>
<rect x="363.04" y="259.26" width="6.26" height="6.25" fill="#b3d45c"/>
<rect x="368.10" y="259.26" width="6.26" height="6.25" fill="#2b52a6"/>
<rect x="373.16" y="259.26" width="20.24" height="6.25" fill="#27348b"/>
<rect x="241.60" y="264.31" width="11.32" height="6.25" fill="#e92428"/>
<rect x="251.72" y="264.31" width="11.32" height="6.25" fill="#fbe813"/>
<rect x="261.84" y="264.31" width="6.26" height="6.25" fill="#74cacd"/>
<rect x="266.90" y="264.31" width="6.26" height="6.25" fill="#e92428"/>
<rect x="271.96" y="264.31" width="6.26" height="6.25" fill="#3a80cb"/>
<rect x="277.02" y="264.31" width="6.26" height="6.25" fill="#fbe813"/>
<rect x="282.08" y="264.31" width="16.38" height="6.25" fill="#41bdea"/>
<rect x="297.26" y="264.31" width="6.26" height="6.25" fill="#74cacd"/>
<rect x="302.32" y="264.31" width="11.32" height="6.25" fill="#8b191b"/>
<rect x="312.44" y="264.31" width="6.26" height="6.25" fill="#e92428"/>
<rect x="317.50" y="264.31" width="11.32" height="6.25" fill="#8b191b"/>
<rect x="327.62" y="264.31" width="6.26" height="6.25" fill="#fcb61a"/>
<rect x="332.68" y="264.31" width="6.26" height="6.25" fill="#f57f22"/>
<rect x="337.74" y="264.31" width="6.26" height="6.25" fill="#e92428"/>
<rect x="342.80" y="264.31" width="6.26" height="6.25" fill="#fbe813"/>
<rect x="347.86" y="264.31" width="6.26" height="6.25" fill="#74cacd"/>
<rect x="352.92" y="264.31" width="6.26" height="6.25" fill="#fbe813"/>
<rect x="357.98" y="264.31" width="6.26" height="6.25" fill="#74cacd"/>
<rect x="363.04" y="264.31" width="6.26" height="6.25" fill="#41bdea"/>
<rect x="368.10" y="264.31" width="6.26" height="6.25" fill="#2b52a6"/>
<rect x="373.16" y="264.31" width="20.24" height="6.25" fill="#27348b"/>
<rect x="241.60" y="269.35" width="6.26" height="6.25" fill="#f57f22"/>
<rect x="246.66" y="269.35" width="6.26" height="6.25" fill="#e92428"/>
<rect x="251.72" y="269.35" width="6.26" height="6.25" fill="#fcb61a"/>
<rect x="256.78" y="269.35" width="6.26" height="6.25" fill="#8b191b"/>
<rect x="261.84" y="269.35" width="11.32" height="6.25" fill="#f57f22"/>
<rect x="271.96" y="269.35" width="11.32" height="6.25" fill="#b3d45c"/>
<rect x="282.08" y="269.35" width="6.26" height="6.25" fill="#74cacd"/>
<rect x="287.14" y="269.35" width="6.26" height="6.25" fill="#3a80cb"/>
<rect x="292.20" y="269.35" width="6.26" height="6.25" fill="#fbe813"/>
<rect x="297.26" y="269.35" width="6.26" height="6.25" fill="#74cacd"/>
<rect x="302.32" y="269.35" width="6.26" height="6.25" fill="#e92428"/>
<rect x="307.38" y="269.35" width="11.32" height="6.25" fill="#8b191b"/>
<rect x="317.50" y="269.35" width="6.26" height="6.25" fill="#e92428"/>
<rect x="322.56" y="269.35" width="6.26" height="6.25" fill="#8b191b"/>
<rect x="327.62" y="269.35" width="6.26" height="6.25" fill="#e92428"/>
<rect x="332.68" y="269.35" width="6.26" height="6.25" fill="#8b191b"/>
<rect x="337.74" y="269.35" width="6.26" height="6.25" fill="#fbe813"/>
<rect x="342.80" y="269.35" width="6.26" height="6.25" fill="#f57f22"/>
<rect x="347.86" y="269.35" width="6.26" height="6.25" fill="#b3d45c"/>
<rect x="352.92" y="269.35" width="6.26" height="6.25" fill="#e92428"/>
<rect x="357.98" y="269.35" width="6.26" height="6.25" fill="#3a80cb"/>
<rect x="363.04" y="269.35" width="21.44" height="6.25" fill="#27348b"/>
<rect x="383.28" y="269.35" width="6.26" height="6.25" fill="#2b52a6"/>
<rect x="388.34" y="269.35" width="5.06" height="6.25" fill="#27348b"/>
<rect x="241.60" y="274.40" width="6.26" height="6.25" fill="#f57f22"/>
<rect x="246.66" y="274.40" width="6.26" height="6.25" fill="#e92428"/>
<rect x="251.72" y="274.40" width="6.26" height="6.25" fill="#fcb61a"/>
<rect x="256.78" y="274.40" width="6.26" height="6.25" fill="#e92428"/>
<rect x="261.84" y="274.40" width="11.32" height="6.25" fill="#f57f22"/>
<rect x="271.96" y="274.40" width="6.26" height="6.25" fill="#fcb61a"/>
<rect x="277.02" y="274.40" width="6.26" height="6.25" fill="#74cacd"/>
<rect x="282.08" y="274.40" width="6.26" height="6.25" fill="#b3d45c"/>
<rect x="287.14" y="274.40" width="6.26" height="6.25" fill="#41bdea"/>
<rect x="292.20" y="274.40" width="6.26" height="6.25" fill="#74cacd"/>
<rect x="297.26" y="274.40" width="6.26" height="6.25" fill="#b3d45c"/>
<rect x="302.32" y="274.40" width="6.26" height="6.25" fill="#41bdea"/>
<rect x="307.38" y="274.40" width="6.26" height="6.25" fill="#8b191b"/>
<rect x="312.44" y="274.40" width="6.26" height="6.25" fill="#e92428"/>
<rect x="317.50" y="274.40" width="6.26" height="6.25" fill="#8b191b"/>
<rect x="322.56" y="274.40" width="6.26" height="6.25" fill="#e92428"/>
<rect x="327.62" y="274.40" width="16.38" height="6.25" fill="#8b191b"/>
<rect x="342.80" y="274.40" width="6.26" height="6.25" fill="#f57f22"/>
<rect x="347.86" y="274.40" width="6.26" height="6.25" fill="#e92428"/>
<rect x="352.92" y="274.40" width="6.26" height="6.25" fill="#b3d45c"/>
<rect x="357.98" y="274.40" width="6.26" height="6.25" fill="#3a80cb"/>
<rect x="363.04" y="274.40" width="16.38" height="6.25" fill="#2b52a6"/>
<rect x="378.22" y="274.40" width="15.18" height="6.25" fill="#27348b"/>
<rect x="241.60" y="279.45" width="6.26" height="6.25" fill="#e92428"/>
<rect x="246.66" y="279.45" width="6.26" height="6.25" fill="#f57f22"/>
<rect x="251.72" y="279.45" width="6.26" height="6.25" fill="#e92428"/>
<rect x="256.78" y="279.45" width="6.26" height="6.25" fill="#f57f22"/>
<rect x="261.84" y="279.45" width="11.32" height="6.25" fill="#e92428"/>
<rect x="271.96" y="279.45" width="6.26" height="6.25" fill="#fcb61a"/>
<rect x="277.02" y="279.45" width="6.26" height="6.25" fill="#74cacd"/>
<rect x="282.08" y="279.45" width="6.26" height="6.25" fill="#f57f22"/>
<rect x="287.14" y="279.45" width="6.26" height="6.25" fill="#3a80cb"/>
<rect x="292.20" y="279.45" width="6.26" height="6.25" fill="#2b52a6"/>
<rect x="297.26" y="279.45" width="6.26" height="6.25" fill="#41bdea"/>
<rect x="302.32" y="279.45" width="6.26" height="6.25" fill="#b3d45c"/>
<rect x="307.38" y="279.45" width="6.26" height="6.25" fill="#e92428"/>
<rect x="312.44" y="279.45" width="6.26" height="6.25" fill="#b3d45c"/>
<rect x="317.50" y="279.45" width="6.26" height="6.25" fill="#f57f22"/>
<rect x="322.56" y="279.45" width="6.26" height="6.25" fill="#e92428"/>
<rect x="327.62" y="279.45" width="16.38" height="6.25" fill="#8b191b"/>
<rect x="342.80" y="279.45" width="6.26" height="6.25" fill="#e92428"/>
<rect x="347.86" y="279.45" width="6.26" height="6.25" fill="#8b191b"/>
<rect x="352.92" y="279.45" width="6.26" height="6.25" fill="#e92428"/>
<rect x="357.98" y="279.45" width="6.26" height="6.25" fill="#b3d45c"/>
<rect x="363.04" y="279.45" width="11.32" height="6.25" fill="#2b52a6"/>
<rect x="373.16" y="279.45" width="6.26" height="6.25" fill="#41bdea"/>
<rect x="378.22" y="279.45" width="15.18" height="6.25" fill="#27348b"/>
<rect x="241.60" y="284.49" width="11.32" height="6.25" fill="#e92428"/>
<rect x="251.72" y="284.49" width="6.26" height="6.25" fill="#f57f22"/>
<rect x="256.78" y="284.49" width="6.26" height="6.25" fill="#8b191b"/>
<rect x="261.84" y="284.49" width="6.26" height="6.25" fill="#b3d45c"/>
<rect x="266.90" y="284.49" width="6.26" height="6.25" fill="#f57f22"/>
<rect x="271.96" y="284.49" width="16.38" height="6.25" fill="#41bdea"/>
<rect x="287.14" y="284.49" width="6.26" height="6.25" fill="#3a80cb"/>
<rect x="292.20" y="284.49" width="6.26" height="6.25" fill="#b3d45c"/>
<rect x="297.26" y="284.49" width="6.26" height="6.25" fill="#2b52a6"/>
<rect x="302.32" y="284.49" width="6.26" height="6.25" fill="#41bdea"/>
<rect x="307.38" y="284.49" width="6.26" height="6.25" fill="#f57f22"/>
<rect x="312.44" y="284.49" width="11.32" height="6.25" fill="#fcb61a"/>
<rect x="322.56" y="284.49" width="6.26" height="6.25" fill="#b3d45c"/>
<rect x="327.62" y="284.49" width="21.44" height="6.25" fill="#8b191b"/>
<rect x="347.86" y="284.49" width="6.26" height="6.25" fill="#e92428"/>
<rect x="352.92" y="284.49" width="6.26" height="6.25" fill="#8b191b"/>
<rect x="357.98" y="284.49" width="16.38" height="6.25" fill="#f57f22"/>
<rect x="373.16" y="284.49" width="11.32" height="6.25" fill="#2b52a6"/>
<rect x="383.28" y="284.49" width="10.12" height="6.25" fill="#27348b"/>
<rect x="241.60" y="289.54" width="6.26" height="6.25" fill="#e92428"/>
<rect x="246.66" y="289.54" width="11.32" height="6.25" fill="#8b191b"/>
<rect x="256.78" y="289.54" width="16.38" height="6.25" fill="#f57f22"/>
<rect x="271.96" y="289.54" width="6.26" height="6.25" fill="#3a80cb"/>
<rect x="277.02" y="289.54" width="11.32" height="6.25" fill="#74cacd"/>
<rect x="287.14" y="289.54" width="6.26" height="6.25" fill="#3a80cb"/>
<rect x="292.20" y="289.54" width="6.26" height="6.25" fill="#fbe813"/>
<rect x="297.26" y="289.54" width="26.50" height="6.25" fill="#2b52a6"/>
<rect x="322.56" y="289.54" width="6.26" height="6.25" fill="#74cacd"/>
<rect x="327.62" y="289.54" width="6.26" height="6.25" fill="#3a80cb"/>
<rect x="332.68" y="289.54" width="6.26" height="6.25" fill="#f57f22"/>
<rect x="337.74" y="289.54" width="21.44" height="6.25" fill="#8b191b"/>
<rect x="357.98" y="289.54" width="6.26" height="6.25" fill="#e92428"/>
<rect x="363.04" y="289.54" width="6.26" height="6.25" fill="#b3d45c"/>
<rect x="368.10" y="289.54" width="6.26" height="6.25" fill="#fcb61a"/>
<rect x="373.16" y="289.54" width="6.26" height="6.25" fill="#8b191b"/>
<rect x="378.22" y="289.54" width="6.26" height="6.25" fill="#b3d45c"/>
<rect x="383.28" y="289.54" width="10.12" height="6.25" fill="#27348b"/>
<rect x="241.60" y="294.59" width="11.32" height="6.25" fill="#8b191b"/>
<rect x="251.72" y="294.59" width="6.26" height="6.25" fill="#fbe813"/>
<rect x="256.78" y="294.59" width="6.26" height="6.25" fill="#e92428"/>
<rect x="261.84" y="294.59" width="6.26" height="6.25" fill="#fcb61a"/>
<rect x="266.90" y="294.59" width="6.26" height="6.25" fill="#e92428"/>
<rect x="271.96" y="294.59" width="6.26" height="6.25" fill="#f57f22"/>
<rect x="277.02" y="294.59" width="6.26" height="6.25" fill="#b3d45c"/>
<rect x="282.08" y="294.59" width="11.32" height="6.25" fill="#41bdea"/>
<rect x="292.20" y="294.59" width="6.26" height="6.25" fill="#27348b"/>
<rect x="297.26" y="294.59" width="6.26" height="6.25" fill="#41bdea"/>
<rect x="302.32" y="294.59" width="16.38" height="6.25" fill="#2b52a6"/>
<rect x="317.50" y="294.59" width="6.26" height="6.25" fill="#74cacd"/>
<rect x="322.56" y="294.59" width="6.26" height="6.25" fill="#fbe813"/>
<rect x="327.62" y="294.59" width="6.26" height="6.25" fill="#f57f22"/>
<rect x="332.68" y="294.59" width="6.26" height="6.25" fill="#b3d45c"/>
<rect x="337.74" y="294.59" width="21.44" height="6.25" fill="#8b191b"/>
<rect x="357.98" y="294.59" width="16.38" height="6.25" fill="#e92428"/>
<rect x="373.16" y="294.59" width="6.26" height="6.25" fill="#8b191b"/>
<rect x="378.22" y="294.59" width="6.26" height="6.25" fill="#f57f22"/>
<rect x="383.28" y="294.59" width="6.26" height="6.25" fill="#b3d45c"/>
<rect x="388.34" y="294.59" width="5.06" height="6.25" fill="#3a80cb"/>
<rect x="241.60" y="299.63" width="6.26" height="6.25" fill="#8b191b"/>
<rect x="246.66" y="299.63" width="6.26" height="6.25" fill="#fbe813"/>
<rect x="251.72" y="299.63" width="11.32" height="6.25" fill="#fcb61a"/>
<rect x="261.84" y="299.63" width="6.26" height="6.25" fill="#e92428"/>
<rect x="266.90" y="299.63" width="6.26" height="6.25" fill="#8b191b"/>
<rect x="271.96" y="299.63" width="6.26" height="6.25" fill="#e92428"/>
<rect x="277.02" y="299.63" width="11.32" height="6.25" fill="#fbe813"/>
<rect x="287.14" y="299.63" width="11.32" height="6.25" fill="#74cacd"/>
<rect x="297.26" y="299.63" width="21.44" height="6.25" fill="#2b52a6"/>
<rect x="317.50" y="299.63" width="6.26" height="6.25" fill="#3a80cb"/>
<rect x="322.56" y="299.63" width="6.26" height="6.25" fill="#b3d45c"/>
<rect x="327.62" y="299.63" width="6.26" height="6.25" fill="#fcb61a"/>
<rect x="332.68" y="299.63" width="6.26" height="6.25" fill="#f57f22"/>
<rect x="337.74" y="299.63" width="31.56" height="6.25" fill="#8b191b"/>
<rect x="368.10" y="299.63" width="6.26" height="6.25" fill="#e92428"/>
<rect x="373.16" y="299.63" width="11.32" height="6.25" fill="#3a80cb"/>
<rect x="383.28" y="299.63" width="10.12" height="6.25" fill="#b3d45c"/>
<rect x="241.60" y="304.68" width="6.26" height="6.25" fill="#8b191b"/>
<rect x="246.66" y="304.68" width="6.26" height="6.25" fill="#e92428"/>
<rect x="251.72" y="304.68" width="6.26" height="6.25" fill="#b3d45c"/>
<rect x="256.78" y="304.68" width="6.26" height="6.25" fill="#fbe813"/>
<rect x="261.84" y="304.68" width="6.26" height="6.25" fill="#f57f22"/>
<rect x="266.90" y="304.68" width="6.26" height="6.25" fill="#e92428"/>
<rect x="271.96" y="304.68" width="6.26" height="6.25" fill="#f57f22"/>
<rect x="277.02" y="304.68" width="6.26" height="6.25" fill="#e92428"/>
<rect x="282.08" y="304.68" width="6.26" height="6.25" fill="#fcb61a"/>
<rect x="287.14" y="304.68" width="6.26" height="6.25" fill="#3a80cb"/>
<rect x="292.20" y="304.68" width="11.32" height="6.25" fill="#27348b"/>
<rect x="302.32" y="304.68" width="6.26" height="6.25" fill="#2b52a6"/>
<rect x="307.38" y="304.68" width="11.32" height="6.25" fill="#3a80cb"/>
<rect x="317.50" y="304.68" width="6.26" height="6.25" fill="#2b52a6"/>
<rect x="322.56" y="304.68" width="6.26" height="6.25" fill="#41bdea"/>
<rect x="327.62" y="304.68" width="6.26" height="6.25" fill="#e92428"/>
<rect x="332.68" y="304.68" width="6.26" height="6.25" fill="#f57f22"/>
<rect x="337.74" y="304.68" width="6.26" height="6.25" fill="#b3d45c"/>
<rect x="342.80" y="304.68" width="16.38" height="6.25" fill="#8b191b"/>
<rect x="357.98" y="304.68" width="6.26" height="6.25" fill="#f57f22"/>
<rect x="363.04" y="304.68" width="11.32" height="6.25" fill="#8b191b"/>
<rect x="373.16" y="304.68" width="6.26" height="6.25" fill="#e92428"/>
<rect x="378.22" y="304.68" width="6.26" height="6.25" fill="#41bdea"/>
<rect x="383.28" y="304.68" width="6.26" height="6.25" fill="#fcb61a"/>
<rect x="388.34" y="304.68" width="5.06" height="6.25" fill="#e92428"/>
<rect x="241.60" y="309.73" width="11.32" height="6.25" fill="#8b191b"/>
<rect x="251.72" y="309.73" width="6.26" height="6.25" fill="#2b52a6"/>
<rect x="256.78" y="309.73" width="6.26" height="6.25" fill="#74cacd"/>
<rect x="261.84" y="309.73" width="6.26" height="6.25" fill="#b3d45c"/>
<rect x="266.90" y="309.73" width="6.26" height="6.25" fill="#e92428"/>
<rect x="271.96" y="309.73" width="6.26" height="6.25" fill="#f57f22"/>
<rect x="277.02" y="309.73" width="11.32" height="6.25" fill="#e92428"/>
<rect x="287.14" y="309.73" width="6.26" height="6.25" fill="#41bdea"/>
<rect x="292.20" y="309.73" width="6.26" height="6.25" fill="#2b52a6"/>
<rect x="297.26" y="309.73" width="16.38" height="6.25" fill="#27348b"/>
<rect x="312.44" y="309.73" width="6.26" height="6.25" fill="#2b52a6"/>
<rect x="317.50" y="309.73" width="6.26" height="6.25" fill="#41bdea"/>
<rect x="322.56" y="309.73" width="6.26" height="6.25" fill="#2b52a6"/>
<rect x="327.62" y="309.73" width="6.26" height="6.25" fill="#b3d45c"/>
<rect x="332.68" y="309.73" width="11.32" height="6.25" fill="#e92428"/>
<rect x="342.80" y="309.73" width="36.62" height="6.25" fill="#8b191b"/>
<rect x="378.22" y="309.73" width="11.32" height="6.25" fill="#41bdea"/>
<rect x="388.34" y="309.73" width="5.06" height="6.25" fill="#74cacd"/>
<rect x="241.60" y="314.77" width="6.26" height="6.25" fill="#8b191b"/>
<rect x="246.66" y="314.77" width="6.26" height="6.25" fill="#e92428"/>
<rect x="251.72" y="314.77" width="6.26" height="6.25" fill="#8b191b"/>
<rect x="256.78" y="314.77" width="6.26" height="6.25" fill="#b3d45c"/>
<rect x="261.84" y="314.77" width="11.32" height="6.25" fill="#fcb61a"/>
<rect x="271.96" y="314.77" width="11.32" height="6.25" fill="#8b191b"/>
<rect x="282.08" y="314.77" width="6.26" height="6.25" fill="#f57f22"/>
<rect x="287.14" y="314.77" width="6.26" height="6.25" fill="#fbe813"/>
<rect x="292.20" y="314.77" width="6.26" height="6.25" fill="#41bdea"/>
<rect x="297.26" y="314.77" width="6.26" height="6.25" fill="#2b52a6"/>
<rect x="302.32" y="314.77" width="11.32" height="6.25" fill="#27348b"/>
<rect x="312.44" y="314.77" width="6.26" height="6.25" fill="#2b52a6"/>
<rect x="317.50" y="314.77" width="6.26" height="6.25" fill="#74cacd"/>
<rect x="322.56" y="314.77" width="6.26" height="6.25" fill="#41bdea"/>
<rect x="327.62" y="314.77" width="6.26" height="6.25" fill="#b3d45c"/>
<rect x="332.68" y="314.77" width="6.26" height="6.25" fill="#8b191b"/>
<rect x="337.74" y="314.77" width="6.26" height="6.25" fill="#fbe813"/>
<rect x="342.80" y="314.77" width="6.26" height="6.25" fill="#e92428"/>
<rect x="347.86" y="314.77" width="31.56" height="6.25" fill="#8b191b"/>
<rect x="378.22" y="314.77" width="6.26" height="6.25" fill="#74cacd"/>
<rect x="383.28" y="314.77" width="6.26" height="6.25" fill="#f57f22"/>
<rect x="388.34" y="314.77" width="5.06" height="6.25" fill="#8b191b"/>
<rect x="241.60" y="319.82" width="16.38" height="6.25" fill="#8b191b"/>
<rect x="256.78" y="319.82" width="16.38" height="6.25" fill="#f57f22"/>
<rect x="271.96" y="319.82" width="6.26" height="6.25" fill="#fbe813"/>
<rect x="277.02" y="319.82" width="11.32" height="6.25" fill="#fcb61a"/>
<rect x="287.14" y="319.82" width="6.26" height="6.25" fill="#fbe813"/>
<rect x="292.20" y="319.82" width="6.26" height="6.25" fill="#e92428"/>
<rect x="297.26" y="319.82" width="6.26" height="6.25" fill="#41bdea"/>
<rect x="302.32" y="319.82" width="21.44" height="6.25" fill="#27348b"/>
<rect x="322.56" y="319.82" width="6.26" height="6.25" fill="#fbe813"/>
<rect x="327.62" y="319.82" width="6.26" height="6.25" fill="#74cacd"/>
<rect x="332.68" y="319.82" width="11.32" height="6.25" fill="#f57f22"/>
<rect x="342.80" y="319.82" width="11.32" height="6.25" fill="#e92428"/>
<rect x="352.92" y="319.82" width="31.56" height="6.25" fill="#8b191b"/>
<rect x="383.28" y="319.82" width="6.26" height="6.25" fill="#f57f22"/>
<rect x="388.34" y="319.82" width="5.06" height="6.25" fill="#8b191b"/>
<rect x="241.60" y="324.87" width="21.44" height="6.25" fill="#8b191b"/>
<rect x="261.84" y="324.87" width="6.26" height="6.25" fill="#f57f22"/>
<rect x="266.90" y="324.87" width="6.26" height="6.25" fill="#e92428"/>
<rect x="271.96" y="324.87" width="6.26" height="6.25" fill="#fbe813"/>
<rect x="277.02" y="324.87" width="6.26" height="6.25" fill="#3a80cb"/>
<rect x="282.08" y="324.87" width="6.26" height="6.25" fill="#fcb61a"/>
<rect x="287.14" y="324.87" width="6.26" height="6.25" fill="#41bdea"/>
<rect x="292.20" y="324.87" width="6.26" height="6.25" fill="#f57f22"/>
<rect x="297.26" y="324.87" width="6.26" height="6.25" fill="#b3d45c"/>
<rect x="302.32" y="324.87" width="11.32" height="6.25" fill="#3a80cb"/>
<rect x="312.44" y="324.87" width="11.32" height="6.25" fill="#27348b"/>
<rect x="322.56" y="324.87" width="6.26" height="6.25" fill="#2b52a6"/>
<rect x="327.62" y="324.87" width="6.26" height="6.25" fill="#fcb61a"/>
<rect x="332.68" y="324.87" width="21.44" height="6.25" fill="#8b191b"/>
<rect x="352.92" y="324.87" width="6.26" height="6.25" fill="#e92428"/>
<rect x="357.98" y="324.87" width="16.38" height="6.25" fill="#8b191b"/>
<rect x="373.16" y="324.87" width="6.26" height="6.25" fill="#fcb61a"/>
<rect x="378.22" y="324.87" width="6.26" height="6.25" fill="#8b191b"/>
<rect x="383.28" y="324.87" width="6.26" height="6.25" fill="#f57f22"/>
<rect x="388.34" y="324.87" width="5.06" height="6.25" fill="#8b191b"/>
<rect x="241.60" y="329.91" width="26.50" height="6.25" fill="#8b191b"/>
<rect x="266.90" y="329.91" width="6.26" height="6.25" fill="#f57f22"/>
<rect x="271.96" y="329.91" width="6.26" height="6.25" fill="#b3d45c"/>
<rect x="277.02" y="329.91" width="16.38" height="6.25" fill="#2b52a6"/>
<rect x="292.20" y="329.91" width="11.32" height="6.25" fill="#74cacd"/>
<rect x="302.32" y="329.91" width="6.26" height="6.25" fill="#fcb61a"/>
<rect x="307.38" y="329.91" width="6.26" height="6.25" fill="#74cacd"/>
<rect x="312.44" y="329.91" width="6.26" height="6.25" fill="#2b52a6"/>
<rect x="317.50" y="329.91" width="11.32" height="6.25" fill="#27348b"/>
<rect x="327.62" y="329.91" width="16.38" height="6.25" fill="#74cacd"/>
<rect x="342.80" y="329.91" width="6.26" height="6.25" fill="#e92428"/>
<rect x="347.86" y="329.91" width="31.56" height="6.25" fill="#8b191b"/>
<rect x="378.22" y="329.91" width="6.26" height="6.25" fill="#fcb61a"/>
<rect x="383.28" y="329.91" width="6.26" height="6.25" fill="#f57f22"/>
<rect x="388.34" y="329.91" width="5.06" height="6.25" fill="#e92428"/>
<rect x="241.60" y="334.96" width="26.50" height="6.25" fill="#8b191b"/>
<rect x="266.90" y="334.96" width="6.26" height="6.25" fill="#e92428"/>
<rect x="271.96" y="334.96" width="11.32" height="6.25" fill="#b3d45c"/>
<rect x="282.08" y="334.96" width="6.26" height="6.25" fill="#2b52a6"/>
<rect x="287.14" y="334.96" width="6.26" height="6.25" fill="#41bdea"/>
<rect x="292.20" y="334.96" width="6.26" height="6.25" fill="#fbe813"/>
<rect x="297.26" y="334.96" width="6.26" height="6.25" fill="#41bdea"/>
<rect x="302.32" y="334.96" width="6.26" height="6.25" fill="#b3d45c"/>
<rect x="307.38" y="334.96" width="6.26" height="6.25" fill="#74cacd"/>
<rect x="312.44" y="334.96" width="6.26" height="6.25" fill="#fbe813"/>
<rect x="317.50" y="334.96" width="16.38" height="6.25" fill="#27348b"/>
<rect x="332.68" y="334.96" width="6.26" height="6.25" fill="#fcb61a"/>
<rect x="337.74" y="334.96" width="11.32" height="6.25" fill="#f57f22"/>
<rect x="347.86" y="334.96" width="16.38" height="6.25" fill="#e92428"/>
<rect x="363.04" y="334.96" width="6.26" height="6.25" fill="#8b191b"/>
<rect x="368.10" y="334.96" width="6.26" height="6.25" fill="#fcb61a"/>
<rect x="373.16" y="334.96" width="6.26" height="6.25" fill="#b3d45c"/>
<rect x="378.22" y="334.96" width="6.26" height="6.25" fill="#e92428"/>
<rect x="383.28" y="334.96" width="6.26" height="6.25" fill="#74cacd"/>
<rect x="388.34" y="334.96" width="5.06" height="6.25" fill="#fbe813"/>
<rect x="241.60" y="340.01" width="6.26" height="6.25" fill="#e92428"/>
<rect x="246.66" y="340.01" width="6.26" height="6.25" fill="#fbe813"/>
<rect x="251.72" y="340.01" width="6.26" height="6.25" fill="#f57f22"/>
<rect x="256.78" y="340.01" width="11.32" height="6.25" fill="#8b191b"/>
<rect x="266.90" y="340.01" width="6.26" height="6.25" fill="#fcb61a"/>
<rect x="271.96" y="340.01" width="6.26" height="6.25" fill="#74cacd"/>
<rect x="277.02" y="340.01" width="6.26" height="6.25" fill="#41bdea"/>
<rect x="282.08" y="340.01" width="6.26" height="6.25" fill="#2b52a6"/>
<rect x="287.14" y="340.01" width="6.26" height="6.25" fill="#3a80cb"/>
<rect x="292.20" y="340.01" width="16.38" height="6.25" fill="#27348b"/>
<rect x="307.38" y="340.01" width="6.26" height="6.25" fill="#41bdea"/>
<rect x="312.44" y="340.01" width="6.26" height="6.25" fill="#b3d45c"/>
<rect x="317.50" y="340.01" width="6.26" height="6.25" fill="#2b52a6"/>
<rect x="322.56" y="340.01" width="26.50" height="6.25" fill="#27348b"/>
<rect x="347.86" y="340.01" width="6.26" height="6.25" fill="#74cacd"/>
<rect x="352.92" y="340.01" width="6.26" height="6.25" fill="#fcb61a"/>
<rect x="357.98" y="340.01" width="6.26" height="6.25" fill="#e92428"/>
<rect x="363.04" y="340.01" width="6.26" height="6.25" fill="#f57f22"/>
<rect x="368.10" y="340.01" width="6.26" height="6.25" fill="#b3d45c"/>
<rect x="373.16" y="340.01" width="11.32" height="6.25" fill="#fbe813"/>
<rect x="383.28" y="340.01" width="10.12" height="6.25" fill="#f57f22"/>
<rect x="241.60" y="345.05" width="6.26" height="5.05" fill="#27348b"/>
<rect x="246.66" y="345.05" width="6.26" height="5.05" fill="#2b52a6"/>
<rect x="251.72" y="345.05" width="6.26" height="5.05" fill="#fcb61a"/>
<rect x="256.78" y="345.05" width="6.26" height="5.05" fill="#b3d45c"/>
<rect x="261.84" y="345.05" width="6.26" height="5.05" fill="#fbe813"/>
<rect x="266.90" y="345.05" width="6.26" height="5.05" fill="#f57f22"/>
<rect x="271.96" y="345.05" width="6.26" height="5.05" fill="#e92428"/>
<rect x="277.02" y="345.05" width="16.38" height="5.05" fill="#2b52a6"/>
<rect x="292.20" y="345.05" width="66.98" height="5.05" fill="#27348b"/>
<rect x="357.98" y="345.05" width="6.26" height="5.05" fill="#3a80cb"/>
<rect x="363.04" y="345.05" width="6.26" height="5.05" fill="#41bdea"/>
<rect x="368.10" y="345.05" width="6.26" height="5.05" fill="#74cacd"/>
<rect x="373.16" y="345.05" width="6.26" height="5.05" fill="#fbe813"/>
<rect x="378.22" y="345.05" width="6.26" height="5.05" fill="#fcb61a"/>
<rect x="383.28" y="345.05" width="6.26" height="5.05" fill="#3a80cb"/>
<rect x="388.34" y="345.05" width="5.06" height="5.05" fill="#27348b"/>
</g>
<rect x="2.0" y="22.3" width="26.0" height="16.2" fill="#f0dfd9"/>
<text x="13.8" y="33.7" font-size="16" text-anchor="middle" style="stroke-width:0.2px">a</text>
<rect x="241.1" y="21.3" width="15.4" height="17.4" fill="#ddd8e5"/>
<rect x="256.5" y="21.3" width="11.3" height="17.4" fill="#e7f2f6"/>
<text x="254.4" y="33.8" font-size="15" text-anchor="middle" style="stroke-width:0.2px">b</text>
<rect x="1.6" y="198.2" width="24.6" height="18.4" fill="#f2dfd9"/>
<text x="12.5" y="210.9" font-size="16" text-anchor="middle" style="stroke-width:0.2px">c</text>
<rect x="241.6" y="198.7" width="15.4" height="17.6" fill="#f2dfd9"/>
<rect x="257.0" y="198.7" width="11.0" height="17.6" fill="#eaf4f6"/>
<text x="254.0" y="211.7" font-size="14" text-anchor="middle" style="stroke-width:0.2px">d</text>
<rect x="171.5" y="22.0" width="23.3" height="150.5" fill="url(#jet)" stroke="#2a2a60" stroke-width="0.7"/>
<rect x="412.0" y="21.3" width="22.8" height="151.0" fill="url(#jet)" stroke="#2a2a60" stroke-width="0.7"/>
<rect x="173.2" y="198.3" width="22.8" height="151.2" fill="url(#jet)" stroke="#2a2a60" stroke-width="0.7"/>
<rect x="413.2" y="198.3" width="22.8" height="151.2" fill="url(#jet)" stroke="#2a2a60" stroke-width="0.7"/>
<path d="M171.5 31.5h1.8M194.8 31.5h-1.8" stroke="#25255a" stroke-opacity="0.7" stroke-width="0.5" fill="none"/>
<path d="M171.5 56.0h1.8M194.8 56.0h-1.8" stroke="#25255a" stroke-opacity="0.7" stroke-width="0.5" fill="none"/>
<path d="M171.5 80.6h1.8M194.8 80.6h-1.8" stroke="#25255a" stroke-opacity="0.7" stroke-width="0.5" fill="none"/>
<path d="M171.5 105.2h1.8M194.8 105.2h-1.8" stroke="#25255a" stroke-opacity="0.7" stroke-width="0.5" fill="none"/>
<path d="M171.5 129.7h1.8M194.8 129.7h-1.8" stroke="#25255a" stroke-opacity="0.7" stroke-width="0.5" fill="none"/>
<path d="M171.5 154.2h1.8M194.8 154.2h-1.8" stroke="#25255a" stroke-opacity="0.7" stroke-width="0.5" fill="none"/>
<path d="M412.0 33.0h1.8M434.8 33.0h-1.8" stroke="#25255a" stroke-opacity="0.7" stroke-width="0.5" fill="none"/>
<path d="M412.0 64.2h1.8M434.8 64.2h-1.8" stroke="#25255a" stroke-opacity="0.7" stroke-width="0.5" fill="none"/>
<path d="M412.0 95.5h1.8M434.8 95.5h-1.8" stroke="#25255a" stroke-opacity="0.7" stroke-width="0.5" fill="none"/>
<path d="M412.0 126.8h1.8M434.8 126.8h-1.8" stroke="#25255a" stroke-opacity="0.7" stroke-width="0.5" fill="none"/>
<path d="M412.0 158.0h1.8M434.8 158.0h-1.8" stroke="#25255a" stroke-opacity="0.7" stroke-width="0.5" fill="none"/>
<path d="M173.2 266.2h1.8M196.0 266.2h-1.8" stroke="#25255a" stroke-opacity="0.7" stroke-width="0.5" fill="none"/>
<path d="M173.2 332.3h1.8M196.0 332.3h-1.8" stroke="#25255a" stroke-opacity="0.7" stroke-width="0.5" fill="none"/>
<path d="M413.2 203.3h1.8M436.0 203.3h-1.8" stroke="#25255a" stroke-opacity="0.7" stroke-width="0.5" fill="none"/>
<path d="M413.2 273.8h1.8M436.0 273.8h-1.8" stroke="#25255a" stroke-opacity="0.7" stroke-width="0.5" fill="none"/>
<path d="M413.2 344.7h1.8M436.0 344.7h-1.8" stroke="#25255a" stroke-opacity="0.7" stroke-width="0.5" fill="none"/>
<text x="37.5" y="18.5" font-size="13.2" textLength="74.6" lengthAdjust="spacingAndGlyphs">Component 1</text>
<text x="277.5" y="18.1" font-size="13.2" textLength="75.4" lengthAdjust="spacingAndGlyphs">Component 2</text>
<text x="38.0" y="194.5" font-size="13.2" textLength="75.0" lengthAdjust="spacingAndGlyphs">Component 3</text>
<text x="277.5" y="194.9" font-size="13.2" textLength="75.8" lengthAdjust="spacingAndGlyphs">Component 4</text>
<text x="194.0" y="16.6" font-size="13" textLength="22.6" lengthAdjust="spacingAndGlyphs">x 10</text>
<text x="219.0" y="8.6" font-size="8.6" textLength="9.6" lengthAdjust="spacingAndGlyphs" style="stroke-width:0.55px">−3</text>
<text x="435.0" y="15.2" font-size="13" textLength="22.6" lengthAdjust="spacingAndGlyphs">x 10</text>
<text x="460.0" y="7.2" font-size="8.6" textLength="9.6" lengthAdjust="spacingAndGlyphs" style="stroke-width:0.55px">−4</text>
<text x="195.8" y="192.7" font-size="13" textLength="22.6" lengthAdjust="spacingAndGlyphs">x 10</text>
<text x="221.0" y="184.7" font-size="8.6" textLength="9.6" lengthAdjust="spacingAndGlyphs" style="stroke-width:0.55px">−4</text>
<text x="435.8" y="192.7" font-size="13" textLength="22.6" lengthAdjust="spacingAndGlyphs">x 10</text>
<text x="461.0" y="184.7" font-size="8.6" textLength="9.6" lengthAdjust="spacingAndGlyphs" style="stroke-width:0.55px">−5</text>
<text x="197.4" y="36.1" font-size="13" textLength="14.3" lengthAdjust="spacingAndGlyphs">−1</text>
<text x="197.4" y="60.7" font-size="13" textLength="23.2" lengthAdjust="spacingAndGlyphs">−1.1</text>
<text x="197.4" y="85.2" font-size="13" textLength="23.2" lengthAdjust="spacingAndGlyphs">−1.2</text>
<text x="197.4" y="109.8" font-size="13" textLength="23.2" lengthAdjust="spacingAndGlyphs">−1.3</text>
<text x="197.4" y="134.3" font-size="13" textLength="23.2" lengthAdjust="spacingAndGlyphs">−1.4</text>
<text x="197.4" y="158.8" font-size="13" textLength="23.2" lengthAdjust="spacingAndGlyphs">−1.5</text>
<text x="439.0" y="37.6" font-size="13" textLength="6.3" lengthAdjust="spacingAndGlyphs">2</text>
<text x="439.0" y="68.8" font-size="13" textLength="6.3" lengthAdjust="spacingAndGlyphs">1</text>
<text x="439.0" y="100.1" font-size="13" textLength="6.3" lengthAdjust="spacingAndGlyphs">0</text>
<text x="438.4" y="131.3" font-size="13" textLength="14.3" lengthAdjust="spacingAndGlyphs">−1</text>
<text x="438.4" y="162.6" font-size="13" textLength="14.3" lengthAdjust="spacingAndGlyphs">−2</text>
<text x="200.0" y="205.6" font-size="13" textLength="6.3" lengthAdjust="spacingAndGlyphs">1</text>
<text x="200.0" y="270.8" font-size="13" textLength="6.3" lengthAdjust="spacingAndGlyphs">0</text>
<text x="199.4" y="336.9" font-size="13" textLength="14.3" lengthAdjust="spacingAndGlyphs">−1</text>
<text x="440.4" y="207.9" font-size="13" textLength="6.3" lengthAdjust="spacingAndGlyphs">5</text>
<text x="440.4" y="278.4" font-size="13" textLength="6.3" lengthAdjust="spacingAndGlyphs">0</text>
<text x="440.0" y="349.3" font-size="13" textLength="13.8" lengthAdjust="spacingAndGlyphs">−5</text>
</svg>
</body></html>
